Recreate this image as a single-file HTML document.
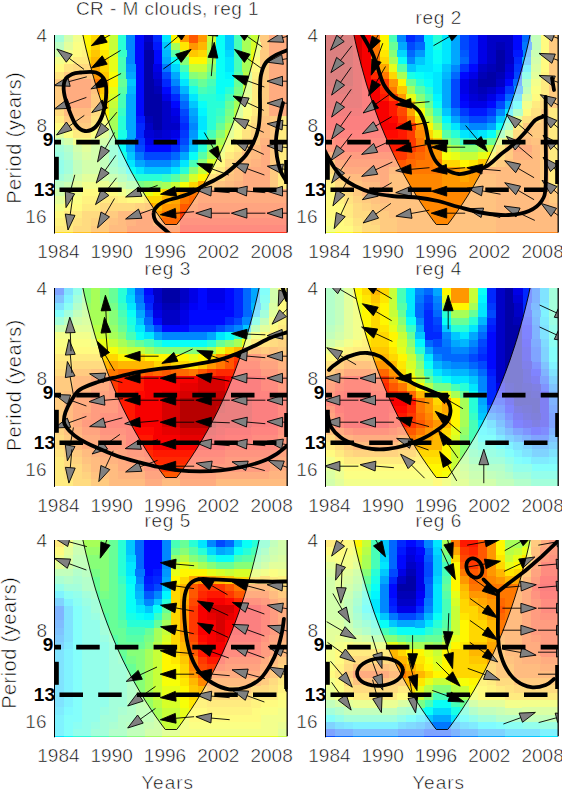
<!DOCTYPE html>
<html><head><meta charset="utf-8"><title>wavelet coherence</title>
<style>
html,body{margin:0;padding:0;background:#fff}
body{width:562px;height:792px;position:relative;overflow:hidden;font-family:"Liberation Sans",sans-serif}
svg text{font-family:"Liberation Sans",sans-serif;fill:#000;stroke:#fff;stroke-width:0.55px}
svg text[font-weight]{stroke:none}
</style></head><body>
<svg width="562" height="792" viewBox="0 0 562 792" style="position:absolute;left:0;top:0">
<defs>
<clipPath id="c1"><rect x="55" y="35" width="232" height="197.6"/></clipPath>
<clipPath id="c2"><rect x="326" y="35" width="232" height="197.6"/></clipPath>
<clipPath id="c3"><rect x="55" y="288" width="232" height="197.9"/></clipPath>
<clipPath id="c4"><rect x="326" y="288" width="232" height="197.9"/></clipPath>
<clipPath id="c5"><rect x="55" y="540" width="232" height="196.3"/></clipPath>
<clipPath id="c6"><rect x="326" y="540" width="232" height="196.3"/></clipPath>
</defs>
<g shape-rendering="crispEdges">
<path fill="#48ffb7" d="M55 35H64.2V42.6H55zM233.5 35H242.7V42.6H233.5zM233.5 42.3H242.7V49.9H233.5zM233.5 49.6H242.7V57.3H233.5zM117.5 57H126.7V64.6H117.5zM233.5 57H242.7V64.6H233.5zM117.5 64.3H126.7V71.9H117.5zM179.9 64.3H189.1V71.9H179.9zM233.5 64.3H242.7V71.9H233.5zM188.8 78.9H198.1V86.5H188.8zM206.7 78.9H215.9V86.5H206.7zM197.8 86.2H207V93.8H197.8zM117.5 93.5H126.7V101.2H117.5zM224.5 93.5H233.8V101.2H224.5zM117.5 100.9H126.7V108.5H117.5zM215.6 115.5H224.8V123.1H215.6zM206.7 130.1H215.9V137.8H206.7zM55 144.8H64.2V152.4H55zM108.5 144.8H117.8V152.4H108.5zM108.5 152.1H117.8V159.7H108.5zM63.9 159.4H73.1V167H63.9zM188.8 159.4H198.1V167H188.8zM63.9 166.7H73.1V174.4H63.9zM117.5 166.7H126.7V174.4H117.5zM55 174.1H64.2V181.7H55zM126.4 174.1H135.6V181.7H126.4z"/>
<path fill="#a7ff58" d="M63.9 35H73.1V42.6H63.9zM242.4 35H251.6V42.6H242.4zM171 42.3H180.2V49.9H171zM242.4 42.3H251.6V49.9H242.4zM55 49.6H64.2V57.3H55zM206.7 49.6H215.9V57.3H206.7zM242.4 49.6H251.6V57.3H242.4zM206.7 57H215.9V64.6H206.7zM242.4 57H251.6V64.6H242.4zM242.4 64.3H251.6V71.9H242.4zM233.5 100.9H242.7V108.5H233.5zM108.5 115.5H117.8V123.1H108.5zM108.5 122.8H117.8V130.4H108.5zM224.5 122.8H233.8V130.4H224.5zM63.9 137.5H73.1V145.1H63.9zM99.6 137.5H108.8V145.1H99.6zM215.6 137.5H224.8V145.1H215.6zM72.8 144.8H82.1V152.4H72.8zM90.7 144.8H99.9V152.4H90.7zM90.7 152.1H99.9V159.7H90.7zM206.7 152.1H215.9V159.7H206.7zM81.8 159.4H99.9V167H81.8zM81.8 166.7H99.9V174.4H81.8zM72.8 174.1H82.1V181.7H72.8zM99.6 174.1H108.8V181.7H99.6zM117.5 181.4H126.7V189H117.5zM162.1 181.4H171.3V189H162.1zM55 188.7H64.2V196.3H55z"/>
<path fill="#e7ff18" d="M72.8 35H82.1V42.6H72.8zM63.9 49.6H73.1V57.3H63.9zM251.3 49.6H260.5V57.3H251.3zM55 57H64.2V64.6H55zM108.5 57H117.8V64.6H108.5zM108.5 64.3H117.8V71.9H108.5zM108.5 86.2H117.8V93.8H108.5zM242.4 100.9H251.6V108.5H242.4zM99.6 122.8H108.8V130.4H99.6zM233.5 122.8H242.7V130.4H233.5zM72.8 137.5H82.1V145.1H72.8zM224.5 137.5H233.8V145.1H224.5zM215.6 152.1H224.8V159.7H215.6zM81.8 181.4H99.9V189H81.8zM72.8 188.7H82.1V196.3H72.8zM117.5 188.7H126.7V196.3H117.5zM144.2 188.7H153.5V196.3H144.2zM63.9 196H73.1V203.6H63.9zM55 203.3H64.2V210.9H55z"/>
<path fill="#fff700" d="M81.8 35H91V42.6H81.8zM99.6 35H108.8V42.6H99.6zM171 35H180.2V42.6H171zM81.8 42.3H91V49.9H81.8zM99.6 42.3H108.8V49.9H99.6zM72.8 49.6H82.1V57.3H72.8zM63.9 57H73.1V64.6H63.9zM188.8 57H207V64.6H188.8zM251.3 57H260.5V64.6H251.3zM55 64.3H64.2V71.9H55zM251.3 64.3H260.5V71.9H251.3zM108.5 78.9H117.8V86.5H108.5zM99.6 108.2H108.8V115.8H99.6zM242.4 115.5H251.6V123.1H242.4zM55 122.8H64.2V130.4H55zM233.5 137.5H242.7V145.1H233.5zM224.5 144.8H233.8V152.4H224.5zM215.6 159.4H224.8V167H215.6zM206.7 166.7H215.9V174.4H206.7zM197.8 174.1H207V181.7H197.8zM81.8 188.7H117.8V196.3H81.8zM153.2 188.7H162.4V196.3H153.2zM126.4 196H144.5V203.6H126.4zM63.9 203.3H82.1V210.9H63.9zM55 210.6H64.2V218.3H55z"/>
<path fill="#ffd700" d="M90.7 35H99.9V42.6H90.7zM90.7 42.3H99.9V49.9H90.7zM197.8 49.6H207V57.3H197.8zM72.8 57H91V64.6H72.8zM99.6 57H108.8V64.6H99.6zM99.6 64.3H108.8V71.9H99.6zM251.3 78.9H260.5V86.5H251.3zM251.3 86.2H260.5V93.8H251.3zM99.6 93.5H108.8V101.2H99.6zM251.3 93.5H260.5V101.2H251.3zM99.6 100.9H108.8V108.5H99.6zM251.3 100.9H260.5V108.5H251.3zM251.3 108.2H260.5V115.8H251.3zM55 115.5H64.2V123.1H55zM278.1 115.5H287.3V123.1H278.1zM90.7 122.8H99.9V130.4H90.7zM242.4 122.8H251.6V130.4H242.4zM278.1 122.8H287.3V130.4H278.1zM72.8 130.1H91V137.8H72.8zM278.1 130.1H287.3V137.8H278.1zM278.1 137.5H287.3V145.1H278.1zM233.5 144.8H242.7V152.4H233.5zM278.1 144.8H287.3V152.4H278.1zM224.5 152.1H233.8V159.7H224.5zM278.1 152.1H287.3V159.7H278.1zM278.1 159.4H287.3V167H278.1zM215.6 166.7H224.8V174.4H215.6zM278.1 166.7H287.3V174.4H278.1zM278.1 174.1H287.3V181.7H278.1zM188.8 181.4H198.1V189H188.8zM278.1 181.4H287.3V189H278.1zM162.1 188.7H171.3V196.3H162.1zM99.6 196H117.8V203.6H99.6zM144.2 196H162.4V203.6H144.2zM81.8 203.3H99.9V210.9H81.8zM63.9 210.6H82.1V218.3H63.9zM63.9 218H73.1V225.6H63.9zM55 225.3H73.1V232.9H55z"/>
<path fill="#c7ff38" d="M108.5 35H117.8V42.6H108.5zM206.7 35H215.9V42.6H206.7zM251.3 35H260.5V42.6H251.3zM63.9 42.3H73.1V49.9H63.9zM108.5 42.3H117.8V49.9H108.5zM179.9 49.6H189.1V57.3H179.9zM188.8 64.3H207V71.9H188.8zM242.4 78.9H251.6V86.5H242.4zM242.4 86.2H251.6V93.8H242.4zM108.5 100.9H117.8V108.5H108.5zM233.5 115.5H242.7V123.1H233.5zM55 130.1H64.2V137.8H55zM99.6 130.1H108.8V137.8H99.6zM224.5 130.1H233.8V137.8H224.5zM90.7 137.5H99.9V145.1H90.7zM81.8 144.8H91V152.4H81.8zM215.6 144.8H224.8V152.4H215.6zM197.8 166.7H207V174.4H197.8zM81.8 174.1H99.9V181.7H81.8zM72.8 181.4H82.1V189H72.8zM108.5 181.4H117.8V189H108.5zM171 181.4H180.2V189H171zM63.9 188.7H73.1V196.3H63.9zM126.4 188.7H144.5V196.3H126.4zM55 196H64.2V203.6H55z"/>
<path fill="#28ffd7" d="M117.5 35H126.7V42.6H117.5zM117.5 42.3H126.7V49.9H117.5zM224.5 86.2H233.8V93.8H224.5zM197.8 93.5H215.9V101.2H197.8zM206.7 100.9H224.8V108.5H206.7zM206.7 108.2H215.9V115.8H206.7zM117.5 115.5H126.7V123.1H117.5zM206.7 115.5H215.9V123.1H206.7zM117.5 122.8H126.7V130.4H117.5zM206.7 122.8H215.9V130.4H206.7zM197.8 144.8H207V152.4H197.8zM55 159.4H64.2V167H55zM117.5 159.4H126.7V167H117.5zM55 166.7H64.2V174.4H55zM179.9 166.7H189.1V174.4H179.9zM135.3 174.1H162.4V181.7H135.3z"/>
<path fill="#0087ff" d="M126.4 35H135.6V42.6H126.4zM126.4 42.3H135.6V49.9H126.4zM126.4 49.6H135.6V57.3H126.4zM126.4 57H135.6V64.6H126.4zM171 78.9H180.2V86.5H171zM179.9 93.5H189.1V101.2H179.9zM188.8 122.8H198.1V130.4H188.8zM144.2 159.4H171.3V167H144.2z"/>
<path fill="#0008ff" d="M135.3 35H144.5V42.6H135.3zM135.3 42.3H144.5V49.9H135.3zM135.3 49.6H144.5V57.3H135.3zM153.2 49.6H162.4V57.3H153.2zM135.3 57H144.5V64.6H135.3zM153.2 57H162.4V64.6H153.2zM135.3 64.3H144.5V71.9H135.3zM135.3 71.6H144.5V79.2H135.3zM135.3 78.9H144.5V86.5H135.3zM135.3 86.2H144.5V93.8H135.3zM162.1 86.2H171.3V93.8H162.1zM135.3 93.5H144.5V101.2H135.3zM135.3 100.9H144.5V108.5H135.3zM171 100.9H180.2V108.5H171zM135.3 108.2H144.5V115.8H135.3zM171 137.5H180.2V145.1H171zM144.2 144.8H171.3V152.4H144.2z"/>
<path fill="#0000c7" d="M144.2 35H153.5V42.6H144.2zM153.2 78.9H162.4V86.5H153.2zM162.1 100.9H171.3V108.5H162.1zM162.1 108.2H171.3V115.8H162.1zM162.1 115.5H171.3V123.1H162.1zM144.2 122.8H153.5V130.4H144.2zM162.1 122.8H180.2V130.4H162.1zM153.2 130.1H162.4V137.8H153.2z"/>
<path fill="#0028ff" d="M153.2 35H162.4V42.6H153.2zM162.1 78.9H171.3V86.5H162.1zM171 93.5H180.2V101.2H171zM135.3 122.8H144.5V130.4H135.3zM179.9 122.8H189.1V130.4H179.9zM135.3 130.1H144.5V137.8H135.3zM171 144.8H180.2V152.4H171z"/>
<path fill="#00e7ff" d="M162.1 35H171.3V42.6H162.1zM224.5 57H233.8V64.6H224.5zM224.5 64.3H233.8V71.9H224.5zM179.9 78.9H189.1V86.5H179.9zM188.8 93.5H198.1V101.2H188.8zM197.8 115.5H207V123.1H197.8zM197.8 122.8H207V130.4H197.8zM126.4 159.4H135.6V167H126.4zM179.9 159.4H189.1V167H179.9zM135.3 166.7H144.5V174.4H135.3zM171 166.7H180.2V174.4H171z"/>
<path fill="#ff9700" d="M179.9 35H189.1V42.6H179.9zM197.8 35H207V42.6H197.8zM260.2 35H269.5V42.6H260.2zM188.8 42.3H198.1V49.9H188.8zM260.2 42.3H269.5V49.9H260.2zM260.2 49.6H269.5V57.3H260.2zM260.2 57H269.5V64.6H260.2zM260.2 64.3H269.5V71.9H260.2zM63.9 71.6H73.1V79.2H63.9zM90.7 71.6H99.9V79.2H90.7zM260.2 71.6H269.5V79.2H260.2zM55 78.9H64.2V86.5H55zM260.2 78.9H269.5V86.5H260.2zM55 86.2H64.2V93.8H55zM260.2 86.2H269.5V93.8H260.2zM55 93.5H64.2V101.2H55zM90.7 93.5H99.9V101.2H90.7zM260.2 93.5H269.5V101.2H260.2zM55 100.9H64.2V108.5H55zM90.7 100.9H99.9V108.5H90.7zM260.2 100.9H269.5V108.5H260.2zM260.2 108.2H269.5V115.8H260.2zM63.9 115.5H73.1V123.1H63.9zM269.2 115.5H278.4V123.1H269.2zM72.8 122.8H91V130.4H72.8zM269.2 122.8H278.4V130.4H269.2zM269.2 130.1H278.4V137.8H269.2zM251.3 137.5H260.5V145.1H251.3zM269.2 137.5H278.4V145.1H269.2zM242.4 144.8H251.6V152.4H242.4zM269.2 144.8H278.4V152.4H269.2zM269.2 152.1H278.4V159.7H269.2zM233.5 159.4H242.7V167H233.5zM269.2 159.4H278.4V167H269.2zM224.5 166.7H233.8V174.4H224.5zM269.2 166.7H278.4V174.4H269.2zM269.2 174.1H278.4V181.7H269.2zM206.7 181.4H215.9V189H206.7zM269.2 181.4H278.4V189H269.2zM179.9 188.7H189.1V196.3H179.9zM144.2 203.3H153.5V210.9H144.2zM162.1 203.3H180.2V210.9H162.1zM99.6 210.6H117.8V218.3H99.6zM153.2 210.6H162.4V218.3H153.2zM99.6 218H108.8V225.6H99.6zM90.7 225.3H108.8V232.9H90.7z"/>
<path fill="#ff5800" d="M188.8 35H198.1V42.6H188.8zM269.2 35H287.3V42.6H269.2zM269.2 42.3H287.3V49.9H269.2zM269.2 49.6H287.3V57.3H269.2zM269.2 57H287.3V64.6H269.2zM269.2 64.3H287.3V71.9H269.2zM269.2 71.6H287.3V79.2H269.2zM63.9 78.9H91V86.5H63.9zM269.2 78.9H287.3V86.5H269.2zM63.9 86.2H91V93.8H63.9zM269.2 86.2H287.3V93.8H269.2zM63.9 93.5H91V101.2H63.9zM269.2 93.5H287.3V101.2H269.2zM63.9 100.9H91V108.5H63.9zM269.2 100.9H287.3V108.5H269.2zM269.2 108.2H287.3V115.8H269.2zM260.2 144.8H269.5V152.4H260.2zM260.2 152.1H269.5V159.7H260.2zM260.2 159.4H269.5V167H260.2zM242.4 166.7H269.5V174.4H242.4zM242.4 174.1H269.5V181.7H242.4zM242.4 181.4H269.5V189H242.4zM197.8 188.7H287.3V196.3H197.8zM197.8 196H287.3V203.6H197.8zM179.9 203.3H198.1V210.9H179.9zM135.3 210.6H153.5V218.3H135.3zM135.3 218H153.5V225.6H135.3zM126.4 225.3H180.2V232.9H126.4z"/>
<path fill="#08fff7" d="M215.6 35H224.8V42.6H215.6zM215.6 42.3H224.8V49.9H215.6zM215.6 49.6H224.8V57.3H215.6zM171 57H180.2V64.6H171zM215.6 57H224.8V64.6H215.6zM215.6 64.3H224.8V71.9H215.6zM215.6 71.6H224.8V79.2H215.6zM215.6 78.9H233.8V86.5H215.6zM215.6 86.2H224.8V93.8H215.6zM197.8 100.9H207V108.5H197.8zM117.5 137.5H126.7V145.1H117.5zM197.8 137.5H207V145.1H197.8zM117.5 144.8H126.7V152.4H117.5zM188.8 152.1H198.1V159.7H188.8zM126.4 166.7H135.6V174.4H126.4z"/>
<path fill="#00c7ff" d="M224.5 35H233.8V42.6H224.5zM162.1 42.3H171.3V49.9H162.1zM224.5 42.3H233.8V49.9H224.5zM126.4 78.9H135.6V86.5H126.4zM188.8 100.9H198.1V108.5H188.8zM188.8 144.8H198.1V152.4H188.8zM126.4 152.1H135.6V159.7H126.4zM144.2 166.7H171.3V174.4H144.2z"/>
<path fill="#78ff87" d="M55 42.3H64.2V49.9H55zM233.5 86.2H242.7V93.8H233.5zM224.5 108.2H233.8V115.8H224.5zM117.5 174.1H126.7V181.7H117.5zM55 181.4H64.2V189H55zM135.3 181.4H144.5V189H135.3z"/>
<path fill="#f7ff08" d="M72.8 42.3H82.1V49.9H72.8zM108.5 71.6H117.8V79.2H108.5zM242.4 108.2H251.6V115.8H242.4zM99.6 115.5H108.8V123.1H99.6zM63.9 130.1H73.1V137.8H63.9zM90.7 130.1H99.9V137.8H90.7zM233.5 130.1H242.7V137.8H233.5zM81.8 137.5H91V145.1H81.8zM179.9 181.4H189.1V189H179.9zM72.8 196H82.1V203.6H72.8z"/>
<path fill="#0000b7" d="M144.2 42.3H153.5V49.9H144.2zM153.2 86.2H162.4V93.8H153.2zM144.2 115.5H153.5V123.1H144.2z"/>
<path fill="#0018ff" d="M153.2 42.3H162.4V49.9H153.2zM135.3 115.5H144.5V123.1H135.3z"/>
<path fill="#ffe700" d="M179.9 42.3H189.1V49.9H179.9zM81.8 49.6H91V57.3H81.8zM99.6 49.6H108.8V57.3H99.6zM251.3 71.6H260.5V79.2H251.3zM81.8 196H99.9V203.6H81.8zM117.5 196H126.7V203.6H117.5zM55 218H64.2V225.6H55z"/>
<path fill="#ffb700" d="M197.8 42.3H207V49.9H197.8zM90.7 57H99.9V64.6H90.7zM72.8 64.3H91V71.9H72.8zM99.6 78.9H108.8V86.5H99.6zM55 108.2H64.2V115.8H55zM90.7 108.2H99.9V115.8H90.7zM63.9 122.8H73.1V130.4H63.9zM251.3 122.8H260.5V130.4H251.3zM242.4 137.5H251.6V145.1H242.4zM233.5 152.1H242.7V159.7H233.5zM224.5 159.4H233.8V167H224.5zM215.6 174.1H224.8V181.7H215.6zM171 188.7H180.2V196.3H171zM162.1 196H171.3V203.6H162.1zM99.6 203.3H135.6V210.9H99.6zM153.2 203.3H162.4V210.9H153.2zM81.8 210.6H99.9V218.3H81.8zM81.8 218H91V225.6H81.8zM72.8 225.3H91V232.9H72.8z"/>
<path fill="#b7ff48" d="M206.7 42.3H215.9V49.9H206.7zM242.4 71.6H251.6V79.2H242.4zM108.5 108.2H117.8V115.8H108.5zM233.5 108.2H242.7V115.8H233.5zM81.8 152.1H91V159.7H81.8z"/>
<path fill="#d7ff28" d="M251.3 42.3H260.5V49.9H251.3zM108.5 49.6H117.8V57.3H108.5zM108.5 93.5H117.8V101.2H108.5zM242.4 93.5H251.6V101.2H242.4zM206.7 159.4H215.9V167H206.7zM188.8 174.1H198.1V181.7H188.8zM99.6 181.4H108.8V189H99.6z"/>
<path fill="#ffc700" d="M90.7 49.6H99.9V57.3H90.7zM188.8 49.6H198.1V57.3H188.8zM63.9 64.3H73.1V71.9H63.9zM55 71.6H64.2V79.2H55zM99.6 71.6H108.8V79.2H99.6zM99.6 86.2H108.8V93.8H99.6zM90.7 115.5H99.9V123.1H90.7zM251.3 115.5H260.5V123.1H251.3zM242.4 130.1H251.6V137.8H242.4zM206.7 174.1H215.9V181.7H206.7zM72.8 218H82.1V225.6H72.8z"/>
<path fill="#38ffc7" d="M117.5 49.6H126.7V57.3H117.5zM206.7 86.2H215.9V93.8H206.7zM117.5 108.2H126.7V115.8H117.5zM215.6 108.2H224.8V115.8H215.6zM55 152.1H64.2V159.7H55zM162.1 174.1H171.3V181.7H162.1z"/>
<path fill="#0000a7" d="M144.2 49.6H153.5V57.3H144.2zM144.2 57H153.5V64.6H144.2zM144.2 64.3H153.5V71.9H144.2zM144.2 71.6H153.5V79.2H144.2zM144.2 78.9H153.5V86.5H144.2zM144.2 86.2H153.5V93.8H144.2zM144.2 93.5H162.4V101.2H144.2zM144.2 100.9H162.4V108.5H144.2zM144.2 108.2H162.4V115.8H144.2zM153.2 115.5H162.4V123.1H153.2zM153.2 122.8H162.4V130.4H153.2z"/>
<path fill="#00b7ff" d="M162.1 49.6H171.3V57.3H162.1zM126.4 86.2H135.6V93.8H126.4zM179.9 86.2H189.1V93.8H179.9z"/>
<path fill="#58ffa7" d="M171 49.6H180.2V57.3H171zM117.5 71.6H126.7V79.2H117.5zM233.5 71.6H242.7V79.2H233.5zM117.5 86.2H126.7V93.8H117.5zM63.9 152.1H73.1V159.7H63.9zM197.8 152.1H207V159.7H197.8zM108.5 159.4H117.8V167H108.5zM171 174.1H180.2V181.7H171z"/>
<path fill="#00d7ff" d="M224.5 49.6H233.8V57.3H224.5zM171 64.3H180.2V71.9H171z"/>
<path fill="#00a7ff" d="M162.1 57H171.3V64.6H162.1zM126.4 71.6H135.6V79.2H126.4zM171 71.6H180.2V79.2H171zM126.4 93.5H135.6V101.2H126.4zM126.4 100.9H135.6V108.5H126.4zM126.4 108.2H135.6V115.8H126.4zM188.8 108.2H198.1V115.8H188.8zM126.4 115.5H135.6V123.1H126.4zM126.4 122.8H135.6V130.4H126.4zM126.4 130.1H135.6V137.8H126.4zM126.4 137.5H135.6V145.1H126.4zM188.8 137.5H198.1V145.1H188.8zM126.4 144.8H135.6V152.4H126.4zM179.9 152.1H189.1V159.7H179.9zM135.3 159.4H144.5V167H135.3zM171 159.4H180.2V167H171z"/>
<path fill="#87ff78" d="M179.9 57H189.1V64.6H179.9zM206.7 64.3H215.9V71.9H206.7zM188.8 71.6H198.1V79.2H188.8zM233.5 93.5H242.7V101.2H233.5zM224.5 115.5H233.8V123.1H224.5zM108.5 130.1H117.8V137.8H108.5zM215.6 130.1H224.8V137.8H215.6zM55 137.5H64.2V145.1H55zM99.6 144.8H108.8V152.4H99.6zM206.7 144.8H215.9V152.4H206.7zM99.6 152.1H108.8V159.7H99.6zM72.8 159.4H82.1V167H72.8zM99.6 159.4H108.8V167H99.6zM197.8 159.4H207V167H197.8zM72.8 166.7H82.1V174.4H72.8zM99.6 166.7H108.8V174.4H99.6zM188.8 166.7H198.1V174.4H188.8zM179.9 174.1H189.1V181.7H179.9zM126.4 181.4H135.6V189H126.4zM144.2 181.4H153.5V189H144.2z"/>
<path fill="#ffa700" d="M90.7 64.3H99.9V71.9H90.7zM251.3 130.1H260.5V137.8H251.3zM197.8 181.4H207V189H197.8zM171 196H180.2V203.6H171zM135.3 203.3H144.5V210.9H135.3zM90.7 218H99.9V225.6H90.7z"/>
<path fill="#0097ff" d="M126.4 64.3H135.6V71.9H126.4zM188.8 115.5H198.1V123.1H188.8zM188.8 130.1H198.1V137.8H188.8z"/>
<path fill="#0000e7" d="M153.2 64.3H162.4V71.9H153.2zM162.1 93.5H171.3V101.2H162.1zM171 108.2H180.2V115.8H171zM171 130.1H180.2V137.8H171zM144.2 137.5H171.3V145.1H144.2z"/>
<path fill="#0078ff" d="M162.1 64.3H171.3V71.9H162.1zM135.3 152.1H144.5V159.7H135.3z"/>
<path fill="#ff8700" d="M72.8 71.6H91V79.2H72.8zM90.7 86.2H99.9V93.8H90.7zM72.8 115.5H91V123.1H72.8zM260.2 115.5H269.5V123.1H260.2zM242.4 152.1H251.6V159.7H242.4zM224.5 174.1H233.8V181.7H224.5zM215.6 181.4H224.8V189H215.6zM108.5 218H117.8V225.6H108.5z"/>
<path fill="#0000d7" d="M153.2 71.6H162.4V79.2H153.2zM171 115.5H180.2V123.1H171zM144.2 130.1H153.5V137.8H144.2zM162.1 130.1H171.3V137.8H162.1z"/>
<path fill="#0048ff" d="M162.1 71.6H171.3V79.2H162.1zM179.9 108.2H189.1V115.8H179.9zM179.9 137.5H189.1V145.1H179.9zM135.3 144.8H144.5V152.4H135.3zM144.2 152.1H171.3V159.7H144.2z"/>
<path fill="#18ffe7" d="M179.9 71.6H189.1V79.2H179.9zM188.8 86.2H198.1V93.8H188.8zM215.6 93.5H224.8V101.2H215.6zM117.5 130.1H126.7V137.8H117.5zM117.5 152.1H126.7V159.7H117.5z"/>
<path fill="#97ff68" d="M197.8 71.6H207V79.2H197.8zM72.8 152.1H82.1V159.7H72.8zM108.5 174.1H117.8V181.7H108.5zM63.9 181.4H73.1V189H63.9zM153.2 181.4H162.4V189H153.2z"/>
<path fill="#68ff97" d="M206.7 71.6H215.9V79.2H206.7zM117.5 78.9H126.7V86.5H117.5zM197.8 78.9H207V86.5H197.8zM233.5 78.9H242.7V86.5H233.5zM224.5 100.9H233.8V108.5H224.5zM215.6 122.8H224.8V130.4H215.6zM108.5 137.5H117.8V145.1H108.5zM206.7 137.5H215.9V145.1H206.7zM63.9 144.8H73.1V152.4H63.9zM108.5 166.7H117.8V174.4H108.5zM63.9 174.1H73.1V181.7H63.9z"/>
<path fill="#00f7ff" d="M224.5 71.6H233.8V79.2H224.5zM197.8 108.2H207V115.8H197.8zM197.8 130.1H207V137.8H197.8z"/>
<path fill="#ff7800" d="M90.7 78.9H99.9V86.5H90.7zM63.9 108.2H91V115.8H63.9zM260.2 122.8H269.5V130.4H260.2zM260.2 130.1H269.5V137.8H260.2zM251.3 144.8H260.5V152.4H251.3zM251.3 152.1H260.5V159.7H251.3zM242.4 159.4H251.6V167H242.4zM233.5 166.7H242.7V174.4H233.5zM233.5 174.1H242.7V181.7H233.5zM224.5 181.4H233.8V189H224.5zM188.8 188.7H198.1V196.3H188.8zM179.9 196H189.1V203.6H179.9zM117.5 210.6H135.6V218.3H117.5zM162.1 210.6H180.2V218.3H162.1zM117.5 218H126.7V225.6H117.5zM153.2 218H162.4V225.6H153.2zM108.5 225.3H126.7V232.9H108.5z"/>
<path fill="#0058ff" d="M171 86.2H180.2V93.8H171z"/>
<path fill="#0068ff" d="M179.9 100.9H189.1V108.5H179.9zM179.9 144.8H189.1V152.4H179.9zM171 152.1H180.2V159.7H171z"/>
<path fill="#0038ff" d="M179.9 115.5H189.1V123.1H179.9zM179.9 130.1H189.1V137.8H179.9zM135.3 137.5H144.5V145.1H135.3z"/>
<path fill="#ff6800" d="M260.2 137.5H269.5V145.1H260.2zM251.3 159.4H260.5V167H251.3zM233.5 181.4H242.7V189H233.5zM188.8 196H198.1V203.6H188.8zM126.4 218H135.6V225.6H126.4zM162.1 218H180.2V225.6H162.1z"/>
<path fill="#ff4800" d="M197.8 203.3H287.3V210.9H197.8z"/>
<path fill="#ff3800" d="M179.9 210.6H287.3V218.3H179.9z"/>
<path fill="#ff2800" d="M179.9 218H287.3V225.6H179.9z"/>
<path fill="#ff1800" d="M179.9 225.3H287.3V232.9H179.9z"/>
</g>
<g clip-path="url(#c1)">
<path d="M91.3 45.7L102.3 33.7L107.2 42.2z" fill="#000"/>
<path d="M190.2 26.3L181.5 40L175.2 32.5z" fill="#000"/>
<path d="M214.3 20.3L217.8 36.1L208 35.3z" fill="#000"/>
<path d="M234.5 27.4L250 32.3L244.4 40.4z" fill="#000"/>
<path d="M267.6 41.6L281.3 32.9L283.8 42.3z" fill="#000"/>
<path d="M56.8 49L72.2 54.4L66.3 62.2z" fill="#000"/>
<path d="M91.4 68L102.2 55.8L107.2 64.2z" fill="#000"/>
<path d="M191.1 49.4L181.2 62.4L175.6 54.3z" fill="#000"/>
<path d="M214.3 42.3L217.8 58.1L208 57.3z" fill="#000"/>
<path d="M234.5 49.4L250 54.3L244.4 62.4z" fill="#000"/>
<path d="M267.3 62.2L281.7 54.6L283.4 64.3z" fill="#000"/>
<path d="M54 85.6L67.7 76.9L70.2 86.3z" fill="#000"/>
<path d="M90.9 88.9L102.4 77.5L106.9 86.2z" fill="#000"/>
<path d="M232.4 75.4L248.7 76.1L245.3 85.3z" fill="#000"/>
<path d="M267 81.2L282.5 76.3L282.5 86.1z" fill="#000"/>
<path d="M54.4 109L67.3 99.1L70.7 108.3z" fill="#000"/>
<path d="M91.7 112.5L102.1 99.9L107.4 108.1z" fill="#000"/>
<path d="M233 96L249.1 98.1L245 107z" fill="#000"/>
<path d="M267 103.2L282.5 98.3L282.5 108.1z" fill="#000"/>
<path d="M56.5 135L66.4 122L72 130.1z" fill="#000"/>
<path d="M95.1 138.2L101.3 123.2L108.8 129.5z" fill="#000"/>
<path d="M233 118L249.1 120.1L245 129z" fill="#000"/>
<path d="M267.1 123.7L282.9 120.2L282.1 130z" fill="#000"/>
<path d="M97.5 161.9L101 146L109.5 150.9z" fill="#000"/>
<path d="M221.3 161.9L209.3 150.9L217.8 146z" fill="#000"/>
<path d="M233 140L249.1 142.1L245 151z" fill="#000"/>
<path d="M267.1 145.7L282.9 142.2L282.1 152z" fill="#000"/>
<path d="M96.2 183.1L101.1 167.6L109.2 173.2z" fill="#000"/>
<path d="M196.8 163.4L213.1 164.1L209.7 173.3z" fill="#000"/>
<path d="M232.4 163.4L248.7 164.1L245.3 173.3z" fill="#000"/>
<path d="M267.3 166.2L283.4 164.1L281.7 173.8z" fill="#000"/>
<path d="M66 207.6L65.3 191.4L74.7 193.9z" fill="#000"/>
<path d="M95.5 204.6L101.2 189.4L108.9 195.4z" fill="#000"/>
<path d="M125.6 197L138.5 187.1L141.9 196.3z" fill="#000"/>
<path d="M160.5 194.2L174.9 186.6L176.6 196.3z" fill="#000"/>
<path d="M195.9 189.7L211.7 186.2L210.9 196z" fill="#000"/>
<path d="M231.5 189.7L247.3 186.2L246.5 196z" fill="#000"/>
<path d="M267 191.2L282.5 186.3L282.5 196.1z" fill="#000"/>
<path d="M68 230L65.3 214L75 215.4z" fill="#000"/>
<path d="M97.5 227.9L101 212L109.5 216.9z" fill="#000"/>
<path d="M125.6 219L138.5 209.1L141.9 218.3z" fill="#000"/>
<path d="M160.3 214.7L175.3 208.4L176.1 218.2z" fill="#000"/>
<path d="M195.8 213.2L211.3 208.3L211.3 218.1z" fill="#000"/>
<path d="M231.4 213.2L246.9 208.3L246.9 218.1z" fill="#000"/>
<path d="M267 213.2L282.5 208.3L282.5 218.1z" fill="#000"/>
<path d="M55 35L82.9 35L83.6 38L84.2 41L84.9 44L85.6 47L86.3 50L87.1 53L87.8 56L88.6 59L89.4 62L90.1 65L91 68L91.8 71L92.6 74L93.5 77L94.3 80L95.2 83L96.1 86L97.1 89L98 92L99 95L100 98L101 101L102 104L103 107L104.1 110L105.2 113L106.3 116L107.4 119L108.6 122L109.7 125L110.9 128L112.2 131L113.4 134L114.7 137L116 140L117.3 143L118.6 146L120 149L121.4 152L122.8 155L124.3 158L125.8 161L127.3 164L128.9 167L130.4 170L132 173L133.7 176L135.4 179L137.1 182L138.8 185L140.6 188L142.4 191L144.3 194L146.1 197L148.1 200L150 203L152 206L154.1 209L156.1 212L158.3 215L160.4 218L162.6 221L164.9 224L165.3 224.5L176.7 224.5L177.1 224L179.4 221L181.6 218L183.7 215L185.9 212L187.9 209L190 206L192 203L193.9 200L195.9 197L197.7 194L199.6 191L201.4 188L203.2 185L204.9 182L206.6 179L208.3 176L210 173L211.6 170L213.1 167L214.7 164L216.2 161L217.7 158L219.2 155L220.6 152L222 149L223.4 146L224.7 143L226 140L227.3 137L228.6 134L229.8 131L231.1 128L232.3 125L233.4 122L234.6 119L235.7 116L236.8 113L237.9 110L239 107L240 104L241 101L242 98L243 95L244 92L244.9 89L245.9 86L246.8 83L247.7 80L248.5 77L249.4 74L250.2 71L251 68L251.9 65L252.6 62L253.4 59L254.2 56L254.9 53L255.7 50L256.4 47L257.1 44L257.8 41L258.4 38L259.1 35L287 35L287 232.6L55 232.6z" fill="#fff" fill-opacity="0.5"/>
<path d="M82.9 35L83.6 38L84.2 41L84.9 44L85.6 47L86.3 50L87.1 53L87.8 56L88.6 59L89.4 62L90.1 65L91 68L91.8 71L92.6 74L93.5 77L94.3 80L95.2 83L96.1 86L97.1 89L98 92L99 95L100 98L101 101L102 104L103 107L104.1 110L105.2 113L106.3 116L107.4 119L108.6 122L109.7 125L110.9 128L112.2 131L113.4 134L114.7 137L116 140L117.3 143L118.6 146L120 149L121.4 152L122.8 155L124.3 158L125.8 161L127.3 164L128.9 167L130.4 170L132 173L133.7 176L135.4 179L137.1 182L138.8 185L140.6 188L142.4 191L144.3 194L146.1 197L148.1 200L150 203L152 206L154.1 209L156.1 212L158.3 215L160.4 218L162.6 221L164.9 224L165.3 224.5L176.7 224.5L177.1 224L179.4 221L181.6 218L183.7 215L185.9 212L187.9 209L190 206L192 203L193.9 200L195.9 197L197.7 194L199.6 191L201.4 188L203.2 185L204.9 182L206.6 179L208.3 176L210 173L211.6 170L213.1 167L214.7 164L216.2 161L217.7 158L219.2 155L220.6 152L222 149L223.4 146L224.7 143L226 140L227.3 137L228.6 134L229.8 131L231.1 128L232.3 125L233.4 122L234.6 119L235.7 116L236.8 113L237.9 110L239 107L240 104L241 101L242 98L243 95L244 92L244.9 89L245.9 86L246.8 83L247.7 80L248.5 77L249.4 74L250.2 71L251 68L251.9 65L252.6 62L253.4 59L254.2 56L254.9 53L255.7 50L256.4 47L257.1 44L257.8 41L258.4 38L259.1 35" stroke="#000" stroke-width="0.9" fill="none"/>
<path d="M120.7 28.7L104.7 38M91.3 45.7L102.3 33.7L107.2 42.2z" stroke="#000" stroke-width="0.9" fill="none" stroke-linejoin="round"/>
<path d="M164.2 48.1L178.3 36.2M190.2 26.3L181.5 40L175.2 32.5z" stroke="#000" stroke-width="0.9" fill="none" stroke-linejoin="round"/>
<path d="M211.3 54.1L212.9 35.7M214.3 20.3L217.8 36.1L208 35.3z" stroke="#000" stroke-width="0.9" fill="none" stroke-linejoin="round"/>
<path d="M262.3 47L247.2 36.3M234.5 27.4L250 32.3L244.4 40.4z" stroke="#000" stroke-width="0.9" fill="none" stroke-linejoin="round"/>
<path d="M300.4 32.8L282.6 37.6M267.6 41.6L281.3 32.9L283.8 42.3z" stroke="#000" stroke-width="0.9" fill="none" stroke-linejoin="round"/>
<path d="M84 69.4L69.2 58.3M56.8 49L72.2 54.4L66.3 62.2z" stroke="#000" stroke-width="0.9" fill="none" stroke-linejoin="round"/>
<path d="M120.6 50.4L104.7 60M91.4 68L102.2 55.8L107.2 64.2z" stroke="#000" stroke-width="0.9" fill="none" stroke-linejoin="round"/>
<path d="M163.3 69L178.4 58.3M191.1 49.4L181.2 62.4L175.6 54.3z" stroke="#000" stroke-width="0.9" fill="none" stroke-linejoin="round"/>
<path d="M211.3 76.1L212.9 57.7M214.3 42.3L217.8 58.1L208 57.3z" stroke="#000" stroke-width="0.9" fill="none" stroke-linejoin="round"/>
<path d="M262.3 69L247.2 58.3M234.5 49.4L250 54.3L244.4 62.4z" stroke="#000" stroke-width="0.9" fill="none" stroke-linejoin="round"/>
<path d="M300.7 56.2L282.5 59.5M267.3 62.2L281.7 54.6L283.4 64.3z" stroke="#000" stroke-width="0.9" fill="none" stroke-linejoin="round"/>
<path d="M86.8 76.8L69 81.6M54 85.6L67.7 76.9L70.2 86.3z" stroke="#000" stroke-width="0.9" fill="none" stroke-linejoin="round"/>
<path d="M121.1 73.5L104.7 81.9M90.9 88.9L102.4 77.5L106.9 86.2z" stroke="#000" stroke-width="0.9" fill="none" stroke-linejoin="round"/>
<path d="M264.4 87L247 80.7M232.4 75.4L248.7 76.1L245.3 85.3z" stroke="#000" stroke-width="0.9" fill="none" stroke-linejoin="round"/>
<path d="M301 81.2L282.5 81.2M267 81.2L282.5 76.3L282.5 86.1z" stroke="#000" stroke-width="0.9" fill="none" stroke-linejoin="round"/>
<path d="M86.4 97.4L69 103.7M54.4 109L67.3 99.1L70.7 108.3z" stroke="#000" stroke-width="0.9" fill="none" stroke-linejoin="round"/>
<path d="M120.3 93.9L104.7 104M91.7 112.5L102.1 99.9L107.4 108.1z" stroke="#000" stroke-width="0.9" fill="none" stroke-linejoin="round"/>
<path d="M263.8 110.4L247 102.6M233 96L249.1 98.1L245 107z" stroke="#000" stroke-width="0.9" fill="none" stroke-linejoin="round"/>
<path d="M301 103.2L282.5 103.2M267 103.2L282.5 98.3L282.5 108.1z" stroke="#000" stroke-width="0.9" fill="none" stroke-linejoin="round"/>
<path d="M84.3 115.4L69.2 126.1M56.5 135L66.4 122L72 130.1z" stroke="#000" stroke-width="0.9" fill="none" stroke-linejoin="round"/>
<path d="M116.9 112.2L105 126.3M95.1 138.2L101.3 123.2L108.8 129.5z" stroke="#000" stroke-width="0.9" fill="none" stroke-linejoin="round"/>
<path d="M263.8 132.4L247 124.6M233 118L249.1 120.1L245 129z" stroke="#000" stroke-width="0.9" fill="none" stroke-linejoin="round"/>
<path d="M300.9 126.7L282.5 125.1M267.1 123.7L282.9 120.2L282.1 130z" stroke="#000" stroke-width="0.9" fill="none" stroke-linejoin="round"/>
<path d="M114.5 132.5L105.2 148.5M97.5 161.9L101 146L109.5 150.9z" stroke="#000" stroke-width="0.9" fill="none" stroke-linejoin="round"/>
<path d="M204.3 132.5L213.6 148.5M221.3 161.9L209.3 150.9L217.8 146z" stroke="#000" stroke-width="0.9" fill="none" stroke-linejoin="round"/>
<path d="M263.8 154.4L247 146.6M233 140L249.1 142.1L245 151z" stroke="#000" stroke-width="0.9" fill="none" stroke-linejoin="round"/>
<path d="M300.9 148.7L282.5 147.1M267.1 145.7L282.9 142.2L282.1 152z" stroke="#000" stroke-width="0.9" fill="none" stroke-linejoin="round"/>
<path d="M115.8 155.3L105.1 170.4M96.2 183.1L101.1 167.6L109.2 173.2z" stroke="#000" stroke-width="0.9" fill="none" stroke-linejoin="round"/>
<path d="M228.8 175L211.4 168.7M196.8 163.4L213.1 164.1L209.7 173.3z" stroke="#000" stroke-width="0.9" fill="none" stroke-linejoin="round"/>
<path d="M264.4 175L247 168.7M232.4 163.4L248.7 164.1L245.3 173.3z" stroke="#000" stroke-width="0.9" fill="none" stroke-linejoin="round"/>
<path d="M300.7 172.2L282.5 168.9M267.3 166.2L283.4 164.1L281.7 173.8z" stroke="#000" stroke-width="0.9" fill="none" stroke-linejoin="round"/>
<path d="M74.8 174.8L70 192.6M66 207.6L65.3 191.4L74.7 193.9z" stroke="#000" stroke-width="0.9" fill="none" stroke-linejoin="round"/>
<path d="M116.5 177.8L105.1 192.4M95.5 204.6L101.2 189.4L108.9 195.4z" stroke="#000" stroke-width="0.9" fill="none" stroke-linejoin="round"/>
<path d="M157.6 185.4L140.2 191.7M125.6 197L138.5 187.1L141.9 196.3z" stroke="#000" stroke-width="0.9" fill="none" stroke-linejoin="round"/>
<path d="M193.9 188.2L175.7 191.5M160.5 194.2L174.9 186.6L176.6 196.3z" stroke="#000" stroke-width="0.9" fill="none" stroke-linejoin="round"/>
<path d="M229.7 192.7L211.3 191.1M195.9 189.7L211.7 186.2L210.9 196z" stroke="#000" stroke-width="0.9" fill="none" stroke-linejoin="round"/>
<path d="M265.3 192.7L246.9 191.1M231.5 189.7L247.3 186.2L246.5 196z" stroke="#000" stroke-width="0.9" fill="none" stroke-linejoin="round"/>
<path d="M301 191.2L282.5 191.2M267 191.2L282.5 186.3L282.5 196.1z" stroke="#000" stroke-width="0.9" fill="none" stroke-linejoin="round"/>
<path d="M72.8 196.4L70.2 214.7M68 230L65.3 214L75 215.4z" stroke="#000" stroke-width="0.9" fill="none" stroke-linejoin="round"/>
<path d="M114.5 198.5L105.2 214.5M97.5 227.9L101 212L109.5 216.9z" stroke="#000" stroke-width="0.9" fill="none" stroke-linejoin="round"/>
<path d="M157.6 207.4L140.2 213.7M125.6 219L138.5 209.1L141.9 218.3z" stroke="#000" stroke-width="0.9" fill="none" stroke-linejoin="round"/>
<path d="M194.1 211.7L175.7 213.3M160.3 214.7L175.3 208.4L176.1 218.2z" stroke="#000" stroke-width="0.9" fill="none" stroke-linejoin="round"/>
<path d="M229.8 213.2L211.3 213.2M195.8 213.2L211.3 208.3L211.3 218.1z" stroke="#000" stroke-width="0.9" fill="none" stroke-linejoin="round"/>
<path d="M265.4 213.2L246.9 213.2M231.4 213.2L246.9 208.3L246.9 218.1z" stroke="#000" stroke-width="0.9" fill="none" stroke-linejoin="round"/>
<path d="M301 213.2L282.5 213.2M267 213.2L282.5 208.3L282.5 218.1z" stroke="#000" stroke-width="0.9" fill="none" stroke-linejoin="round"/>
<path transform="translate(55 35)" d="M25.0 37.5C28.9 37.2 36.8 36.1 41.0 37.5C45.2 38.9 48.3 41.8 50.0 46.0C51.7 50.2 51.4 56.8 51.0 62.5C50.6 68.2 49.3 75.0 47.5 80.0C45.7 85.0 42.9 89.8 40.0 92.5C37.1 95.2 33.2 96.4 30.0 96.0C26.8 95.6 23.7 93.5 21.0 90.0C18.3 86.5 16.0 80.4 14.0 75.0C12.0 69.6 9.7 62.5 9.0 57.5C8.3 52.5 8.6 48.1 10.0 45.0C11.4 41.9 15.0 40.2 17.5 39.0C20.0 37.8 21.1 37.8 25.0 37.5z" stroke="#000" stroke-width="3.8" fill="none" stroke-linejoin="round" stroke-linecap="round"/>
<path transform="translate(55 35)" d="M115.0 199.0C113.8 198.0 110.4 195.2 108.0 193.0C105.6 190.8 102.1 188.6 100.6 186.0C99.1 183.4 98.3 179.9 98.8 177.3C99.2 174.7 101.2 172.1 103.3 170.2C105.4 168.3 107.9 167.0 111.3 165.7C114.7 164.4 119.6 163.5 123.7 162.2C127.8 160.9 132.0 159.6 136.2 157.7C140.3 155.8 144.8 152.7 148.6 150.6C152.4 148.5 155.7 147.1 159.3 145.2C162.9 143.3 166.4 141.5 170.0 139.0C173.6 136.5 177.5 133.2 181.0 130.0C184.5 126.8 188.1 123.8 191.0 120.0C193.9 116.2 196.4 112.1 198.5 107.5C200.6 102.9 202.4 97.9 203.5 92.5C204.6 87.1 204.8 81.2 205.0 75.0C205.2 68.8 204.8 60.8 205.0 55.0C205.2 49.2 205.0 44.6 206.0 40.0C207.0 35.4 208.5 30.8 211.0 27.5C213.5 24.2 217.3 22.1 221.0 20.0C224.7 17.9 231.0 15.8 233.0 15.0" stroke="#000" stroke-width="3.8" fill="none" stroke-linejoin="round" stroke-linecap="round"/>
<path transform="translate(55 35)" d="M228.0 68.0C227.3 70.8 225.2 78.8 224.0 85.0C222.8 91.2 221.3 98.8 221.0 105.0C220.7 111.2 221.2 116.7 222.0 122.0C222.8 127.3 224.3 132.8 226.0 137.0C227.7 141.2 231.0 145.3 232.0 147.0" stroke="#000" stroke-width="3.8" fill="none" stroke-linejoin="round" stroke-linecap="round"/>
<path d="M55 142.1H291" stroke="#000" stroke-width="4.6" stroke-dasharray="23.5 15.2" stroke-dashoffset="17.5"/>
<path d="M55 189.8H291" stroke="#000" stroke-width="4.6" stroke-dasharray="23.5 15.2" stroke-dashoffset="34.2"/>
</g>
<rect x="54.5" y="156.8" width="4.3" height="23" fill="#000"/>
<path d="M287.2 35V232.6" stroke="#000" stroke-width="1.3"/>
<rect x="284.2" y="160" width="3.6" height="24" fill="#000"/>
<path d="M54.5 35V233.6" stroke="#000" stroke-width="1"/>
<text x="47" y="41.9" text-anchor="end" font-size="19">4</text>
<text x="47" y="131.7" text-anchor="end" font-size="19">8</text>
<text x="53.3" y="146.1" text-anchor="end" font-size="19" font-weight="bold">9</text>
<text x="55" y="195.7" text-anchor="end" font-size="19" font-weight="bold">13</text>
<text x="46.5" y="223.3" text-anchor="end" font-size="19">16</text>
<text x="58.4" y="258.4" text-anchor="middle" font-size="19">1984</text>
<text x="111.7" y="258.4" text-anchor="middle" font-size="19">1990</text>
<text x="165" y="258.4" text-anchor="middle" font-size="19">1996</text>
<text x="218.3" y="258.4" text-anchor="middle" font-size="19">2002</text>
<text x="271.6" y="258.4" text-anchor="middle" font-size="19">2008</text>
<text x="167.3" y="15.1" text-anchor="middle" font-size="19" textLength="182.8">CR - M clouds, reg 1</text>
<g shape-rendering="crispEdges">
<path fill="#b70000" d="M326 35H353.1V42.6H326zM326 42.3H353.1V49.9H326zM326 49.6H353.1V57.3H326zM326 57H353.1V64.6H326zM326 64.3H353.1V71.9H326zM326 71.6H353.1V79.2H326zM326 78.9H353.1V86.5H326z"/>
<path fill="#d70000" d="M352.8 35H362V42.6H352.8zM352.8 42.3H362V49.9H352.8zM352.8 49.6H362V57.3H352.8zM352.8 57H362V64.6H352.8zM352.8 64.3H362V71.9H352.8zM352.8 71.6H362V79.2H352.8zM352.8 78.9H362V86.5H352.8zM352.8 86.2H362V93.8H352.8zM326 93.5H362V101.2H326zM326 100.9H362V108.5H326z"/>
<path fill="#f70000" d="M361.7 35H370.9V42.6H361.7zM361.7 42.3H370.9V49.9H361.7zM361.7 49.6H370.9V57.3H361.7zM361.7 57H370.9V64.6H361.7zM361.7 64.3H370.9V71.9H361.7zM361.7 71.6H370.9V79.2H361.7zM361.7 78.9H379.8V86.5H361.7zM361.7 86.2H379.8V93.8H361.7zM361.7 93.5H379.8V101.2H361.7zM361.7 100.9H388.8V108.5H361.7zM361.7 108.2H388.8V115.8H361.7zM326 115.5H388.8V123.1H326zM326 122.8H397.7V130.4H326z"/>
<path fill="#ff7800" d="M370.6 35H379.8V42.6H370.6zM370.6 42.3H379.8V49.9H370.6zM370.6 49.6H379.8V57.3H370.6zM370.6 57H379.8V64.6H370.6zM379.5 71.6H388.8V79.2H379.5zM388.5 86.2H397.7V93.8H388.5zM406.3 115.5H415.5V123.1H406.3zM415.2 137.5H424.5V145.1H415.2zM522.3 137.5H531.5V145.1H522.3zM424.2 144.8H433.4V152.4H424.2zM531.2 144.8H540.5V152.4H531.2zM424.2 152.1H433.4V159.7H424.2zM531.2 152.1H540.5V159.7H531.2zM415.2 159.4H433.4V167H415.2zM513.4 159.4H540.5V167H513.4zM334.9 166.7H344.1V174.4H334.9zM388.5 166.7H442.3V174.4H388.5zM477.7 166.7H540.5V174.4H477.7zM343.8 174.1H362V181.7H343.8zM495.5 174.1H540.5V181.7H495.5zM361.7 181.4H379.8V189H361.7zM495.5 181.4H540.5V189H495.5zM361.7 188.7H379.8V196.3H361.7zM495.5 188.7H549.4V196.3H495.5zM379.5 196H388.8V203.6H379.5zM495.5 196H549.4V203.6H495.5zM495.5 203.3H549.4V210.9H495.5zM495.5 210.6H558.3V218.3H495.5zM495.5 218H558.3V225.6H495.5zM495.5 225.3H558.3V232.9H495.5z"/>
<path fill="#fff700" d="M379.5 35H388.8V42.6H379.5zM540.2 35H549.4V42.6H540.2zM379.5 42.3H388.8V49.9H379.5zM540.2 42.3H549.4V49.9H540.2zM540.2 49.6H549.4V57.3H540.2zM540.2 57H549.4V64.6H540.2zM540.2 64.3H549.4V71.9H540.2zM397.4 78.9H406.6V86.5H397.4zM531.2 93.5H540.5V101.2H531.2zM522.3 108.2H531.5V115.8H522.3zM424.2 122.8H433.4V130.4H424.2zM504.5 137.5H513.7V145.1H504.5zM486.6 152.1H495.8V159.7H486.6zM459.8 159.4H469.1V167H459.8zM326 188.7H335.2V196.3H326zM326 196H335.2V203.6H326zM326 203.3H344.1V210.9H326zM326 210.6H344.1V218.3H326zM334.9 218H344.1V225.6H334.9zM334.9 225.3H353.1V232.9H334.9z"/>
<path fill="#48ffb7" d="M388.5 35H397.7V42.6H388.5zM424.2 93.5H433.4V101.2H424.2zM477.7 137.5H486.9V145.1H477.7z"/>
<path fill="#0087ff" d="M397.4 35H406.6V42.6H397.4zM522.3 49.6H531.5V57.3H522.3zM406.3 57H415.5V64.6H406.3zM450.9 64.3H460.1V71.9H450.9zM495.5 108.2H504.8V115.8H495.5zM468.8 122.8H486.9V130.4H468.8z"/>
<path fill="#0028ff" d="M406.3 35H415.5V42.6H406.3zM468.8 35H478V42.6H468.8zM468.8 42.3H478V49.9H468.8zM468.8 49.6H478V57.3H468.8zM468.8 57H478V64.6H468.8zM513.4 57H522.6V64.6H513.4z"/>
<path fill="#0048ff" d="M415.2 35H424.5V42.6H415.2zM459.8 35H469.1V42.6H459.8zM406.3 42.3H415.5V49.9H406.3zM459.8 42.3H469.1V49.9H459.8zM513.4 71.6H522.6V79.2H513.4zM450.9 78.9H460.1V86.5H450.9zM450.9 86.2H460.1V93.8H450.9zM450.9 93.5H460.1V101.2H450.9zM450.9 100.9H460.1V108.5H450.9zM495.5 100.9H504.8V108.5H495.5zM468.8 115.5H486.9V123.1H468.8z"/>
<path fill="#00e7ff" d="M424.2 35H433.4V42.6H424.2zM442 35H451.2V42.6H442zM424.2 42.3H433.4V49.9H424.2zM442 42.3H451.2V49.9H442zM424.2 49.6H433.4V57.3H424.2zM442 49.6H451.2V57.3H442zM424.2 57H433.4V64.6H424.2zM442 57H451.2V64.6H442zM415.2 64.3H433.4V71.9H415.2zM522.3 64.3H531.5V71.9H522.3zM433.1 71.6H442.3V79.2H433.1zM433.1 78.9H442.3V86.5H433.1zM433.1 86.2H442.3V93.8H433.1zM504.5 108.2H513.7V115.8H504.5zM450.9 122.8H460.1V130.4H450.9zM459.8 130.1H469.1V137.8H459.8zM477.7 130.1H486.9V137.8H477.7z"/>
<path fill="#28ffd7" d="M433.1 35H442.3V42.6H433.1zM522.3 71.6H531.5V79.2H522.3zM415.2 78.9H424.5V86.5H415.2zM424.2 86.2H433.4V93.8H424.2zM504.5 115.5H513.7V123.1H504.5zM442 122.8H451.2V130.4H442zM450.9 130.1H460.1V137.8H450.9zM468.8 137.5H478V145.1H468.8z"/>
<path fill="#00a7ff" d="M450.9 35H460.1V42.6H450.9zM397.4 42.3H406.6V49.9H397.4zM450.9 42.3H460.1V49.9H450.9zM450.9 49.6H460.1V57.3H450.9zM450.9 57H460.1V64.6H450.9zM522.3 57H531.5V64.6H522.3zM442 78.9H451.2V86.5H442zM442 86.2H451.2V93.8H442zM442 93.5H451.2V101.2H442zM442 100.9H451.2V108.5H442zM504.5 100.9H513.7V108.5H504.5zM450.9 115.5H460.1V123.1H450.9zM459.8 122.8H469.1V130.4H459.8zM486.6 122.8H495.8V130.4H486.6z"/>
<path fill="#0000e7" d="M477.7 35H486.9V42.6H477.7zM477.7 42.3H486.9V49.9H477.7zM477.7 49.6H486.9V57.3H477.7zM477.7 57H486.9V64.6H477.7zM468.8 71.6H478V79.2H468.8zM504.5 71.6H513.7V79.2H504.5zM459.8 78.9H469.1V86.5H459.8zM459.8 86.2H469.1V93.8H459.8zM495.5 86.2H504.8V93.8H495.5zM486.6 93.5H495.8V101.2H486.6zM468.8 100.9H486.9V108.5H468.8z"/>
<path fill="#0000c7" d="M486.6 35H513.7V42.6H486.6zM486.6 42.3H495.8V49.9H486.6zM504.5 42.3H513.7V49.9H504.5zM486.6 49.6H495.8V57.3H486.6zM504.5 49.6H513.7V57.3H504.5zM486.6 57H495.8V64.6H486.6zM504.5 57H513.7V64.6H504.5zM477.7 64.3H486.9V71.9H477.7zM468.8 78.9H478V86.5H468.8zM495.5 78.9H504.8V86.5H495.5zM468.8 86.2H478V93.8H468.8zM486.6 86.2H495.8V93.8H486.6zM477.7 93.5H486.9V101.2H477.7z"/>
<path fill="#0008ff" d="M513.4 35H522.6V42.6H513.4zM513.4 42.3H522.6V49.9H513.4zM468.8 64.3H478V71.9H468.8zM459.8 71.6H469.1V79.2H459.8zM504.5 78.9H513.7V86.5H504.5zM459.8 100.9H469.1V108.5H459.8zM486.6 100.9H495.8V108.5H486.6z"/>
<path fill="#0068ff" d="M522.3 35H531.5V42.6H522.3zM415.2 42.3H424.5V49.9H415.2zM406.3 49.6H415.5V57.3H406.3zM459.8 57H469.1V64.6H459.8zM450.9 71.6H460.1V79.2H450.9zM513.4 78.9H522.6V86.5H513.4zM504.5 93.5H513.7V101.2H504.5zM459.8 115.5H469.1V123.1H459.8zM486.6 115.5H495.8V123.1H486.6z"/>
<path fill="#87ff78" d="M531.2 35H540.5V42.6H531.2zM531.2 42.3H540.5V49.9H531.2zM388.5 49.6H397.7V57.3H388.5zM522.3 86.2H531.5V93.8H522.3zM415.2 93.5H424.5V101.2H415.2zM442 137.5H451.2V145.1H442zM459.8 144.8H478V152.4H459.8z"/>
<path fill="#ff9700" d="M549.1 35H558.3V42.6H549.1zM549.1 42.3H558.3V49.9H549.1zM549.1 49.6H558.3V57.3H549.1zM549.1 57H558.3V64.6H549.1zM549.1 64.3H558.3V71.9H549.1zM549.1 71.6H558.3V79.2H549.1zM388.5 78.9H397.7V86.5H388.5zM549.1 78.9H558.3V86.5H549.1zM549.1 86.2H558.3V93.8H549.1zM397.4 93.5H406.6V101.2H397.4zM549.1 93.5H558.3V101.2H549.1zM549.1 100.9H558.3V108.5H549.1zM540.2 108.2H549.4V115.8H540.2zM540.2 115.5H549.4V123.1H540.2zM415.2 122.8H424.5V130.4H415.2zM522.3 122.8H549.4V130.4H522.3zM531.2 130.1H549.4V137.8H531.2zM540.2 137.5H549.4V145.1H540.2zM433.1 144.8H442.3V152.4H433.1zM504.5 144.8H513.7V152.4H504.5zM540.2 144.8H549.4V152.4H540.2zM433.1 152.1H442.3V159.7H433.1zM504.5 152.1H513.7V159.7H504.5zM540.2 152.1H549.4V159.7H540.2zM326 159.4H335.2V167H326zM495.5 159.4H504.8V167H495.5zM540.2 159.4H549.4V167H540.2zM442 166.7H460.1V174.4H442zM468.8 166.7H478V174.4H468.8zM540.2 166.7H549.4V174.4H540.2zM334.9 174.1H344.1V181.7H334.9zM442 174.1H460.1V181.7H442zM468.8 174.1H478V181.7H468.8zM540.2 174.1H549.4V181.7H540.2zM343.8 181.4H353.1V189H343.8zM442 181.4H478V189H442zM540.2 181.4H549.4V189H540.2zM352.8 188.7H362V196.3H352.8zM549.1 188.7H558.3V196.3H549.1zM361.7 196H370.9V203.6H361.7zM549.1 196H558.3V203.6H549.1zM370.6 203.3H379.8V210.9H370.6zM370.6 210.6H388.8V218.3H370.6zM379.5 218H397.7V225.6H379.5zM379.5 225.3H397.7V232.9H379.5z"/>
<path fill="#68ff97" d="M388.5 42.3H397.7V49.9H388.5zM406.3 78.9H415.5V86.5H406.3zM522.3 78.9H531.5V86.5H522.3zM424.2 100.9H433.4V108.5H424.2zM513.4 108.2H522.6V115.8H513.4zM433.1 115.5H442.3V123.1H433.1zM504.5 122.8H513.7V130.4H504.5zM495.5 130.1H504.8V137.8H495.5zM450.9 137.5H460.1V145.1H450.9zM486.6 137.5H495.8V145.1H486.6z"/>
<path fill="#18ffe7" d="M433.1 42.3H442.3V49.9H433.1zM406.3 71.6H415.5V79.2H406.3z"/>
<path fill="#0000b7" d="M495.5 42.3H504.8V49.9H495.5zM486.6 64.3H495.8V71.9H486.6zM477.7 71.6H486.9V79.2H477.7zM495.5 71.6H504.8V79.2H495.5zM477.7 86.2H486.9V93.8H477.7z"/>
<path fill="#0078ff" d="M522.3 42.3H531.5V49.9H522.3zM450.9 108.2H460.1V115.8H450.9z"/>
<path fill="#ffe700" d="M379.5 49.6H388.8V57.3H379.5zM540.2 71.6H549.4V79.2H540.2zM468.8 159.4H478V167H468.8zM326 181.4H335.2V189H326zM334.9 196H344.1V203.6H334.9zM343.8 218H353.1V225.6H343.8z"/>
<path fill="#00d7ff" d="M397.4 49.6H406.6V57.3H397.4zM468.8 130.1H478V137.8H468.8z"/>
<path fill="#0097ff" d="M415.2 49.6H424.5V57.3H415.2zM513.4 86.2H522.6V93.8H513.4z"/>
<path fill="#08fff7" d="M433.1 49.6H442.3V57.3H433.1zM397.4 57H406.6V64.6H397.4zM433.1 57H442.3V64.6H433.1zM415.2 71.6H424.5V79.2H415.2zM424.2 78.9H433.4V86.5H424.2zM433.1 100.9H442.3V108.5H433.1zM513.4 100.9H522.6V108.5H513.4zM495.5 122.8H504.8V130.4H495.5zM486.6 130.1H495.8V137.8H486.6z"/>
<path fill="#0058ff" d="M459.8 49.6H469.1V57.3H459.8z"/>
<path fill="#0000a7" d="M495.5 49.6H504.8V57.3H495.5zM495.5 57H504.8V64.6H495.5zM495.5 64.3H504.8V71.9H495.5zM486.6 71.6H495.8V79.2H486.6zM477.7 78.9H495.8V86.5H477.7z"/>
<path fill="#0018ff" d="M513.4 49.6H522.6V57.3H513.4zM495.5 93.5H504.8V101.2H495.5zM468.8 108.2H486.9V115.8H468.8z"/>
<path fill="#97ff68" d="M531.2 49.6H540.5V57.3H531.2zM424.2 108.2H433.4V115.8H424.2z"/>
<path fill="#ffd700" d="M379.5 57H388.8V64.6H379.5zM388.5 71.6H397.7V79.2H388.5zM540.2 78.9H549.4V86.5H540.2zM540.2 86.2H549.4V93.8H540.2zM406.3 100.9H415.5V108.5H406.3zM531.2 100.9H540.5V108.5H531.2zM549.1 108.2H558.3V115.8H549.1zM415.2 115.5H424.5V123.1H415.2zM549.1 115.5H558.3V123.1H549.1zM513.4 122.8H522.6V130.4H513.4zM549.1 122.8H558.3V130.4H549.1zM424.2 130.1H433.4V137.8H424.2zM549.1 130.1H558.3V137.8H549.1zM433.1 137.5H442.3V145.1H433.1zM549.1 137.5H558.3V145.1H549.1zM495.5 144.8H504.8V152.4H495.5zM549.1 144.8H558.3V152.4H549.1zM549.1 152.1H558.3V159.7H549.1zM442 159.4H460.1V167H442zM549.1 159.4H558.3V167H549.1zM549.1 166.7H558.3V174.4H549.1zM326 174.1H335.2V181.7H326zM549.1 174.1H558.3V181.7H549.1zM549.1 181.4H558.3V189H549.1zM334.9 188.7H344.1V196.3H334.9zM343.8 203.3H353.1V210.9H343.8zM343.8 210.6H353.1V218.3H343.8zM352.8 225.3H362V232.9H352.8z"/>
<path fill="#a7ff58" d="M388.5 57H397.7V64.6H388.5zM531.2 57H540.5V64.6H531.2zM397.4 71.6H406.6V79.2H397.4zM406.3 86.2H415.5V93.8H406.3zM433.1 122.8H442.3V130.4H433.1zM450.9 144.8H460.1V152.4H450.9zM477.7 144.8H486.9V152.4H477.7z"/>
<path fill="#00c7ff" d="M415.2 57H424.5V64.6H415.2zM406.3 64.3H415.5V71.9H406.3zM442 64.3H451.2V71.9H442zM513.4 93.5H522.6V101.2H513.4zM442 108.2H451.2V115.8H442zM495.5 115.5H504.8V123.1H495.5z"/>
<path fill="#ff5800" d="M370.6 64.3H379.8V71.9H370.6zM397.4 100.9H406.6V108.5H397.4zM415.2 144.8H424.5V152.4H415.2zM513.4 144.8H531.5V152.4H513.4zM406.3 152.1H415.5V159.7H406.3zM334.9 159.4H344.1V167H334.9zM388.5 159.4H406.6V167H388.5zM343.8 166.7H388.8V174.4H343.8zM379.5 174.1H388.8V181.7H379.5zM379.5 181.4H388.8V189H379.5zM379.5 188.7H388.8V196.3H379.5z"/>
<path fill="#ffa700" d="M379.5 64.3H388.8V71.9H379.5zM406.3 108.2H415.5V115.8H406.3zM424.2 137.5H433.4V145.1H424.2zM459.8 174.1H469.1V181.7H459.8zM352.8 196H362V203.6H352.8zM361.7 203.3H370.9V210.9H361.7zM370.6 218H379.8V225.6H370.6z"/>
<path fill="#e7ff18" d="M388.5 64.3H397.7V71.9H388.5zM531.2 78.9H540.5V86.5H531.2zM406.3 93.5H415.5V101.2H406.3zM522.3 100.9H531.5V108.5H522.3zM433.1 130.1H442.3V137.8H433.1zM450.9 152.1H460.1V159.7H450.9zM477.7 152.1H486.9V159.7H477.7zM326 225.3H335.2V232.9H326z"/>
<path fill="#58ffa7" d="M397.4 64.3H406.6V71.9H397.4zM415.2 86.2H424.5V93.8H415.2zM442 130.1H451.2V137.8H442z"/>
<path fill="#00f7ff" d="M433.1 64.3H442.3V71.9H433.1zM424.2 71.6H433.4V79.2H424.2zM433.1 93.5H442.3V101.2H433.1zM442 115.5H451.2V123.1H442z"/>
<path fill="#0038ff" d="M459.8 64.3H469.1V71.9H459.8zM513.4 64.3H522.6V71.9H513.4zM504.5 86.2H513.7V93.8H504.5zM459.8 108.2H469.1V115.8H459.8zM486.6 108.2H495.8V115.8H486.6z"/>
<path fill="#0000d7" d="M504.5 64.3H513.7V71.9H504.5zM468.8 93.5H478V101.2H468.8z"/>
<path fill="#b7ff48" d="M531.2 64.3H540.5V71.9H531.2zM522.3 93.5H531.5V101.2H522.3zM504.5 130.1H513.7V137.8H504.5z"/>
<path fill="#ff2800" d="M370.6 71.6H379.8V79.2H370.6zM379.5 86.2H388.8V93.8H379.5zM326 137.5H335.2V145.1H326z"/>
<path fill="#00b7ff" d="M442 71.6H451.2V79.2H442z"/>
<path fill="#c7ff38" d="M531.2 71.6H540.5V79.2H531.2zM415.2 100.9H424.5V108.5H415.2zM424.2 115.5H433.4V123.1H424.2zM513.4 115.5H522.6V123.1H513.4zM495.5 137.5H504.8V145.1H495.5zM442 144.8H451.2V152.4H442zM486.6 144.8H495.8V152.4H486.6zM459.8 152.1H478V159.7H459.8z"/>
<path fill="#ff3800" d="M379.5 78.9H388.8V86.5H379.5zM397.4 115.5H406.6V123.1H397.4zM406.3 122.8H415.5V130.4H406.3zM406.3 130.1H415.5V137.8H406.3zM406.3 137.5H415.5V145.1H406.3zM326 144.8H335.2V152.4H326zM406.3 144.8H415.5V152.4H406.3zM334.9 152.1H406.6V159.7H334.9z"/>
<path fill="#c70000" d="M326 86.2H353.1V93.8H326z"/>
<path fill="#ffc700" d="M397.4 86.2H406.6V93.8H397.4zM540.2 93.5H549.4V101.2H540.2zM531.2 108.2H540.5V115.8H531.2zM522.3 115.5H531.5V123.1H522.3zM477.7 159.4H486.9V167H477.7zM343.8 196H353.1V203.6H343.8zM352.8 218H362V225.6H352.8z"/>
<path fill="#f7ff08" d="M531.2 86.2H540.5V93.8H531.2zM415.2 108.2H424.5V115.8H415.2zM442 152.1H451.2V159.7H442zM326 218H335.2V225.6H326z"/>
<path fill="#ff1800" d="M379.5 93.5H388.8V101.2H379.5zM388.5 100.9H397.7V108.5H388.5zM388.5 108.2H397.7V115.8H388.5zM397.4 122.8H406.6V130.4H397.4zM326 130.1H335.2V137.8H326zM397.4 130.1H406.6V137.8H397.4zM334.9 137.5H406.6V145.1H334.9zM334.9 144.8H406.6V152.4H334.9z"/>
<path fill="#ff4800" d="M388.5 93.5H397.7V101.2H388.5zM397.4 108.2H406.6V115.8H397.4zM343.8 159.4H388.8V167H343.8z"/>
<path fill="#0000f7" d="M459.8 93.5H469.1V101.2H459.8z"/>
<path fill="#ffb700" d="M540.2 100.9H549.4V108.5H540.2zM531.2 115.5H540.5V123.1H531.2zM513.4 130.1H522.6V137.8H513.4zM495.5 152.1H504.8V159.7H495.5zM486.6 159.4H495.8V167H486.6zM326 166.7H335.2V174.4H326zM459.8 166.7H469.1V174.4H459.8zM334.9 181.4H344.1V189H334.9zM343.8 188.7H353.1V196.3H343.8zM352.8 203.3H362V210.9H352.8zM352.8 210.6H370.9V218.3H352.8zM361.7 218H370.9V225.6H361.7zM361.7 225.3H379.8V232.9H361.7z"/>
<path fill="#e70000" d="M326 108.2H362V115.8H326z"/>
<path fill="#38ffc7" d="M433.1 108.2H442.3V115.8H433.1zM459.8 137.5H469.1V145.1H459.8z"/>
<path fill="#ff0800" d="M388.5 115.5H397.7V123.1H388.5zM334.9 130.1H397.7V137.8H334.9z"/>
<path fill="#ff8700" d="M415.2 130.1H424.5V137.8H415.2zM522.3 130.1H531.5V137.8H522.3zM513.4 137.5H522.6V145.1H513.4zM531.2 137.5H540.5V145.1H531.2zM433.1 159.4H442.3V167H433.1zM504.5 159.4H513.7V167H504.5zM388.5 174.1H442.3V181.7H388.5zM477.7 174.1H495.8V181.7H477.7zM352.8 181.4H362V189H352.8zM388.5 181.4H442.3V189H388.5zM477.7 181.4H495.8V189H477.7zM388.5 188.7H495.8V196.3H388.5zM370.6 196H379.8V203.6H370.6zM388.5 196H495.8V203.6H388.5zM379.5 203.3H495.8V210.9H379.5zM549.1 203.3H558.3V210.9H549.1zM388.5 210.6H495.8V218.3H388.5zM397.4 218H495.8V225.6H397.4zM397.4 225.3H495.8V232.9H397.4z"/>
<path fill="#ff6800" d="M326 152.1H335.2V159.7H326zM415.2 152.1H424.5V159.7H415.2zM513.4 152.1H531.5V159.7H513.4zM406.3 159.4H415.5V167H406.3zM361.7 174.1H379.8V181.7H361.7z"/>
</g>
<g clip-path="url(#c2)">
<path d="M330.5 50.2L336.7 35.2L344.2 41.5z" fill="#000"/>
<path d="M368.5 51.9L372 36L380.5 40.9z" fill="#000"/>
<path d="M462.9 28.7L451.9 40.7L447 32.2z" fill="#000"/>
<path d="M539 31.4L555.3 32.1L551.9 41.3z" fill="#000"/>
<path d="M330.9 72.6L336.6 57.4L344.3 63.4z" fill="#000"/>
<path d="M371.2 75.2L371.9 58.9L381.1 62.3z" fill="#000"/>
<path d="M539 53.4L555.3 54.1L551.9 63.3z" fill="#000"/>
<path d="M331.6 95.1L336.5 79.6L344.6 85.2z" fill="#000"/>
<path d="M368.5 95.9L372 80L380.5 84.9z" fill="#000"/>
<path d="M539 75.4L555.3 76.1L551.9 85.3z" fill="#000"/>
<path d="M331.6 117.1L336.5 101.6L344.6 107.2z" fill="#000"/>
<path d="M363.1 113L373 100L378.6 108.1z" fill="#000"/>
<path d="M395.7 104.7L410.7 98.4L411.5 108.2z" fill="#000"/>
<path d="M540.3 94.7L556.2 98.2L551.3 106.7z" fill="#000"/>
<path d="M331.6 139.1L336.5 123.6L344.6 129.2z" fill="#000"/>
<path d="M362.3 133.7L373.3 121.7L378.2 130.2z" fill="#000"/>
<path d="M395.9 128.2L410.3 120.6L412 130.3z" fill="#000"/>
<path d="M506.4 114.3L521.4 120.5L515.1 128z" fill="#000"/>
<path d="M542 114.3L557 120.5L550.7 128z" fill="#000"/>
<path d="M330.9 160.6L336.6 145.4L344.3 151.4z" fill="#000"/>
<path d="M361.6 154.4L373.6 143.4L377.7 152.3z" fill="#000"/>
<path d="M395.9 150.2L410.3 142.6L412 152.3z" fill="#000"/>
<path d="M431.2 147.2L446.7 142.3L446.7 152.1z" fill="#000"/>
<path d="M506.4 136.3L521.4 142.5L515.1 150z" fill="#000"/>
<path d="M543 135.2L557.4 142.7L550.5 149.6z" fill="#000"/>
<path d="M331.6 183.1L336.5 167.6L344.6 173.2z" fill="#000"/>
<path d="M361.6 176.4L373.6 165.4L377.7 174.3z" fill="#000"/>
<path d="M395.7 170.7L410.7 164.4L411.5 174.2z" fill="#000"/>
<path d="M431.3 170.7L446.3 164.4L447.1 174.2z" fill="#000"/>
<path d="M466.9 167.7L482.7 164.2L481.9 174z" fill="#000"/>
<path d="M504.7 160.7L520.6 164.2L515.7 172.7z" fill="#000"/>
<path d="M543 157.2L557.4 164.7L550.5 171.6z" fill="#000"/>
<path d="M332.9 205.9L336.4 190L344.9 194.9z" fill="#000"/>
<path d="M362.3 199.7L373.3 187.7L378.2 196.2z" fill="#000"/>
<path d="M395.7 192.7L410.7 186.4L411.5 196.2z" fill="#000"/>
<path d="M431.2 191.2L446.7 186.3L446.7 196.1z" fill="#000"/>
<path d="M467.1 188.2L483.2 186.1L481.5 195.8z" fill="#000"/>
<path d="M504.7 182.7L520.6 186.2L515.7 194.7z" fill="#000"/>
<path d="M542 180.3L557 186.5L550.7 194z" fill="#000"/>
<path d="M334.2 228.6L336.3 212.5L345.2 216.6z" fill="#000"/>
<path d="M363.1 223L373 210L378.6 218.1z" fill="#000"/>
<path d="M395.9 216.2L410.3 208.6L412 218.3z" fill="#000"/>
<path d="M431.2 213.2L446.7 208.3L446.7 218.1z" fill="#000"/>
<path d="M467.4 208.8L483.6 208.1L481.1 217.5z" fill="#000"/>
<path d="M504 206L520.1 208.1L516 217z" fill="#000"/>
<path d="M541.1 203.4L556.6 208.3L551 216.4z" fill="#000"/>
<path d="M487.4 151.5L473.7 142.8L481.2 136.5z" fill="#000"/>
<path d="M326 35L353.9 35L354.6 38L355.2 41L355.9 44L356.6 47L357.3 50L358.1 53L358.8 56L359.6 59L360.4 62L361.1 65L362 68L362.8 71L363.6 74L364.5 77L365.3 80L366.2 83L367.1 86L368.1 89L369 92L370 95L371 98L372 101L373 104L374 107L375.1 110L376.2 113L377.3 116L378.4 119L379.6 122L380.7 125L381.9 128L383.2 131L384.4 134L385.7 137L387 140L388.3 143L389.6 146L391 149L392.4 152L393.8 155L395.3 158L396.8 161L398.3 164L399.9 167L401.4 170L403 173L404.7 176L406.4 179L408.1 182L409.8 185L411.6 188L413.4 191L415.3 194L417.1 197L419.1 200L421 203L423 206L425.1 209L427.1 212L429.3 215L431.4 218L433.6 221L435.9 224L436.3 224.5L447.7 224.5L448.1 224L450.4 221L452.6 218L454.7 215L456.9 212L458.9 209L461 206L463 203L464.9 200L466.9 197L468.7 194L470.6 191L472.4 188L474.2 185L475.9 182L477.6 179L479.3 176L481 173L482.6 170L484.1 167L485.7 164L487.2 161L488.7 158L490.2 155L491.6 152L493 149L494.4 146L495.7 143L497 140L498.3 137L499.6 134L500.8 131L502.1 128L503.3 125L504.4 122L505.6 119L506.7 116L507.8 113L508.9 110L510 107L511 104L512 101L513 98L514 95L515 92L515.9 89L516.9 86L517.8 83L518.7 80L519.5 77L520.4 74L521.2 71L522 68L522.9 65L523.6 62L524.4 59L525.2 56L525.9 53L526.7 50L527.4 47L528.1 44L528.8 41L529.4 38L530.1 35L558 35L558 232.6L326 232.6z" fill="#fff" fill-opacity="0.5"/>
<path d="M353.9 35L354.6 38L355.2 41L355.9 44L356.6 47L357.3 50L358.1 53L358.8 56L359.6 59L360.4 62L361.1 65L362 68L362.8 71L363.6 74L364.5 77L365.3 80L366.2 83L367.1 86L368.1 89L369 92L370 95L371 98L372 101L373 104L374 107L375.1 110L376.2 113L377.3 116L378.4 119L379.6 122L380.7 125L381.9 128L383.2 131L384.4 134L385.7 137L387 140L388.3 143L389.6 146L391 149L392.4 152L393.8 155L395.3 158L396.8 161L398.3 164L399.9 167L401.4 170L403 173L404.7 176L406.4 179L408.1 182L409.8 185L411.6 188L413.4 191L415.3 194L417.1 197L419.1 200L421 203L423 206L425.1 209L427.1 212L429.3 215L431.4 218L433.6 221L435.9 224L436.3 224.5L447.7 224.5L448.1 224L450.4 221L452.6 218L454.7 215L456.9 212L458.9 209L461 206L463 203L464.9 200L466.9 197L468.7 194L470.6 191L472.4 188L474.2 185L475.9 182L477.6 179L479.3 176L481 173L482.6 170L484.1 167L485.7 164L487.2 161L488.7 158L490.2 155L491.6 152L493 149L494.4 146L495.7 143L497 140L498.3 137L499.6 134L500.8 131L502.1 128L503.3 125L504.4 122L505.6 119L506.7 116L507.8 113L508.9 110L510 107L511 104L512 101L513 98L514 95L515 92L515.9 89L516.9 86L517.8 83L518.7 80L519.5 77L520.4 74L521.2 71L522 68L522.9 65L523.6 62L524.4 59L525.2 56L525.9 53L526.7 50L527.4 47L528.1 44L528.8 41L529.4 38L530.1 35" stroke="#000" stroke-width="0.9" fill="none"/>
<path d="M352.3 24.2L340.4 38.3M330.5 50.2L336.7 35.2L344.2 41.5z" stroke="#000" stroke-width="0.9" fill="none" stroke-linejoin="round"/>
<path d="M385.5 22.5L376.2 38.5M368.5 51.9L372 36L380.5 40.9z" stroke="#000" stroke-width="0.9" fill="none" stroke-linejoin="round"/>
<path d="M433.5 45.7L449.5 36.5M462.9 28.7L451.9 40.7L447 32.2z" stroke="#000" stroke-width="0.9" fill="none" stroke-linejoin="round"/>
<path d="M571 43L553.6 36.7M539 31.4L555.3 32.1L551.9 41.3z" stroke="#000" stroke-width="0.9" fill="none" stroke-linejoin="round"/>
<path d="M351.9 45.8L340.5 60.4M330.9 72.6L336.6 57.4L344.3 63.4z" stroke="#000" stroke-width="0.9" fill="none" stroke-linejoin="round"/>
<path d="M382.8 43.2L376.5 60.6M371.2 75.2L371.9 58.9L381.1 62.3z" stroke="#000" stroke-width="0.9" fill="none" stroke-linejoin="round"/>
<path d="M571 65L553.6 58.7M539 53.4L555.3 54.1L551.9 63.3z" stroke="#000" stroke-width="0.9" fill="none" stroke-linejoin="round"/>
<path d="M351.2 67.3L340.5 82.4M331.6 95.1L336.5 79.6L344.6 85.2z" stroke="#000" stroke-width="0.9" fill="none" stroke-linejoin="round"/>
<path d="M385.5 66.5L376.2 82.5M368.5 95.9L372 80L380.5 84.9z" stroke="#000" stroke-width="0.9" fill="none" stroke-linejoin="round"/>
<path d="M571 87L553.6 80.7M539 75.4L555.3 76.1L551.9 85.3z" stroke="#000" stroke-width="0.9" fill="none" stroke-linejoin="round"/>
<path d="M351.2 89.3L340.5 104.4M331.6 117.1L336.5 101.6L344.6 107.2z" stroke="#000" stroke-width="0.9" fill="none" stroke-linejoin="round"/>
<path d="M390.9 93.4L375.8 104.1M363.1 113L373 100L378.6 108.1z" stroke="#000" stroke-width="0.9" fill="none" stroke-linejoin="round"/>
<path d="M429.5 101.7L411.1 103.3M395.7 104.7L410.7 98.4L411.5 108.2z" stroke="#000" stroke-width="0.9" fill="none" stroke-linejoin="round"/>
<path d="M569.7 111.7L553.7 102.5M540.3 94.7L556.2 98.2L551.3 106.7z" stroke="#000" stroke-width="0.9" fill="none" stroke-linejoin="round"/>
<path d="M351.2 111.3L340.5 126.4M331.6 139.1L336.5 123.6L344.6 129.2z" stroke="#000" stroke-width="0.9" fill="none" stroke-linejoin="round"/>
<path d="M391.7 116.7L375.7 126M362.3 133.7L373.3 121.7L378.2 130.2z" stroke="#000" stroke-width="0.9" fill="none" stroke-linejoin="round"/>
<path d="M429.3 122.2L411.1 125.5M395.9 128.2L410.3 120.6L412 130.3z" stroke="#000" stroke-width="0.9" fill="none" stroke-linejoin="round"/>
<path d="M532.4 136.1L518.3 124.2M506.4 114.3L521.4 120.5L515.1 128z" stroke="#000" stroke-width="0.9" fill="none" stroke-linejoin="round"/>
<path d="M568 136.1L553.9 124.2M542 114.3L557 120.5L550.7 128z" stroke="#000" stroke-width="0.9" fill="none" stroke-linejoin="round"/>
<path d="M351.9 133.8L340.5 148.4M330.9 160.6L336.6 145.4L344.3 151.4z" stroke="#000" stroke-width="0.9" fill="none" stroke-linejoin="round"/>
<path d="M392.4 140L375.6 147.8M361.6 154.4L373.6 143.4L377.7 152.3z" stroke="#000" stroke-width="0.9" fill="none" stroke-linejoin="round"/>
<path d="M429.3 144.2L411.1 147.5M395.9 150.2L410.3 142.6L412 152.3z" stroke="#000" stroke-width="0.9" fill="none" stroke-linejoin="round"/>
<path d="M465.2 147.2L446.7 147.2M431.2 147.2L446.7 142.3L446.7 152.1z" stroke="#000" stroke-width="0.9" fill="none" stroke-linejoin="round"/>
<path d="M532.4 158.1L518.3 146.2M506.4 136.3L521.4 142.5L515.1 150z" stroke="#000" stroke-width="0.9" fill="none" stroke-linejoin="round"/>
<path d="M567 159.2L553.9 146.1M543 135.2L557.4 142.7L550.5 149.6z" stroke="#000" stroke-width="0.9" fill="none" stroke-linejoin="round"/>
<path d="M351.2 155.3L340.5 170.4M331.6 183.1L336.5 167.6L344.6 173.2z" stroke="#000" stroke-width="0.9" fill="none" stroke-linejoin="round"/>
<path d="M392.4 162L375.6 169.8M361.6 176.4L373.6 165.4L377.7 174.3z" stroke="#000" stroke-width="0.9" fill="none" stroke-linejoin="round"/>
<path d="M429.5 167.7L411.1 169.3M395.7 170.7L410.7 164.4L411.5 174.2z" stroke="#000" stroke-width="0.9" fill="none" stroke-linejoin="round"/>
<path d="M465.1 167.7L446.7 169.3M431.3 170.7L446.3 164.4L447.1 174.2z" stroke="#000" stroke-width="0.9" fill="none" stroke-linejoin="round"/>
<path d="M500.7 170.7L482.3 169.1M466.9 167.7L482.7 164.2L481.9 174z" stroke="#000" stroke-width="0.9" fill="none" stroke-linejoin="round"/>
<path d="M534.1 177.7L518.1 168.4M504.7 160.7L520.6 164.2L515.7 172.7z" stroke="#000" stroke-width="0.9" fill="none" stroke-linejoin="round"/>
<path d="M567 181.2L553.9 168.1M543 157.2L557.4 164.7L550.5 171.6z" stroke="#000" stroke-width="0.9" fill="none" stroke-linejoin="round"/>
<path d="M349.9 176.5L340.6 192.5M332.9 205.9L336.4 190L344.9 194.9z" stroke="#000" stroke-width="0.9" fill="none" stroke-linejoin="round"/>
<path d="M391.7 182.7L375.7 191.9M362.3 199.7L373.3 187.7L378.2 196.2z" stroke="#000" stroke-width="0.9" fill="none" stroke-linejoin="round"/>
<path d="M429.5 189.7L411.1 191.3M395.7 192.7L410.7 186.4L411.5 196.2z" stroke="#000" stroke-width="0.9" fill="none" stroke-linejoin="round"/>
<path d="M465.2 191.2L446.7 191.2M431.2 191.2L446.7 186.3L446.7 196.1z" stroke="#000" stroke-width="0.9" fill="none" stroke-linejoin="round"/>
<path d="M500.5 194.2L482.3 190.9M467.1 188.2L483.2 186.1L481.5 195.8z" stroke="#000" stroke-width="0.9" fill="none" stroke-linejoin="round"/>
<path d="M534.1 199.7L518.1 190.4M504.7 182.7L520.6 186.2L515.7 194.7z" stroke="#000" stroke-width="0.9" fill="none" stroke-linejoin="round"/>
<path d="M568 202.1L553.9 190.2M542 180.3L557 186.5L550.7 194z" stroke="#000" stroke-width="0.9" fill="none" stroke-linejoin="round"/>
<path d="M348.6 197.8L340.8 214.6M334.2 228.6L336.3 212.5L345.2 216.6z" stroke="#000" stroke-width="0.9" fill="none" stroke-linejoin="round"/>
<path d="M390.9 203.4L375.8 214.1M363.1 223L373 210L378.6 218.1z" stroke="#000" stroke-width="0.9" fill="none" stroke-linejoin="round"/>
<path d="M429.3 210.2L411.1 213.5M395.9 216.2L410.3 208.6L412 218.3z" stroke="#000" stroke-width="0.9" fill="none" stroke-linejoin="round"/>
<path d="M465.2 213.2L446.7 213.2M431.2 213.2L446.7 208.3L446.7 218.1z" stroke="#000" stroke-width="0.9" fill="none" stroke-linejoin="round"/>
<path d="M500.2 217.6L482.4 212.8M467.4 208.8L483.6 208.1L481.1 217.5z" stroke="#000" stroke-width="0.9" fill="none" stroke-linejoin="round"/>
<path d="M534.8 220.4L518 212.6M504 206L520.1 208.1L516 217z" stroke="#000" stroke-width="0.9" fill="none" stroke-linejoin="round"/>
<path d="M568.9 223L553.8 212.3M541.1 203.4L556.6 208.3L551 216.4z" stroke="#000" stroke-width="0.9" fill="none" stroke-linejoin="round"/>
<path d="M465.6 125.5L477.5 139.6M487.4 151.5L473.7 142.8L481.2 136.5z" stroke="#000" stroke-width="0.9" fill="none" stroke-linejoin="round"/>
<path transform="translate(326 35)" d="M35.0 -2.0C36.8 1.1 42.8 10.8 45.6 16.6C48.4 22.4 49.7 27.4 51.8 33.0C53.9 38.6 55.2 45.2 58.0 50.0C60.8 54.8 64.2 58.9 68.4 62.0C72.6 65.1 78.8 66.0 83.0 68.4C87.2 70.9 90.5 72.9 93.3 76.7C96.0 80.5 97.8 85.1 99.5 91.0C101.2 96.9 101.8 106.1 103.6 112.0C105.3 117.9 107.3 122.7 110.0 126.5C112.7 130.3 116.2 132.6 120.0 134.7C123.8 136.8 128.5 138.7 132.7 139.0C136.9 139.3 140.2 138.2 145.0 136.8C149.8 135.4 156.9 133.4 161.7 130.6C166.5 127.8 169.8 123.4 174.0 120.0C178.2 116.6 182.4 113.8 186.6 110.0C190.8 106.2 195.2 101.6 199.0 97.4C202.8 93.2 206.1 87.7 209.4 85.0C212.7 82.3 217.4 81.7 219.0 81.0" stroke="#000" stroke-width="3.8" fill="none" stroke-linejoin="round" stroke-linecap="round"/>
<path transform="translate(326 35)" d="M219.7 62.0C219.7 68.3 219.7 85.3 219.7 100.0C219.7 114.7 220.4 139.0 219.7 150.0C219.0 161.0 218.4 161.7 215.6 166.0C212.8 170.3 208.5 173.7 203.0 176.0C197.5 178.3 190.0 179.7 182.4 180.0C174.8 180.3 165.8 179.3 157.5 178.0C149.2 176.7 140.3 174.0 132.7 172.0C125.1 170.0 119.0 167.6 112.0 166.0C105.0 164.4 98.7 163.3 91.0 162.5C83.3 161.7 73.6 161.8 66.0 161.0C58.4 160.2 51.8 159.2 45.6 157.5C39.4 155.8 33.8 153.4 29.0 151.0C24.2 148.6 20.1 146.1 16.6 143.0C13.2 139.9 10.7 136.2 8.3 132.7C5.9 129.2 3.5 124.8 2.0 122.0C0.4 119.2 -0.5 117.0 -1.0 116.0" stroke="#000" stroke-width="3.8" fill="none" stroke-linejoin="round" stroke-linecap="round"/>
<path transform="translate(326 35)" d="M226.0 43.0C226.3 45.0 227.7 53.0 228.0 55.0" stroke="#000" stroke-width="3.8" fill="none" stroke-linejoin="round" stroke-linecap="round"/>
<path d="M326 142.1H562" stroke="#000" stroke-width="4.6" stroke-dasharray="23.5 15.2" stroke-dashoffset="17.5"/>
<path d="M326 189.8H562" stroke="#000" stroke-width="4.6" stroke-dasharray="23.5 15.2" stroke-dashoffset="34.2"/>
</g>
<rect x="325.5" y="156.8" width="4.3" height="23" fill="#000"/>
<path d="M558.2 35V232.6" stroke="#000" stroke-width="1.3"/>
<rect x="555.2" y="160" width="3.6" height="24" fill="#000"/>
<path d="M325.5 35V233.6" stroke="#000" stroke-width="1"/>
<text x="318" y="41.9" text-anchor="end" font-size="19">4</text>
<text x="318" y="131.7" text-anchor="end" font-size="19">8</text>
<text x="324.3" y="146.1" text-anchor="end" font-size="19" font-weight="bold">9</text>
<text x="326" y="195.7" text-anchor="end" font-size="19" font-weight="bold">13</text>
<text x="317.5" y="223.3" text-anchor="end" font-size="19">16</text>
<text x="329.4" y="258.4" text-anchor="middle" font-size="19">1984</text>
<text x="382.7" y="258.4" text-anchor="middle" font-size="19">1990</text>
<text x="436" y="258.4" text-anchor="middle" font-size="19">1996</text>
<text x="489.3" y="258.4" text-anchor="middle" font-size="19">2002</text>
<text x="542.6" y="258.4" text-anchor="middle" font-size="19">2008</text>
<text x="438.5" y="23.5" text-anchor="middle" font-size="19" textLength="45.9">reg 2</text>
<g shape-rendering="crispEdges">
<path fill="#0048ff" d="M55 288H64.2V295.6H55zM144.2 310H153.5V317.6H144.2zM233.5 317.3H242.7V324.9H233.5zM153.2 324.6H162.4V332.3H153.2zM215.6 324.6H224.8V332.3H215.6z"/>
<path fill="#00c7ff" d="M63.9 288H73.1V295.6H63.9zM126.4 288H135.6V295.6H126.4zM55 302.7H64.2V310.3H55zM251.3 310H260.5V317.6H251.3zM135.3 317.3H144.5V324.9H135.3zM242.4 324.6H251.6V332.3H242.4z"/>
<path fill="#28ffd7" d="M72.8 288H82.1V295.6H72.8zM117.5 288H126.7V295.6H117.5zM117.5 295.3H126.7V303H117.5zM260.2 302.7H269.5V310.3H260.2zM251.3 317.3H260.5V324.9H251.3zM126.4 324.6H135.6V332.3H126.4zM233.5 332H242.7V339.6H233.5zM153.2 339.3H162.4V346.9H153.2zM206.7 339.3H215.9V346.9H206.7z"/>
<path fill="#87ff78" d="M81.8 288H91V295.6H81.8zM99.6 288H108.8V295.6H99.6zM81.8 295.3H91V303H81.8zM99.6 295.3H108.8V303H99.6zM72.8 310H82.1V317.6H72.8zM108.5 310H117.8V317.6H108.5zM108.5 317.3H117.8V324.9H108.5zM260.2 317.3H269.5V324.9H260.2zM251.3 324.6H260.5V332.3H251.3zM117.5 332H126.7V339.6H117.5zM242.4 332H251.6V339.6H242.4zM126.4 339.3H135.6V346.9H126.4zM224.5 339.3H233.8V346.9H224.5zM153.2 346.6H207V354.3H153.2z"/>
<path fill="#a7ff58" d="M90.7 288H99.9V295.6H90.7zM269.2 288H278.4V295.6H269.2zM90.7 295.3H99.9V303H90.7zM269.2 295.3H278.4V303H269.2zM90.7 302.7H99.9V310.3H90.7zM81.8 310H108.8V317.6H81.8zM72.8 317.3H82.1V324.9H72.8zM90.7 317.3H108.8V324.9H90.7zM63.9 324.6H73.1V332.3H63.9zM108.5 332H117.8V339.6H108.5zM117.5 339.3H126.7V346.9H117.5zM233.5 339.3H242.7V346.9H233.5zM144.2 346.6H153.5V354.3H144.2zM206.7 346.6H215.9V354.3H206.7z"/>
<path fill="#68ff97" d="M108.5 288H117.8V295.6H108.5zM108.5 295.3H117.8V303H108.5zM72.8 302.7H82.1V310.3H72.8zM117.5 324.6H126.7V332.3H117.5zM135.3 339.3H144.5V346.9H135.3zM215.6 339.3H224.8V346.9H215.6z"/>
<path fill="#0068ff" d="M135.3 288H144.5V295.6H135.3zM242.4 288H251.6V295.6H242.4zM242.4 295.3H251.6V303H242.4zM242.4 302.7H251.6V310.3H242.4zM242.4 310H251.6V317.6H242.4zM144.2 317.3H153.5V324.9H144.2zM224.5 324.6H233.8V332.3H224.5z"/>
<path fill="#0008ff" d="M144.2 288H153.5V295.6H144.2zM197.8 288H207V295.6H197.8zM224.5 288H233.8V295.6H224.5zM197.8 295.3H207V303H197.8zM224.5 295.3H233.8V303H224.5zM197.8 302.7H207V310.3H197.8zM224.5 302.7H233.8V310.3H224.5zM188.8 310H233.8V317.6H188.8zM153.2 317.3H162.4V324.9H153.2zM188.8 317.3H224.8V324.9H188.8zM162.1 324.6H189.1V332.3H162.1z"/>
<path fill="#0000c7" d="M153.2 288H162.4V295.6H153.2zM179.9 288H189.1V295.6H179.9zM153.2 295.3H162.4V303H153.2zM179.9 295.3H189.1V303H179.9zM162.1 310H180.2V317.6H162.1zM162.1 317.3H180.2V324.9H162.1z"/>
<path fill="#0000a7" d="M162.1 288H180.2V295.6H162.1zM162.1 295.3H180.2V303H162.1z"/>
<path fill="#0000e7" d="M188.8 288H198.1V295.6H188.8zM206.7 288H224.8V295.6H206.7zM188.8 295.3H198.1V303H188.8zM206.7 295.3H224.8V303H206.7zM153.2 310H162.4V317.6H153.2zM179.9 310H189.1V317.6H179.9zM179.9 317.3H189.1V324.9H179.9z"/>
<path fill="#0028ff" d="M233.5 288H242.7V295.6H233.5zM233.5 295.3H242.7V303H233.5zM144.2 302.7H153.5V310.3H144.2zM233.5 302.7H242.7V310.3H233.5zM233.5 310H242.7V317.6H233.5zM224.5 317.3H233.8V324.9H224.5zM188.8 324.6H215.9V332.3H188.8z"/>
<path fill="#00a7ff" d="M251.3 288H260.5V295.6H251.3zM251.3 295.3H260.5V303H251.3zM135.3 310H144.5V317.6H135.3zM153.2 332H162.4V339.6H153.2zM206.7 332H215.9V339.6H206.7z"/>
<path fill="#08fff7" d="M260.2 288H269.5V295.6H260.2zM55 310H64.2V317.6H55zM126.4 310H135.6V317.6H126.4zM135.3 332H144.5V339.6H135.3zM224.5 332H233.8V339.6H224.5zM162.1 339.3H207V346.9H162.1z"/>
<path fill="#fff700" d="M278.1 288H287.3V295.6H278.1zM278.1 295.3H287.3V303H278.1zM278.1 302.7H287.3V310.3H278.1zM278.1 310H287.3V317.6H278.1zM269.2 324.6H278.4V332.3H269.2zM260.2 332H269.5V339.6H260.2zM55 346.6H108.8V354.3H55zM117.5 354H135.6V361.6H117.5zM144.2 354H189.1V361.6H144.2zM197.8 354H207V361.6H197.8z"/>
<path fill="#0087ff" d="M55 295.3H64.2V303H55zM135.3 302.7H144.5V310.3H135.3zM242.4 317.3H251.6V324.9H242.4zM144.2 324.6H153.5V332.3H144.2zM233.5 324.6H242.7V332.3H233.5zM162.1 332H207V339.6H162.1z"/>
<path fill="#00e7ff" d="M63.9 295.3H73.1V303H63.9zM126.4 302.7H135.6V310.3H126.4zM135.3 324.6H144.5V332.3H135.3zM144.2 332H153.5V339.6H144.2zM215.6 332H224.8V339.6H215.6z"/>
<path fill="#48ffb7" d="M72.8 295.3H82.1V303H72.8zM63.9 310H73.1V317.6H63.9zM117.5 310H126.7V317.6H117.5zM260.2 310H269.5V317.6H260.2zM55 317.3H64.2V324.9H55zM126.4 332H135.6V339.6H126.4zM144.2 339.3H153.5V346.9H144.2z"/>
<path fill="#00d7ff" d="M126.4 295.3H135.6V303H126.4z"/>
<path fill="#0078ff" d="M135.3 295.3H144.5V303H135.3z"/>
<path fill="#0018ff" d="M144.2 295.3H153.5V303H144.2z"/>
<path fill="#18ffe7" d="M260.2 295.3H269.5V303H260.2zM63.9 302.7H73.1V310.3H63.9zM126.4 317.3H135.6V324.9H126.4z"/>
<path fill="#97ff68" d="M81.8 302.7H91V310.3H81.8zM99.6 302.7H108.8V310.3H99.6zM55 324.6H64.2V332.3H55zM108.5 324.6H117.8V332.3H108.5z"/>
<path fill="#78ff87" d="M108.5 302.7H117.8V310.3H108.5zM63.9 317.3H73.1V324.9H63.9z"/>
<path fill="#38ffc7" d="M117.5 302.7H126.7V310.3H117.5z"/>
<path fill="#0000d7" d="M153.2 302.7H162.4V310.3H153.2zM179.9 302.7H189.1V310.3H179.9z"/>
<path fill="#0000b7" d="M162.1 302.7H180.2V310.3H162.1z"/>
<path fill="#0000f7" d="M188.8 302.7H198.1V310.3H188.8zM206.7 302.7H224.8V310.3H206.7z"/>
<path fill="#00b7ff" d="M251.3 302.7H260.5V310.3H251.3z"/>
<path fill="#b7ff48" d="M269.2 302.7H278.4V310.3H269.2zM81.8 317.3H91V324.9H81.8zM90.7 324.6H108.8V332.3H90.7z"/>
<path fill="#c7ff38" d="M269.2 310H278.4V317.6H269.2zM72.8 324.6H91V332.3H72.8zM260.2 324.6H269.5V332.3H260.2zM90.7 332H108.8V339.6H90.7zM108.5 339.3H117.8V346.9H108.5zM126.4 346.6H144.5V354.3H126.4z"/>
<path fill="#58ffa7" d="M117.5 317.3H126.7V324.9H117.5z"/>
<path fill="#e7ff18" d="M269.2 317.3H278.4V324.9H269.2zM55 332H91V339.6H55zM251.3 332H260.5V339.6H251.3zM90.7 339.3H108.8V346.9H90.7zM242.4 339.3H251.6V346.9H242.4zM215.6 346.6H224.8V354.3H215.6zM188.8 354H198.1V361.6H188.8z"/>
<path fill="#ffe700" d="M278.1 317.3H287.3V324.9H278.1zM188.8 361.3H198.1V368.9H188.8z"/>
<path fill="#ffd700" d="M278.1 324.6H287.3V332.3H278.1zM269.2 332H278.4V339.6H269.2zM251.3 339.3H260.5V346.9H251.3zM224.5 346.6H233.8V354.3H224.5zM55 354H117.8V361.6H55zM135.3 354H144.5V361.6H135.3zM206.7 354H215.9V361.6H206.7zM153.2 361.3H162.4V368.9H153.2zM171 361.3H189.1V368.9H171zM55 456.6H64.2V464.2H55zM55 463.9H64.2V471.5H55zM55 471.2H64.2V478.9H55zM55 478.6H73.1V486.2H55z"/>
<path fill="#ffb700" d="M278.1 332H287.3V339.6H278.1zM269.2 339.3H278.4V346.9H269.2zM233.5 346.6H242.7V354.3H233.5zM72.8 361.3H108.8V368.9H72.8zM117.5 361.3H153.5V368.9H117.5zM162.1 361.3H171.3V368.9H162.1zM55 368.6H73.1V376.3H55zM55 434.6H64.2V442.2H55zM55 441.9H64.2V449.6H55zM63.9 456.6H73.1V464.2H63.9zM63.9 463.9H82.1V471.5H63.9zM72.8 471.2H82.1V478.9H72.8zM72.8 478.6H91V486.2H72.8z"/>
<path fill="#f7ff08" d="M55 339.3H91V346.9H55zM108.5 346.6H117.8V354.3H108.5z"/>
<path fill="#ffc700" d="M260.2 339.3H269.5V346.9H260.2zM55 361.3H73.1V368.9H55zM197.8 361.3H207V368.9H197.8zM55 449.3H64.2V456.9H55zM63.9 471.2H73.1V478.9H63.9z"/>
<path fill="#ffa700" d="M278.1 339.3H287.3V346.9H278.1zM108.5 361.3H117.8V368.9H108.5zM55 427.3H64.2V434.9H55zM63.9 449.3H73.1V456.9H63.9zM72.8 456.6H82.1V464.2H72.8zM81.8 471.2H91V478.9H81.8z"/>
<path fill="#d7ff28" d="M117.5 346.6H126.7V354.3H117.5z"/>
<path fill="#ff9700" d="M242.4 346.6H251.6V354.3H242.4zM260.2 346.6H269.5V354.3H260.2zM278.1 346.6H287.3V354.3H278.1zM215.6 354H224.8V361.6H215.6zM206.7 361.3H215.9V368.9H206.7zM72.8 368.6H91V376.3H72.8zM55 376H73.1V383.6H55zM55 383.3H73.1V390.9H55zM55 390.6H64.2V398.2H55zM55 397.9H64.2V405.6H55zM55 405.3H64.2V412.9H55zM55 412.6H64.2V420.2H55zM55 419.9H64.2V427.6H55zM63.9 434.6H73.1V442.2H63.9zM63.9 441.9H73.1V449.6H63.9zM72.8 449.3H82.1V456.9H72.8zM81.8 463.9H91V471.5H81.8zM90.7 478.6H108.8V486.2H90.7z"/>
<path fill="#ff8700" d="M251.3 346.6H260.5V354.3H251.3zM269.2 346.6H278.4V354.3H269.2zM90.7 368.6H108.8V376.3H90.7zM63.9 390.6H73.1V398.2H63.9zM63.9 427.3H73.1V434.9H63.9zM81.8 456.6H91V464.2H81.8zM90.7 471.2H108.8V478.9H90.7z"/>
<path fill="#ff5800" d="M224.5 354H233.8V361.6H224.5zM260.2 354H278.4V361.6H260.2zM224.5 361.3H233.8V368.9H224.5zM144.2 368.6H153.5V376.3H144.2zM162.1 368.6H171.3V376.3H162.1zM197.8 368.6H207V376.3H197.8zM278.1 368.6H287.3V376.3H278.1zM90.7 376H108.8V383.6H90.7zM90.7 383.3H108.8V390.9H90.7zM72.8 397.9H91V405.6H72.8zM72.8 405.3H91V412.9H72.8zM72.8 412.6H82.1V420.2H72.8zM72.8 419.9H82.1V427.6H72.8zM81.8 434.6H99.9V442.2H81.8zM81.8 441.9H99.9V449.6H81.8zM99.6 449.3H117.8V456.9H99.6zM117.5 456.6H126.7V464.2H117.5zM278.1 456.6H287.3V464.2H278.1zM117.5 463.9H144.5V471.5H117.5zM269.2 463.9H287.3V471.5H269.2zM162.1 471.2H180.2V478.9H162.1zM215.6 471.2H269.5V478.9H215.6zM144.2 478.6H162.4V486.2H144.2zM179.9 478.6H215.9V486.2H179.9z"/>
<path fill="#ff3800" d="M233.5 354H260.5V361.6H233.5zM206.7 368.6H215.9V376.3H206.7zM260.2 368.6H278.4V376.3H260.2zM108.5 376H117.8V383.6H108.5zM278.1 376H287.3V383.6H278.1zM108.5 383.3H117.8V390.9H108.5zM278.1 383.3H287.3V390.9H278.1zM108.5 390.6H117.8V398.2H108.5zM90.7 397.9H117.8V405.6H90.7zM90.7 405.3H117.8V412.9H90.7zM90.7 412.6H99.9V420.2H90.7zM81.8 419.9H99.9V427.6H81.8zM99.6 434.6H126.7V442.2H99.6zM278.1 434.6H287.3V442.2H278.1zM99.6 441.9H126.7V449.6H99.6zM278.1 441.9H287.3V449.6H278.1zM126.4 449.3H144.5V456.9H126.4zM269.2 449.3H278.4V456.9H269.2zM144.2 456.6H153.5V464.2H144.2zM224.5 456.6H269.5V464.2H224.5zM144.2 463.9H269.5V471.5H144.2z"/>
<path fill="#ff7800" d="M278.1 354H287.3V361.6H278.1zM215.6 361.3H224.8V368.9H215.6zM108.5 368.6H117.8V376.3H108.5zM188.8 368.6H198.1V376.3H188.8zM72.8 376H91V383.6H72.8zM72.8 383.3H91V390.9H72.8zM63.9 397.9H73.1V405.6H63.9zM63.9 405.3H73.1V412.9H63.9zM63.9 412.6H73.1V420.2H63.9zM63.9 419.9H73.1V427.6H63.9zM72.8 434.6H82.1V442.2H72.8zM72.8 441.9H82.1V449.6H72.8zM81.8 449.3H91V456.9H81.8zM90.7 456.6H99.9V464.2H90.7zM90.7 463.9H117.8V471.5H90.7zM108.5 471.2H117.8V478.9H108.5zM108.5 478.6H144.5V486.2H108.5zM162.1 478.6H180.2V486.2H162.1zM215.6 478.6H287.3V486.2H215.6z"/>
<path fill="#ff2800" d="M233.5 361.3H260.5V368.9H233.5zM215.6 368.6H233.8V376.3H215.6zM278.1 390.6H287.3V398.2H278.1zM99.6 412.6H117.8V420.2H99.6zM99.6 427.3H126.7V434.9H99.6zM278.1 427.3H287.3V434.9H278.1zM144.2 449.3H153.5V456.9H144.2zM224.5 449.3H269.5V456.9H224.5zM153.2 456.6H224.8V464.2H153.2z"/>
<path fill="#ff4800" d="M260.2 361.3H278.4V368.9H260.2zM90.7 390.6H108.8V398.2H90.7zM81.8 412.6H91V420.2H81.8zM81.8 427.3H99.9V434.9H81.8zM117.5 449.3H126.7V456.9H117.5zM278.1 449.3H287.3V456.9H278.1zM126.4 456.6H144.5V464.2H126.4zM269.2 456.6H278.4V464.2H269.2zM144.2 471.2H162.4V478.9H144.2zM179.9 471.2H215.9V478.9H179.9z"/>
<path fill="#ff6800" d="M278.1 361.3H287.3V368.9H278.1zM117.5 368.6H144.5V376.3H117.5zM153.2 368.6H162.4V376.3H153.2zM171 368.6H189.1V376.3H171zM72.8 390.6H91V398.2H72.8zM72.8 427.3H82.1V434.9H72.8zM90.7 449.3H99.9V456.9H90.7zM99.6 456.6H117.8V464.2H99.6zM117.5 471.2H144.5V478.9H117.5zM269.2 471.2H287.3V478.9H269.2z"/>
<path fill="#ff1800" d="M233.5 368.6H260.5V376.3H233.5zM117.5 376H144.5V383.6H117.5zM260.2 376H278.4V383.6H260.2zM117.5 383.3H144.5V390.9H117.5zM260.2 383.3H278.4V390.9H260.2zM117.5 390.6H135.6V398.2H117.5zM117.5 397.9H135.6V405.6H117.5zM278.1 397.9H287.3V405.6H278.1zM117.5 405.3H135.6V412.9H117.5zM278.1 405.3H287.3V412.9H278.1zM117.5 412.6H135.6V420.2H117.5zM278.1 412.6H287.3V420.2H278.1zM99.6 419.9H135.6V427.6H99.6zM278.1 419.9H287.3V427.6H278.1zM126.4 427.3H135.6V434.9H126.4zM126.4 434.6H153.5V442.2H126.4zM251.3 434.6H278.4V442.2H251.3zM126.4 441.9H153.5V449.6H126.4zM224.5 441.9H278.4V449.6H224.5zM153.2 449.3H224.8V456.9H153.2z"/>
<path fill="#f70000" d="M144.2 376H198.1V383.6H144.2zM224.5 376H260.5V383.6H224.5zM144.2 383.3H180.2V390.9H144.2zM224.5 383.3H260.5V390.9H224.5zM144.2 390.6H162.4V398.2H144.2zM251.3 390.6H260.5V398.2H251.3zM135.3 397.9H162.4V405.6H135.3zM251.3 397.9H278.4V405.6H251.3zM135.3 405.3H162.4V412.9H135.3zM251.3 405.3H278.4V412.9H251.3zM135.3 412.6H162.4V420.2H135.3zM251.3 412.6H278.4V420.2H251.3zM135.3 419.9H162.4V427.6H135.3zM251.3 419.9H278.4V427.6H251.3zM153.2 427.3H162.4V434.9H153.2zM224.5 427.3H251.6V434.9H224.5zM153.2 434.6H180.2V442.2H153.2zM215.6 434.6H224.8V442.2H215.6zM153.2 441.9H224.8V449.6H153.2z"/>
<path fill="#d70000" d="M197.8 376H224.8V383.6H197.8zM197.8 383.3H224.8V390.9H197.8zM179.9 390.6H198.1V398.2H179.9zM162.1 397.9H180.2V405.6H162.1zM224.5 397.9H251.6V405.6H224.5zM162.1 405.3H180.2V412.9H162.1zM224.5 405.3H251.6V412.9H224.5zM162.1 412.6H180.2V420.2H162.1zM215.6 412.6H251.6V420.2H215.6zM162.1 419.9H180.2V427.6H162.1zM215.6 419.9H251.6V427.6H215.6zM179.9 427.3H215.9V434.9H179.9z"/>
<path fill="#e70000" d="M179.9 383.3H198.1V390.9H179.9zM162.1 390.6H180.2V398.2H162.1zM224.5 390.6H251.6V398.2H224.5zM162.1 427.3H180.2V434.9H162.1zM215.6 427.3H224.8V434.9H215.6zM179.9 434.6H215.9V442.2H179.9z"/>
<path fill="#ff0800" d="M135.3 390.6H144.5V398.2H135.3zM260.2 390.6H278.4V398.2H260.2zM135.3 427.3H153.5V434.9H135.3zM251.3 427.3H278.4V434.9H251.3zM224.5 434.6H251.6V442.2H224.5z"/>
<path fill="#c70000" d="M197.8 390.6H224.8V398.2H197.8zM215.6 405.3H224.8V412.9H215.6z"/>
<path fill="#b70000" d="M179.9 397.9H224.8V405.6H179.9zM179.9 405.3H215.9V412.9H179.9zM179.9 412.6H215.9V420.2H179.9zM179.9 419.9H215.9V427.6H179.9z"/>
</g>
<g clip-path="url(#c3)">
<path d="M278.2 306.2L278.9 289.9L288.1 293.3z" fill="#000"/>
<path d="M105.4 295.2L110.8 310.5L101.1 310.9z" fill="#000"/>
<path d="M272 324.2L279.5 309.8L286.4 316.7z" fill="#000"/>
<path d="M69.8 317.2L75.2 332.5L65.5 332.9z" fill="#000"/>
<path d="M104.5 317.3L110.8 332.3L101 333.1z" fill="#000"/>
<path d="M231.4 333.6L247.1 329.3L246.7 339z" fill="#000"/>
<path d="M267.1 335.7L282.1 329.4L282.9 339.2z" fill="#000"/>
<path d="M68.9 339.3L75.2 354.3L65.4 355.1z" fill="#000"/>
<path d="M97.5 341.5L109.5 352.5L101 357.4z" fill="#000"/>
<path d="M124.6 356.2L140.1 351.3L140.1 361.1z" fill="#000"/>
<path d="M161.8 363.4L173.8 352.4L177.9 361.3z" fill="#000"/>
<path d="M196.8 350.4L213.1 351.1L209.7 360.3z" fill="#000"/>
<path d="M231.5 354.7L247.3 351.2L246.5 361z" fill="#000"/>
<path d="M267 356.2L282.5 351.3L282.5 361.1z" fill="#000"/>
<path d="M67.4 361.5L75 375.9L65.3 377.6z" fill="#000"/>
<path d="M89.6 373.8L105.8 373.1L103.3 382.5z" fill="#000"/>
<path d="M124.6 378.2L140.1 373.3L140.1 383.1z" fill="#000"/>
<path d="M160.2 378.2L175.7 373.3L175.7 383.1z" fill="#000"/>
<path d="M196.1 375.2L212.2 373.1L210.5 382.8z" fill="#000"/>
<path d="M231.4 377.6L247.1 373.3L246.7 383z" fill="#000"/>
<path d="M267 378.2L282.5 373.3L282.5 383.1z" fill="#000"/>
<path d="M54.4 394.4L70.7 395.1L67.3 404.3z" fill="#000"/>
<path d="M89.1 401.7L104.1 395.4L104.9 405.2z" fill="#000"/>
<path d="M124.6 400.2L140.1 395.3L140.1 405.1z" fill="#000"/>
<path d="M160.2 400.2L175.7 395.3L175.7 405.1z" fill="#000"/>
<path d="M195.8 400.2L211.3 395.3L211.3 405.1z" fill="#000"/>
<path d="M231.4 400.2L246.9 395.3L246.9 405.1z" fill="#000"/>
<path d="M267 400.2L282.5 395.3L282.5 405.1z" fill="#000"/>
<path d="M54.4 428L67.3 418.1L70.7 427.3z" fill="#000"/>
<path d="M89.6 426.6L103.3 417.9L105.8 427.3z" fill="#000"/>
<path d="M124.7 423.7L139.7 417.4L140.5 427.2z" fill="#000"/>
<path d="M160.2 422.2L175.7 417.3L175.7 427.1z" fill="#000"/>
<path d="M195.8 421.6L211.5 417.3L211.1 427z" fill="#000"/>
<path d="M231.5 420.7L247.3 417.2L246.5 427z" fill="#000"/>
<path d="M267 421.6L282.7 417.3L282.3 427z" fill="#000"/>
<path d="M67.4 460.9L65.3 444.8L75 446.5z" fill="#000"/>
<path d="M92.1 454L102 441L107.6 449.1z" fill="#000"/>
<path d="M125.2 448.6L138.9 439.9L141.4 449.3z" fill="#000"/>
<path d="M160.2 444.2L175.7 439.3L175.7 449.1z" fill="#000"/>
<path d="M195.9 442.7L211.7 439.2L210.9 449z" fill="#000"/>
<path d="M231.5 442.7L247.3 439.2L246.5 449z" fill="#000"/>
<path d="M267.3 441.2L283.4 439.1L281.7 448.8z" fill="#000"/>
<path d="M68.9 483.1L65.4 467.3L75.2 468.1z" fill="#000"/>
<path d="M98.8 481.6L100.9 465.5L109.8 469.6z" fill="#000"/>
<path d="M125.6 472L138.5 462.1L141.9 471.3z" fill="#000"/>
<path d="M160.2 466.2L175.7 461.3L175.7 471.1z" fill="#000"/>
<path d="M196.1 463.2L212.2 461.1L210.5 470.8z" fill="#000"/>
<path d="M232 461.8L248.2 461.1L245.7 470.5z" fill="#000"/>
<path d="M268 460.4L284.3 461.1L280.9 470.3z" fill="#000"/>
<path d="M55 288L82.9 288L83.6 291L84.2 294L84.9 297L85.6 300L86.3 303L87.1 306L87.8 309L88.6 312L89.4 315L90.1 318L91 321L91.8 324L92.6 327L93.5 330L94.3 333L95.2 336L96.1 339L97.1 342L98 345L99 348L100 351L101 354L102 357L103 360L104.1 363L105.2 366L106.3 369L107.4 372L108.6 375L109.7 378L110.9 381L112.2 384L113.4 387L114.7 390L116 393L117.3 396L118.6 399L120 402L121.4 405L122.8 408L124.3 411L125.8 414L127.3 417L128.9 420L130.4 423L132 426L133.7 429L135.4 432L137.1 435L138.8 438L140.6 441L142.4 444L144.3 447L146.1 450L148.1 453L150 456L152 459L154.1 462L156.1 465L158.3 468L160.4 471L162.6 474L164.9 477L165.3 477.5L176.7 477.5L177.1 477L179.4 474L181.6 471L183.7 468L185.9 465L187.9 462L190 459L192 456L193.9 453L195.9 450L197.7 447L199.6 444L201.4 441L203.2 438L204.9 435L206.6 432L208.3 429L210 426L211.6 423L213.1 420L214.7 417L216.2 414L217.7 411L219.2 408L220.6 405L222 402L223.4 399L224.7 396L226 393L227.3 390L228.6 387L229.8 384L231.1 381L232.3 378L233.4 375L234.6 372L235.7 369L236.8 366L237.9 363L239 360L240 357L241 354L242 351L243 348L244 345L244.9 342L245.9 339L246.8 336L247.7 333L248.5 330L249.4 327L250.2 324L251 321L251.9 318L252.6 315L253.4 312L254.2 309L254.9 306L255.7 303L256.4 300L257.1 297L257.8 294L258.4 291L259.1 288L287 288L287 485.9L55 485.9z" fill="#fff" fill-opacity="0.5"/>
<path d="M82.9 288L83.6 291L84.2 294L84.9 297L85.6 300L86.3 303L87.1 306L87.8 309L88.6 312L89.4 315L90.1 318L91 321L91.8 324L92.6 327L93.5 330L94.3 333L95.2 336L96.1 339L97.1 342L98 345L99 348L100 351L101 354L102 357L103 360L104.1 363L105.2 366L106.3 369L107.4 372L108.6 375L109.7 378L110.9 381L112.2 384L113.4 387L114.7 390L116 393L117.3 396L118.6 399L120 402L121.4 405L122.8 408L124.3 411L125.8 414L127.3 417L128.9 420L130.4 423L132 426L133.7 429L135.4 432L137.1 435L138.8 438L140.6 441L142.4 444L144.3 447L146.1 450L148.1 453L150 456L152 459L154.1 462L156.1 465L158.3 468L160.4 471L162.6 474L164.9 477L165.3 477.5L176.7 477.5L177.1 477L179.4 474L181.6 471L183.7 468L185.9 465L187.9 462L190 459L192 456L193.9 453L195.9 450L197.7 447L199.6 444L201.4 441L203.2 438L204.9 435L206.6 432L208.3 429L210 426L211.6 423L213.1 420L214.7 417L216.2 414L217.7 411L219.2 408L220.6 405L222 402L223.4 399L224.7 396L226 393L227.3 390L228.6 387L229.8 384L231.1 381L232.3 378L233.4 375L234.6 372L235.7 369L236.8 366L237.9 363L239 360L240 357L241 354L242 351L243 348L244 345L244.9 342L245.9 339L246.8 336L247.7 333L248.5 330L249.4 327L250.2 324L251 321L251.9 318L252.6 315L253.4 312L254.2 309L254.9 306L255.7 303L256.4 300L257.1 297L257.8 294L258.4 291L259.1 288" stroke="#000" stroke-width="0.9" fill="none"/>
<path d="M289.8 274.2L283.5 291.6M278.2 306.2L278.9 289.9L288.1 293.3z" stroke="#000" stroke-width="0.9" fill="none" stroke-linejoin="round"/>
<path d="M106.6 329.2L105.9 310.7M105.4 295.2L110.8 310.5L101.1 310.9z" stroke="#000" stroke-width="0.9" fill="none" stroke-linejoin="round"/>
<path d="M296 300.2L282.9 313.3M272 324.2L279.5 309.8L286.4 316.7z" stroke="#000" stroke-width="0.9" fill="none" stroke-linejoin="round"/>
<path d="M71 351.2L70.3 332.7M69.8 317.2L75.2 332.5L65.5 332.9z" stroke="#000" stroke-width="0.9" fill="none" stroke-linejoin="round"/>
<path d="M107.5 351.1L105.9 332.7M104.5 317.3L110.8 332.3L101 333.1z" stroke="#000" stroke-width="0.9" fill="none" stroke-linejoin="round"/>
<path d="M265.4 334.8L246.9 334.1M231.4 333.6L247.1 329.3L246.7 339z" stroke="#000" stroke-width="0.9" fill="none" stroke-linejoin="round"/>
<path d="M300.9 332.7L282.5 334.3M267.1 335.7L282.1 329.4L282.9 339.2z" stroke="#000" stroke-width="0.9" fill="none" stroke-linejoin="round"/>
<path d="M71.9 373.1L70.3 354.7M68.9 339.3L75.2 354.3L65.4 355.1z" stroke="#000" stroke-width="0.9" fill="none" stroke-linejoin="round"/>
<path d="M114.5 370.9L105.2 354.9M97.5 341.5L109.5 352.5L101 357.4z" stroke="#000" stroke-width="0.9" fill="none" stroke-linejoin="round"/>
<path d="M158.6 356.2L140.1 356.2M124.6 356.2L140.1 351.3L140.1 361.1z" stroke="#000" stroke-width="0.9" fill="none" stroke-linejoin="round"/>
<path d="M192.6 349L175.8 356.8M161.8 363.4L173.8 352.4L177.9 361.3z" stroke="#000" stroke-width="0.9" fill="none" stroke-linejoin="round"/>
<path d="M228.8 362L211.4 355.7M196.8 350.4L213.1 351.1L209.7 360.3z" stroke="#000" stroke-width="0.9" fill="none" stroke-linejoin="round"/>
<path d="M265.3 357.7L246.9 356.1M231.5 354.7L247.3 351.2L246.5 361z" stroke="#000" stroke-width="0.9" fill="none" stroke-linejoin="round"/>
<path d="M301 356.2L282.5 356.2M267 356.2L282.5 351.3L282.5 361.1z" stroke="#000" stroke-width="0.9" fill="none" stroke-linejoin="round"/>
<path d="M73.4 394.9L70.1 376.7M67.4 361.5L75 375.9L65.3 377.6z" stroke="#000" stroke-width="0.9" fill="none" stroke-linejoin="round"/>
<path d="M122.4 382.6L104.6 377.8M89.6 373.8L105.8 373.1L103.3 382.5z" stroke="#000" stroke-width="0.9" fill="none" stroke-linejoin="round"/>
<path d="M158.6 378.2L140.1 378.2M124.6 378.2L140.1 373.3L140.1 383.1z" stroke="#000" stroke-width="0.9" fill="none" stroke-linejoin="round"/>
<path d="M194.2 378.2L175.7 378.2M160.2 378.2L175.7 373.3L175.7 383.1z" stroke="#000" stroke-width="0.9" fill="none" stroke-linejoin="round"/>
<path d="M229.5 381.2L211.3 377.9M196.1 375.2L212.2 373.1L210.5 382.8z" stroke="#000" stroke-width="0.9" fill="none" stroke-linejoin="round"/>
<path d="M265.4 378.8L246.9 378.1M231.4 377.6L247.1 373.3L246.7 383z" stroke="#000" stroke-width="0.9" fill="none" stroke-linejoin="round"/>
<path d="M301 378.2L282.5 378.2M267 378.2L282.5 373.3L282.5 383.1z" stroke="#000" stroke-width="0.9" fill="none" stroke-linejoin="round"/>
<path d="M86.4 406L69 399.7M54.4 394.4L70.7 395.1L67.3 404.3z" stroke="#000" stroke-width="0.9" fill="none" stroke-linejoin="round"/>
<path d="M122.9 398.7L104.5 400.3M89.1 401.7L104.1 395.4L104.9 405.2z" stroke="#000" stroke-width="0.9" fill="none" stroke-linejoin="round"/>
<path d="M158.6 400.2L140.1 400.2M124.6 400.2L140.1 395.3L140.1 405.1z" stroke="#000" stroke-width="0.9" fill="none" stroke-linejoin="round"/>
<path d="M194.2 400.2L175.7 400.2M160.2 400.2L175.7 395.3L175.7 405.1z" stroke="#000" stroke-width="0.9" fill="none" stroke-linejoin="round"/>
<path d="M229.8 400.2L211.3 400.2M195.8 400.2L211.3 395.3L211.3 405.1z" stroke="#000" stroke-width="0.9" fill="none" stroke-linejoin="round"/>
<path d="M265.4 400.2L246.9 400.2M231.4 400.2L246.9 395.3L246.9 405.1z" stroke="#000" stroke-width="0.9" fill="none" stroke-linejoin="round"/>
<path d="M301 400.2L282.5 400.2M267 400.2L282.5 395.3L282.5 405.1z" stroke="#000" stroke-width="0.9" fill="none" stroke-linejoin="round"/>
<path d="M86.4 416.4L69 422.7M54.4 428L67.3 418.1L70.7 427.3z" stroke="#000" stroke-width="0.9" fill="none" stroke-linejoin="round"/>
<path d="M122.4 417.8L104.6 422.6M89.6 426.6L103.3 417.9L105.8 427.3z" stroke="#000" stroke-width="0.9" fill="none" stroke-linejoin="round"/>
<path d="M158.5 420.7L140.1 422.3M124.7 423.7L139.7 417.4L140.5 427.2z" stroke="#000" stroke-width="0.9" fill="none" stroke-linejoin="round"/>
<path d="M194.2 422.2L175.7 422.2M160.2 422.2L175.7 417.3L175.7 427.1z" stroke="#000" stroke-width="0.9" fill="none" stroke-linejoin="round"/>
<path d="M229.8 422.8L211.3 422.1M195.8 421.6L211.5 417.3L211.1 427z" stroke="#000" stroke-width="0.9" fill="none" stroke-linejoin="round"/>
<path d="M265.3 423.7L246.9 422.1M231.5 420.7L247.3 417.2L246.5 427z" stroke="#000" stroke-width="0.9" fill="none" stroke-linejoin="round"/>
<path d="M301 422.8L282.5 422.1M267 421.6L282.7 417.3L282.3 427z" stroke="#000" stroke-width="0.9" fill="none" stroke-linejoin="round"/>
<path d="M73.4 427.5L70.1 445.7M67.4 460.9L65.3 444.8L75 446.5z" stroke="#000" stroke-width="0.9" fill="none" stroke-linejoin="round"/>
<path d="M119.9 434.4L104.8 445.1M92.1 454L102 441L107.6 449.1z" stroke="#000" stroke-width="0.9" fill="none" stroke-linejoin="round"/>
<path d="M158 439.8L140.2 444.6M125.2 448.6L138.9 439.9L141.4 449.3z" stroke="#000" stroke-width="0.9" fill="none" stroke-linejoin="round"/>
<path d="M194.2 444.2L175.7 444.2M160.2 444.2L175.7 439.3L175.7 449.1z" stroke="#000" stroke-width="0.9" fill="none" stroke-linejoin="round"/>
<path d="M229.7 445.7L211.3 444.1M195.9 442.7L211.7 439.2L210.9 449z" stroke="#000" stroke-width="0.9" fill="none" stroke-linejoin="round"/>
<path d="M265.3 445.7L246.9 444.1M231.5 442.7L247.3 439.2L246.5 449z" stroke="#000" stroke-width="0.9" fill="none" stroke-linejoin="round"/>
<path d="M300.7 447.2L282.5 443.9M267.3 441.2L283.4 439.1L281.7 448.8z" stroke="#000" stroke-width="0.9" fill="none" stroke-linejoin="round"/>
<path d="M71.9 449.3L70.3 467.7M68.9 483.1L65.4 467.3L75.2 468.1z" stroke="#000" stroke-width="0.9" fill="none" stroke-linejoin="round"/>
<path d="M113.2 450.8L105.4 467.6M98.8 481.6L100.9 465.5L109.8 469.6z" stroke="#000" stroke-width="0.9" fill="none" stroke-linejoin="round"/>
<path d="M157.6 460.4L140.2 466.7M125.6 472L138.5 462.1L141.9 471.3z" stroke="#000" stroke-width="0.9" fill="none" stroke-linejoin="round"/>
<path d="M194.2 466.2L175.7 466.2M160.2 466.2L175.7 461.3L175.7 471.1z" stroke="#000" stroke-width="0.9" fill="none" stroke-linejoin="round"/>
<path d="M229.5 469.2L211.3 465.9M196.1 463.2L212.2 461.1L210.5 470.8z" stroke="#000" stroke-width="0.9" fill="none" stroke-linejoin="round"/>
<path d="M264.8 470.6L247 465.8M232 461.8L248.2 461.1L245.7 470.5z" stroke="#000" stroke-width="0.9" fill="none" stroke-linejoin="round"/>
<path d="M300 472L282.6 465.7M268 460.4L284.3 461.1L280.9 470.3z" stroke="#000" stroke-width="0.9" fill="none" stroke-linejoin="round"/>
<path transform="translate(55 288)" d="M233.0 44.0C230.1 45.0 221.3 47.5 215.6 49.8C209.9 52.1 204.5 55.4 199.0 58.0C193.5 60.6 187.9 63.3 182.4 65.5C176.9 67.7 172.0 69.6 165.8 71.3C159.6 73.0 151.9 74.2 145.0 75.5C138.1 76.8 131.3 77.9 124.4 78.8C117.5 79.7 110.5 79.9 103.6 80.8C96.7 81.7 89.9 82.8 83.0 84.2C76.1 85.6 69.1 87.3 62.2 89.0C55.3 90.7 47.7 92.4 41.5 94.5C35.3 96.6 29.0 98.7 24.9 101.6C20.8 104.5 19.0 108.2 16.6 112.0C14.2 115.8 11.7 120.6 10.4 124.4C9.2 128.2 8.4 131.6 9.1 134.7C9.8 137.8 11.9 140.2 14.5 143.0C17.1 145.8 20.4 148.5 24.9 151.3C29.4 154.1 35.3 156.8 41.5 159.6C47.7 162.4 55.3 165.6 62.2 168.0C69.1 170.4 76.1 172.2 83.0 174.0C89.9 175.8 96.7 177.6 103.6 179.0C110.5 180.4 117.5 181.7 124.4 182.4C131.3 183.1 138.1 183.3 145.0 183.3C151.9 183.3 158.9 183.1 165.8 182.4C172.7 181.7 179.7 180.5 186.6 179.0C193.5 177.5 201.4 175.5 207.3 173.3C213.2 171.1 217.5 168.5 221.8 165.8C226.1 163.1 231.1 158.5 233.0 157.0" stroke="#000" stroke-width="3.8" fill="none" stroke-linejoin="round" stroke-linecap="round"/>
<path transform="translate(55 288)" d="M227.0 -2.0C227.8 0.3 231.2 9.7 232.0 12.0" stroke="#000" stroke-width="3.8" fill="none" stroke-linejoin="round" stroke-linecap="round"/>
<path d="M55 395.1H291" stroke="#000" stroke-width="4.6" stroke-dasharray="23.5 15.2" stroke-dashoffset="17.5"/>
<path d="M55 442.8H291" stroke="#000" stroke-width="4.6" stroke-dasharray="23.5 15.2" stroke-dashoffset="34.2"/>
</g>
<rect x="54.5" y="409.8" width="4.3" height="23" fill="#000"/>
<path d="M287.2 288V485.9" stroke="#000" stroke-width="1.3"/>
<rect x="284.2" y="413" width="3.6" height="24" fill="#000"/>
<path d="M54.5 288V486.9" stroke="#000" stroke-width="1"/>
<text x="47" y="294.9" text-anchor="end" font-size="19">4</text>
<text x="47" y="384.7" text-anchor="end" font-size="19">8</text>
<text x="53.3" y="399.1" text-anchor="end" font-size="19" font-weight="bold">9</text>
<text x="55" y="448.7" text-anchor="end" font-size="19" font-weight="bold">13</text>
<text x="46.5" y="476.3" text-anchor="end" font-size="19">16</text>
<text x="58.4" y="511.7" text-anchor="middle" font-size="19">1984</text>
<text x="111.7" y="511.7" text-anchor="middle" font-size="19">1990</text>
<text x="165" y="511.7" text-anchor="middle" font-size="19">1996</text>
<text x="218.3" y="511.7" text-anchor="middle" font-size="19">2002</text>
<text x="271.6" y="511.7" text-anchor="middle" font-size="19">2008</text>
<text x="167.5" y="275.2" text-anchor="middle" font-size="19" textLength="45.9">reg 3</text>
<g shape-rendering="crispEdges">
<path fill="#68ff97" d="M326 288H335.2V295.6H326zM326 295.3H335.2V303H326zM326 302.7H335.2V310.3H326zM326 310H335.2V317.6H326zM397.4 310H406.6V317.6H397.4zM468.8 310H478V317.6H468.8zM326 317.3H335.2V324.9H326zM450.9 317.3H469.1V324.9H450.9zM406.3 332H415.5V339.6H406.3zM415.2 354H424.5V361.6H415.2zM424.2 376H433.4V383.6H424.2zM459.8 390.6H469.1V398.2H459.8zM468.8 456.6H486.9V464.2H468.8zM486.6 463.9H504.8V471.5H486.6zM504.5 471.2H513.7V478.9H504.5zM513.4 478.6H531.5V486.2H513.4z"/>
<path fill="#87ff78" d="M334.9 288H344.1V295.6H334.9zM334.9 295.3H344.1V303H334.9zM334.9 302.7H344.1V310.3H334.9zM334.9 310H344.1V317.6H334.9zM334.9 317.3H344.1V324.9H334.9zM397.4 317.3H406.6V324.9H397.4zM326 332H335.2V339.6H326zM406.3 339.3H415.5V346.9H406.3zM415.2 361.3H424.5V368.9H415.2zM459.8 434.6H469.1V442.2H459.8zM459.8 441.9H469.1V449.6H459.8zM459.8 449.3H469.1V456.9H459.8zM468.8 463.9H486.9V471.5H468.8zM486.6 471.2H495.8V478.9H486.6zM495.5 478.6H513.7V486.2H495.5z"/>
<path fill="#c7ff38" d="M343.8 288H353.1V295.6H343.8zM388.5 288H397.7V295.6H388.5zM468.8 288H478V295.6H468.8zM343.8 295.3H353.1V303H343.8zM388.5 295.3H397.7V303H388.5zM468.8 295.3H478V303H468.8zM343.8 302.7H353.1V310.3H343.8zM388.5 302.7H397.7V310.3H388.5zM343.8 310H353.1V317.6H343.8zM388.5 310H397.7V317.6H388.5zM343.8 317.3H353.1V324.9H343.8zM343.8 324.6H353.1V332.3H343.8zM343.8 332H353.1V339.6H343.8zM397.4 332H406.6V339.6H397.4zM334.9 339.3H344.1V346.9H334.9zM406.3 354H415.5V361.6H406.3zM415.2 376H424.5V383.6H415.2zM433.1 390.6H442.3V398.2H433.1zM450.9 441.9H460.1V449.6H450.9zM450.9 449.3H460.1V456.9H450.9zM450.9 456.6H460.1V464.2H450.9zM326 463.9H335.2V471.5H326zM450.9 463.9H460.1V471.5H450.9zM450.9 471.2H460.1V478.9H450.9zM334.9 478.6H344.1V486.2H334.9zM450.9 478.6H469.1V486.2H450.9z"/>
<path fill="#fff700" d="M352.8 288H362V295.6H352.8zM442 288H451.2V295.6H442zM361.7 302.7H370.9V310.3H361.7zM379.5 302.7H388.8V310.3H379.5zM450.9 302.7H469.1V310.3H450.9zM361.7 310H370.9V317.6H361.7zM379.5 310H388.8V317.6H379.5zM361.7 317.3H370.9V324.9H361.7zM379.5 317.3H388.8V324.9H379.5zM361.7 324.6H370.9V332.3H361.7zM361.7 332H370.9V339.6H361.7zM388.5 332H397.7V339.6H388.5zM352.8 339.3H362V346.9H352.8zM388.5 339.3H397.7V346.9H388.5zM326 354H335.2V361.6H326zM397.4 354H406.6V361.6H397.4zM406.3 376H415.5V383.6H406.3zM415.2 383.3H424.5V390.9H415.2zM424.2 390.6H433.4V398.2H424.2zM450.9 397.9H460.1V405.6H450.9zM450.9 405.3H460.1V412.9H450.9zM450.9 412.6H460.1V420.2H450.9zM450.9 419.9H460.1V427.6H450.9zM442 441.9H451.2V449.6H442zM326 449.3H335.2V456.9H326zM442 449.3H451.2V456.9H442zM334.9 456.6H344.1V464.2H334.9zM442 456.6H451.2V464.2H442zM343.8 463.9H451.2V471.5H343.8zM433.1 471.2H442.3V478.9H433.1zM433.1 478.6H442.3V486.2H433.1z"/>
<path fill="#ffd700" d="M361.7 288H370.9V295.6H361.7zM379.5 288H388.8V295.6H379.5zM370.6 302.7H379.8V310.3H370.6zM370.6 310H379.8V317.6H370.6zM370.6 317.3H379.8V324.9H370.6zM370.6 324.6H379.8V332.3H370.6zM370.6 332H388.8V339.6H370.6zM370.6 339.3H388.8V346.9H370.6zM352.8 346.6H370.9V354.3H352.8zM334.9 354H344.1V361.6H334.9zM388.5 354H397.7V361.6H388.5zM397.4 368.6H406.6V376.3H397.4zM433.1 397.9H442.3V405.6H433.1zM442 427.3H451.2V434.9H442zM326 441.9H335.2V449.6H326zM334.9 449.3H344.1V456.9H334.9zM415.2 449.3H442.3V456.9H415.2zM343.8 456.6H415.5V464.2H343.8z"/>
<path fill="#ffb700" d="M370.6 288H379.8V295.6H370.6zM343.8 354H388.8V361.6H343.8zM388.5 361.3H397.7V368.9H388.5zM397.4 376H406.6V383.6H397.4zM406.3 383.3H415.5V390.9H406.3zM415.2 390.6H424.5V398.2H415.2zM433.1 412.6H451.2V420.2H433.1zM442 419.9H451.2V427.6H442zM326 434.6H335.2V442.2H326zM433.1 434.6H442.3V442.2H433.1zM334.9 441.9H344.1V449.6H334.9zM415.2 441.9H442.3V449.6H415.2zM343.8 449.3H353.1V456.9H343.8zM397.4 449.3H415.5V456.9H397.4z"/>
<path fill="#48ffb7" d="M397.4 288H406.6V295.6H397.4zM549.1 288H558.3V295.6H549.1zM397.4 295.3H406.6V303H397.4zM549.1 295.3H558.3V303H549.1zM549.1 302.7H558.3V310.3H549.1zM549.1 310H558.3V317.6H549.1zM450.9 383.3H460.1V390.9H450.9zM468.8 419.9H478V427.6H468.8zM468.8 427.3H478V434.9H468.8zM468.8 434.6H478V442.2H468.8zM468.8 441.9H478V449.6H468.8zM477.7 449.3H486.9V456.9H477.7zM486.6 456.6H504.8V464.2H486.6zM504.5 463.9H513.7V471.5H504.5zM513.4 471.2H531.5V478.9H513.4zM531.2 478.6H558.3V486.2H531.2z"/>
<path fill="#00e7ff" d="M406.3 288H415.5V295.6H406.3zM406.3 295.3H415.5V303H406.3zM406.3 302.7H415.5V310.3H406.3zM477.7 302.7H486.9V310.3H477.7zM406.3 310H415.5V317.6H406.3zM477.7 310H486.9V317.6H477.7zM540.2 310H549.4V317.6H540.2zM468.8 324.6H478V332.3H468.8zM459.8 332H469.1V339.6H459.8zM424.2 354H433.4V361.6H424.2zM549.1 361.3H558.3V368.9H549.1zM433.1 368.6H442.3V376.3H433.1zM450.9 376H469.1V383.6H450.9zM468.8 383.3H478V390.9H468.8zM477.7 419.9H486.9V427.6H477.7zM486.6 427.3H495.8V434.9H486.6zM504.5 441.9H513.7V449.6H504.5zM513.4 449.3H522.6V456.9H513.4zM549.1 456.6H558.3V464.2H549.1z"/>
<path fill="#0087ff" d="M415.2 288H424.5V295.6H415.2zM433.1 295.3H442.3V303H433.1zM531.2 310H540.5V317.6H531.2zM415.2 317.3H424.5V324.9H415.2zM477.7 324.6H486.9V332.3H477.7zM442 332H451.2V339.6H442zM468.8 339.3H478V346.9H468.8zM450.9 346.6H469.1V354.3H450.9zM433.1 354H442.3V361.6H433.1zM450.9 361.3H469.1V368.9H450.9zM540.2 361.3H549.4V368.9H540.2zM477.7 376H486.9V383.6H477.7zM477.7 383.3H486.9V390.9H477.7zM549.1 383.3H558.3V390.9H549.1zM486.6 412.6H495.8V420.2H486.6zM495.5 419.9H504.8V427.6H495.5zM513.4 434.6H522.6V442.2H513.4zM549.1 434.6H558.3V442.2H549.1zM531.2 441.9H549.4V449.6H531.2z"/>
<path fill="#0068ff" d="M424.2 288H433.4V295.6H424.2zM531.2 288H540.5V295.6H531.2zM531.2 295.3H540.5V303H531.2zM415.2 302.7H424.5V310.3H415.2zM415.2 310H424.5V317.6H415.2zM433.1 310H442.3V317.6H433.1zM531.2 324.6H540.5V332.3H531.2zM477.7 332H486.9V339.6H477.7zM531.2 332H540.5V339.6H531.2zM424.2 339.3H433.4V346.9H424.2zM433.1 346.6H451.2V354.3H433.1zM468.8 346.6H478V354.3H468.8zM442 354H469.1V361.6H442zM468.8 361.3H478V368.9H468.8zM477.7 368.6H486.9V376.3H477.7zM540.2 368.6H549.4V376.3H540.2zM549.1 397.9H558.3V405.6H549.1zM495.5 412.6H504.8V420.2H495.5zM549.1 427.3H558.3V434.9H549.1zM522.3 434.6H531.5V442.2H522.3z"/>
<path fill="#00a7ff" d="M433.1 288H442.3V295.6H433.1zM415.2 324.6H424.5V332.3H415.2zM468.8 332H478V339.6H468.8zM450.9 339.3H460.1V346.9H450.9zM424.2 346.6H433.4V354.3H424.2zM540.2 346.6H549.4V354.3H540.2zM540.2 354H549.4V361.6H540.2zM549.1 376H558.3V383.6H549.1zM477.7 397.9H486.9V405.6H477.7zM495.5 427.3H504.8V434.9H495.5zM504.5 434.6H513.7V442.2H504.5zM522.3 441.9H531.5V449.6H522.3zM549.1 441.9H558.3V449.6H549.1zM531.2 449.3H549.4V456.9H531.2z"/>
<path fill="#ff9700" d="M450.9 288H469.1V295.6H450.9zM450.9 295.3H469.1V303H450.9zM370.6 361.3H388.8V368.9H370.6zM326 368.6H335.2V376.3H326zM388.5 368.6H397.7V376.3H388.5zM424.2 397.9H433.4V405.6H424.2zM442 397.9H451.2V405.6H442zM424.2 405.3H433.4V412.9H424.2zM433.1 419.9H442.3V427.6H433.1zM424.2 427.3H433.4V434.9H424.2zM415.2 434.6H424.5V442.2H415.2zM343.8 441.9H353.1V449.6H343.8zM397.4 441.9H415.5V449.6H397.4z"/>
<path fill="#08fff7" d="M477.7 288H486.9V295.6H477.7zM406.3 317.3H415.5V324.9H406.3zM442 317.3H451.2V324.9H442zM549.1 346.6H558.3V354.3H549.1zM549.1 354H558.3V361.6H549.1zM424.2 361.3H433.4V368.9H424.2zM442 376H451.2V383.6H442zM468.8 390.6H478V398.2H468.8zM477.7 434.6H495.8V442.2H477.7zM495.5 441.9H504.8V449.6H495.5zM504.5 449.3H513.7V456.9H504.5zM513.4 456.6H522.6V464.2H513.4zM531.2 463.9H558.3V471.5H531.2z"/>
<path fill="#0028ff" d="M486.6 288H495.8V295.6H486.6zM522.3 288H531.5V295.6H522.3zM486.6 295.3H495.8V303H486.6zM522.3 295.3H531.5V303H522.3zM522.3 302.7H531.5V310.3H522.3zM424.2 310H433.4V317.6H424.2zM522.3 310H531.5V317.6H522.3zM424.2 317.3H433.4V324.9H424.2zM486.6 317.3H495.8V324.9H486.6zM424.2 324.6H433.4V332.3H424.2zM424.2 332H442.3V339.6H424.2zM477.7 354H486.9V361.6H477.7zM531.2 361.3H540.5V368.9H531.2zM486.6 376H495.8V383.6H486.6zM486.6 383.3H495.8V390.9H486.6zM540.2 383.3H549.4V390.9H540.2zM486.6 390.6H495.8V398.2H486.6zM486.6 397.9H504.8V405.6H486.6zM504.5 412.6H513.7V420.2H504.5zM522.3 427.3H531.5V434.9H522.3z"/>
<path fill="#0000c7" d="M495.5 288H504.8V295.6H495.5zM495.5 295.3H504.8V303H495.5zM495.5 302.7H504.8V310.3H495.5zM513.4 302.7H522.6V310.3H513.4zM495.5 310H504.8V317.6H495.5zM513.4 310H522.6V317.6H513.4zM495.5 317.3H504.8V324.9H495.5zM495.5 324.6H504.8V332.3H495.5zM495.5 332H504.8V339.6H495.5zM495.5 339.3H504.8V346.9H495.5zM495.5 346.6H504.8V354.3H495.5zM495.5 354H504.8V361.6H495.5zM495.5 361.3H504.8V368.9H495.5zM495.5 368.6H504.8V376.3H495.5zM522.3 368.6H531.5V376.3H522.3zM495.5 376H504.8V383.6H495.5zM522.3 376H531.5V383.6H522.3zM531.2 383.3H540.5V390.9H531.2zM504.5 390.6H513.7V398.2H504.5zM513.4 405.3H522.6V412.9H513.4zM522.3 412.6H531.5V420.2H522.3zM531.2 419.9H540.5V427.6H531.2z"/>
<path fill="#0000a7" d="M504.5 288H513.7V295.6H504.5zM504.5 295.3H513.7V303H504.5zM504.5 302.7H513.7V310.3H504.5zM504.5 310H513.7V317.6H504.5zM504.5 317.3H513.7V324.9H504.5zM504.5 324.6H522.6V332.3H504.5zM504.5 332H522.6V339.6H504.5zM504.5 339.3H522.6V346.9H504.5zM504.5 346.6H522.6V354.3H504.5zM504.5 354H522.6V361.6H504.5zM504.5 361.3H522.6V368.9H504.5zM504.5 368.6H522.6V376.3H504.5zM504.5 376H522.6V383.6H504.5zM513.4 383.3H522.6V390.9H513.4zM513.4 390.6H531.5V398.2H513.4zM513.4 397.9H540.5V405.6H513.4zM531.2 405.3H540.5V412.9H531.2z"/>
<path fill="#0000e7" d="M513.4 288H522.6V295.6H513.4zM522.3 346.6H531.5V354.3H522.3zM522.3 354H531.5V361.6H522.3zM531.2 376H540.5V383.6H531.2zM495.5 383.3H504.8V390.9H495.5zM504.5 397.9H513.7V405.6H504.5zM540.2 397.9H549.4V405.6H540.2zM540.2 405.3H549.4V412.9H540.2zM513.4 412.6H522.6V420.2H513.4zM540.2 412.6H549.4V420.2H540.2zM522.3 419.9H531.5V427.6H522.3zM540.2 419.9H549.4V427.6H540.2z"/>
<path fill="#00c7ff" d="M540.2 288H549.4V295.6H540.2zM540.2 295.3H549.4V303H540.2zM442 324.6H451.2V332.3H442zM540.2 324.6H549.4V332.3H540.2zM415.2 332H424.5V339.6H415.2zM450.9 332H460.1V339.6H450.9zM540.2 332H549.4V339.6H540.2zM442 368.6H451.2V376.3H442zM549.1 368.6H558.3V376.3H549.1zM468.8 376H478V383.6H468.8zM477.7 412.6H486.9V420.2H477.7zM486.6 419.9H495.8V427.6H486.6zM513.4 441.9H522.6V449.6H513.4zM522.3 449.3H531.5V456.9H522.3zM549.1 449.3H558.3V456.9H549.1z"/>
<path fill="#f7ff08" d="M352.8 295.3H362V303H352.8zM334.9 346.6H344.1V354.3H334.9zM343.8 471.2H433.4V478.9H343.8zM442 471.2H451.2V478.9H442z"/>
<path fill="#ffe700" d="M361.7 295.3H370.9V303H361.7zM379.5 295.3H388.8V303H379.5zM379.5 324.6H388.8V332.3H379.5zM361.7 339.3H370.9V346.9H361.7zM343.8 346.6H353.1V354.3H343.8zM388.5 346.6H397.7V354.3H388.5zM397.4 361.3H406.6V368.9H397.4zM442 434.6H451.2V442.2H442zM415.2 456.6H442.3V464.2H415.2z"/>
<path fill="#ffc700" d="M370.6 295.3H379.8V303H370.6zM370.6 346.6H388.8V354.3H370.6zM326 361.3H335.2V368.9H326zM433.1 405.3H442.3V412.9H433.1z"/>
<path fill="#0078ff" d="M415.2 295.3H424.5V303H415.2zM433.1 302.7H442.3V310.3H433.1zM531.2 302.7H540.5V310.3H531.2zM531.2 317.3H540.5V324.9H531.2zM442 339.3H451.2V346.9H442zM549.1 390.6H558.3V398.2H549.1zM504.5 427.3H513.7V434.9H504.5z"/>
<path fill="#0048ff" d="M424.2 295.3H433.4V303H424.2zM486.6 310H495.8V317.6H486.6zM433.1 317.3H442.3V324.9H433.1zM433.1 339.3H442.3V346.9H433.1zM477.7 339.3H486.9V346.9H477.7zM531.2 346.6H540.5V354.3H531.2zM468.8 354H478V361.6H468.8zM531.2 354H540.5V361.6H531.2zM477.7 361.3H486.9V368.9H477.7zM540.2 376H549.4V383.6H540.2zM495.5 405.3H504.8V412.9H495.5zM549.1 412.6H558.3V420.2H549.1zM504.5 419.9H513.7V427.6H504.5zM549.1 419.9H558.3V427.6H549.1zM513.4 427.3H522.6V434.9H513.4zM531.2 434.6H549.4V442.2H531.2z"/>
<path fill="#e7ff18" d="M442 295.3H451.2V303H442zM352.8 302.7H362V310.3H352.8zM352.8 310H362V317.6H352.8zM352.8 317.3H362V324.9H352.8zM352.8 324.6H362V332.3H352.8zM388.5 324.6H397.7V332.3H388.5zM352.8 332H362V339.6H352.8zM343.8 339.3H353.1V346.9H343.8zM397.4 346.6H406.6V354.3H397.4zM406.3 368.6H415.5V376.3H406.3zM442 390.6H451.2V398.2H442zM450.9 427.3H460.1V434.9H450.9zM326 456.6H335.2V464.2H326zM334.9 463.9H344.1V471.5H334.9zM343.8 478.6H433.4V486.2H343.8zM442 478.6H451.2V486.2H442z"/>
<path fill="#00f7ff" d="M477.7 295.3H486.9V303H477.7zM415.2 339.3H424.5V346.9H415.2zM477.7 427.3H486.9V434.9H477.7zM522.3 456.6H531.5V464.2H522.3z"/>
<path fill="#0000d7" d="M513.4 295.3H522.6V303H513.4zM522.3 361.3H531.5V368.9H522.3z"/>
<path fill="#58ffa7" d="M397.4 302.7H406.6V310.3H397.4zM468.8 449.3H478V456.9H468.8z"/>
<path fill="#0038ff" d="M424.2 302.7H433.4V310.3H424.2zM486.6 302.7H495.8V310.3H486.6zM433.1 324.6H442.3V332.3H433.1zM477.7 346.6H486.9V354.3H477.7z"/>
<path fill="#a7ff58" d="M442 302.7H451.2V310.3H442zM468.8 302.7H478V310.3H468.8zM450.9 310H469.1V317.6H450.9zM397.4 324.6H406.6V332.3H397.4zM334.9 332H344.1V339.6H334.9zM326 339.3H335.2V346.9H326zM406.3 346.6H415.5V354.3H406.3zM415.2 368.6H424.5V376.3H415.2zM450.9 390.6H460.1V398.2H450.9zM459.8 397.9H469.1V405.6H459.8zM459.8 405.3H469.1V412.9H459.8zM459.8 412.6H469.1V420.2H459.8zM459.8 419.9H469.1V427.6H459.8zM459.8 463.9H469.1V471.5H459.8zM326 478.6H335.2V486.2H326zM468.8 478.6H495.8V486.2H468.8z"/>
<path fill="#00d7ff" d="M540.2 302.7H549.4V310.3H540.2zM540.2 317.3H549.4V324.9H540.2zM495.5 434.6H504.8V442.2H495.5zM531.2 456.6H549.4V464.2H531.2z"/>
<path fill="#28ffd7" d="M442 310H451.2V317.6H442zM468.8 317.3H478V324.9H468.8zM450.9 324.6H469.1V332.3H450.9zM549.1 324.6H558.3V332.3H549.1zM549.1 332H558.3V339.6H549.1zM415.2 346.6H424.5V354.3H415.2zM433.1 376H442.3V383.6H433.1zM459.8 383.3H469.1V390.9H459.8zM468.8 397.9H478V405.6H468.8zM468.8 405.3H478V412.9H468.8zM477.7 441.9H495.8V449.6H477.7zM495.5 449.3H504.8V456.9H495.5zM504.5 456.6H513.7V464.2H504.5zM513.4 463.9H531.5V471.5H513.4zM531.2 471.2H558.3V478.9H531.2z"/>
<path fill="#d7ff28" d="M388.5 317.3H397.7V324.9H388.5zM397.4 339.3H406.6V346.9H397.4zM326 346.6H335.2V354.3H326zM406.3 361.3H415.5V368.9H406.3zM450.9 434.6H460.1V442.2H450.9zM334.9 471.2H344.1V478.9H334.9z"/>
<path fill="#00b7ff" d="M477.7 317.3H486.9V324.9H477.7zM459.8 339.3H469.1V346.9H459.8zM540.2 339.3H549.4V346.9H540.2zM433.1 361.3H442.3V368.9H433.1zM450.9 368.6H469.1V376.3H450.9zM477.7 405.3H486.9V412.9H477.7z"/>
<path fill="#0000b7" d="M513.4 317.3H522.6V324.9H513.4zM504.5 383.3H513.7V390.9H504.5zM522.3 383.3H531.5V390.9H522.3zM531.2 390.6H540.5V398.2H531.2zM522.3 405.3H531.5V412.9H522.3zM531.2 412.6H540.5V420.2H531.2z"/>
<path fill="#0018ff" d="M522.3 317.3H531.5V324.9H522.3zM486.6 324.6H495.8V332.3H486.6zM486.6 368.6H495.8V376.3H486.6zM540.2 427.3H549.4V434.9H540.2z"/>
<path fill="#38ffc7" d="M549.1 317.3H558.3V324.9H549.1zM406.3 324.6H415.5V332.3H406.3zM424.2 368.6H433.4V376.3H424.2zM468.8 412.6H478V420.2H468.8zM486.6 449.3H495.8V456.9H486.6z"/>
<path fill="#78ff87" d="M326 324.6H335.2V332.3H326zM433.1 383.3H451.2V390.9H433.1zM495.5 471.2H504.8V478.9H495.5z"/>
<path fill="#97ff68" d="M334.9 324.6H344.1V332.3H334.9zM459.8 427.3H469.1V434.9H459.8zM459.8 456.6H469.1V464.2H459.8zM468.8 471.2H486.9V478.9H468.8z"/>
<path fill="#0008ff" d="M522.3 324.6H531.5V332.3H522.3zM486.6 332H495.8V339.6H486.6zM522.3 332H531.5V339.6H522.3zM486.6 339.3H495.8V346.9H486.6zM486.6 346.6H495.8V354.3H486.6zM486.6 354H495.8V361.6H486.6zM486.6 361.3H495.8V368.9H486.6zM531.2 368.6H540.5V376.3H531.2zM495.5 390.6H504.8V398.2H495.5zM540.2 390.6H549.4V398.2H540.2zM504.5 405.3H513.7V412.9H504.5zM513.4 419.9H522.6V427.6H513.4zM531.2 427.3H540.5V434.9H531.2z"/>
<path fill="#0000f7" d="M522.3 339.3H531.5V346.9H522.3z"/>
<path fill="#0058ff" d="M531.2 339.3H540.5V346.9H531.2zM486.6 405.3H495.8V412.9H486.6zM549.1 405.3H558.3V412.9H549.1z"/>
<path fill="#18ffe7" d="M549.1 339.3H558.3V346.9H549.1z"/>
<path fill="#ffa700" d="M334.9 361.3H344.1V368.9H334.9zM442 405.3H451.2V412.9H442zM433.1 427.3H442.3V434.9H433.1zM424.2 434.6H433.4V442.2H424.2zM352.8 449.3H397.7V456.9H352.8z"/>
<path fill="#ff8700" d="M343.8 361.3H370.9V368.9H343.8zM424.2 412.6H433.4V420.2H424.2zM326 427.3H335.2V434.9H326zM334.9 434.6H344.1V442.2H334.9z"/>
<path fill="#0097ff" d="M442 361.3H451.2V368.9H442zM468.8 368.6H478V376.3H468.8zM477.7 390.6H486.9V398.2H477.7z"/>
<path fill="#ff7800" d="M334.9 368.6H344.1V376.3H334.9zM388.5 376H397.7V383.6H388.5zM397.4 383.3H406.6V390.9H397.4zM415.2 397.9H424.5V405.6H415.2zM415.2 405.3H424.5V412.9H415.2zM424.2 419.9H433.4V427.6H424.2zM415.2 427.3H424.5V434.9H415.2zM397.4 434.6H415.5V442.2H397.4zM352.8 441.9H397.7V449.6H352.8z"/>
<path fill="#ff5800" d="M343.8 368.6H370.9V376.3H343.8zM326 376H335.2V383.6H326zM388.5 383.3H397.7V390.9H388.5zM326 419.9H335.2V427.6H326zM415.2 419.9H424.5V427.6H415.2zM334.9 427.3H344.1V434.9H334.9zM406.3 427.3H415.5V434.9H406.3zM352.8 434.6H397.7V442.2H352.8z"/>
<path fill="#ff6800" d="M370.6 368.6H388.8V376.3H370.6zM406.3 390.6H415.5V398.2H406.3zM415.2 412.6H424.5V420.2H415.2zM343.8 434.6H353.1V442.2H343.8z"/>
<path fill="#ff3800" d="M334.9 376H344.1V383.6H334.9zM370.6 376H388.8V383.6H370.6zM326 390.6H335.2V398.2H326zM397.4 390.6H406.6V398.2H397.4zM326 405.3H335.2V412.9H326zM406.3 412.6H415.5V420.2H406.3zM406.3 419.9H415.5V427.6H406.3zM343.8 427.3H353.1V434.9H343.8zM388.5 427.3H397.7V434.9H388.5z"/>
<path fill="#ff1800" d="M343.8 376H370.9V383.6H343.8zM343.8 383.3H370.9V390.9H343.8zM334.9 390.6H344.1V398.2H334.9zM370.6 390.6H388.8V398.2H370.6zM326 397.9H335.2V405.6H326zM406.3 397.9H415.5V405.6H406.3zM334.9 412.6H344.1V420.2H334.9zM388.5 412.6H406.6V420.2H388.5zM334.9 419.9H344.1V427.6H334.9zM388.5 419.9H406.6V427.6H388.5z"/>
<path fill="#ff4800" d="M326 383.3H335.2V390.9H326zM326 412.6H335.2V420.2H326zM397.4 427.3H406.6V434.9H397.4z"/>
<path fill="#ff2800" d="M334.9 383.3H344.1V390.9H334.9zM370.6 383.3H388.8V390.9H370.6zM388.5 390.6H397.7V398.2H388.5zM406.3 405.3H415.5V412.9H406.3zM352.8 427.3H388.8V434.9H352.8z"/>
<path fill="#b7ff48" d="M424.2 383.3H433.4V390.9H424.2zM326 471.2H335.2V478.9H326zM459.8 471.2H469.1V478.9H459.8z"/>
<path fill="#ff0800" d="M343.8 390.6H370.9V398.2H343.8zM334.9 405.3H344.1V412.9H334.9zM388.5 405.3H406.6V412.9H388.5z"/>
<path fill="#f70000" d="M334.9 397.9H406.6V405.6H334.9zM343.8 405.3H388.8V412.9H343.8zM343.8 412.6H388.8V420.2H343.8zM343.8 419.9H388.8V427.6H343.8z"/>
</g>
<g clip-path="url(#c4)">
<path d="M326.7 281.7L342.6 285.2L337.7 293.7z" fill="#000"/>
<path d="M362.3 281.7L378.2 285.2L373.3 293.7z" fill="#000"/>
<path d="M362.3 303.7L378.2 307.2L373.3 315.7z" fill="#000"/>
<path d="M448.2 295.2L453.1 310.7L443.3 310.7z" fill="#000"/>
<path d="M570.4 319.4L554.3 317.3L558.4 308.4z" fill="#000"/>
<path d="M361.6 327L377.7 329.1L373.6 338z" fill="#000"/>
<path d="M570.4 341.4L554.3 339.3L558.4 330.4z" fill="#000"/>
<path d="M326.7 347.7L342.6 351.2L337.7 359.7z" fill="#000"/>
<path d="M324.4 377.6L340.1 373.3L339.7 383z" fill="#000"/>
<path d="M360 378.2L375.5 373.3L375.5 383.1z" fill="#000"/>
<path d="M395.6 378.2L411.1 373.3L411.1 383.1z" fill="#000"/>
<path d="M324.4 400.2L339.9 395.3L339.9 405.1z" fill="#000"/>
<path d="M360 400.2L375.5 395.3L375.5 405.1z" fill="#000"/>
<path d="M395.9 397.2L412 395.1L410.3 404.8z" fill="#000"/>
<path d="M433.5 391.7L449.4 395.2L444.5 403.7z" fill="#000"/>
<path d="M324.4 422.2L339.9 417.3L339.9 427.1z" fill="#000"/>
<path d="M360 422.2L375.5 417.3L375.5 427.1z" fill="#000"/>
<path d="M396.2 417.8L412.4 417.1L409.9 426.5z" fill="#000"/>
<path d="M435.2 411.3L450.2 417.5L443.9 425z" fill="#000"/>
<path d="M396.6 438.4L412.9 439.1L409.5 448.3z" fill="#000"/>
<path d="M438.4 430.3L451.4 440.2L443.3 445.8z" fill="#000"/>
<path d="M324.4 466.2L339.9 461.3L339.9 471.1z" fill="#000"/>
<path d="M360.1 464.7L375.9 461.2L375.1 471z" fill="#000"/>
<path d="M400.6 454.2L415 461.7L408.1 468.6z" fill="#000"/>
<path d="M439.7 451.5L451.7 462.5L443.2 467.4z" fill="#000"/>
<path d="M483.8 449.2L488.7 464.7L478.9 464.7z" fill="#000"/>
<path d="M326 288L353.9 288L354.6 291L355.2 294L355.9 297L356.6 300L357.3 303L358.1 306L358.8 309L359.6 312L360.4 315L361.1 318L362 321L362.8 324L363.6 327L364.5 330L365.3 333L366.2 336L367.1 339L368.1 342L369 345L370 348L371 351L372 354L373 357L374 360L375.1 363L376.2 366L377.3 369L378.4 372L379.6 375L380.7 378L381.9 381L383.2 384L384.4 387L385.7 390L387 393L388.3 396L389.6 399L391 402L392.4 405L393.8 408L395.3 411L396.8 414L398.3 417L399.9 420L401.4 423L403 426L404.7 429L406.4 432L408.1 435L409.8 438L411.6 441L413.4 444L415.3 447L417.1 450L419.1 453L421 456L423 459L425.1 462L427.1 465L429.3 468L431.4 471L433.6 474L435.9 477L436.3 477.5L447.7 477.5L448.1 477L450.4 474L452.6 471L454.7 468L456.9 465L458.9 462L461 459L463 456L464.9 453L466.9 450L468.7 447L470.6 444L472.4 441L474.2 438L475.9 435L477.6 432L479.3 429L481 426L482.6 423L484.1 420L485.7 417L487.2 414L488.7 411L490.2 408L491.6 405L493 402L494.4 399L495.7 396L497 393L498.3 390L499.6 387L500.8 384L502.1 381L503.3 378L504.4 375L505.6 372L506.7 369L507.8 366L508.9 363L510 360L511 357L512 354L513 351L514 348L515 345L515.9 342L516.9 339L517.8 336L518.7 333L519.5 330L520.4 327L521.2 324L522 321L522.9 318L523.6 315L524.4 312L525.2 309L525.9 306L526.7 303L527.4 300L528.1 297L528.8 294L529.4 291L530.1 288L558 288L558 485.9L326 485.9z" fill="#fff" fill-opacity="0.5"/>
<path d="M353.9 288L354.6 291L355.2 294L355.9 297L356.6 300L357.3 303L358.1 306L358.8 309L359.6 312L360.4 315L361.1 318L362 321L362.8 324L363.6 327L364.5 330L365.3 333L366.2 336L367.1 339L368.1 342L369 345L370 348L371 351L372 354L373 357L374 360L375.1 363L376.2 366L377.3 369L378.4 372L379.6 375L380.7 378L381.9 381L383.2 384L384.4 387L385.7 390L387 393L388.3 396L389.6 399L391 402L392.4 405L393.8 408L395.3 411L396.8 414L398.3 417L399.9 420L401.4 423L403 426L404.7 429L406.4 432L408.1 435L409.8 438L411.6 441L413.4 444L415.3 447L417.1 450L419.1 453L421 456L423 459L425.1 462L427.1 465L429.3 468L431.4 471L433.6 474L435.9 477L436.3 477.5L447.7 477.5L448.1 477L450.4 474L452.6 471L454.7 468L456.9 465L458.9 462L461 459L463 456L464.9 453L466.9 450L468.7 447L470.6 444L472.4 441L474.2 438L475.9 435L477.6 432L479.3 429L481 426L482.6 423L484.1 420L485.7 417L487.2 414L488.7 411L490.2 408L491.6 405L493 402L494.4 399L495.7 396L497 393L498.3 390L499.6 387L500.8 384L502.1 381L503.3 378L504.4 375L505.6 372L506.7 369L507.8 366L508.9 363L510 360L511 357L512 354L513 351L514 348L515 345L515.9 342L516.9 339L517.8 336L518.7 333L519.5 330L520.4 327L521.2 324L522 321L522.9 318L523.6 315L524.4 312L525.2 309L525.9 306L526.7 303L527.4 300L528.1 297L528.8 294L529.4 291L530.1 288" stroke="#000" stroke-width="0.9" fill="none"/>
<path d="M356.1 298.7L340.1 289.4M326.7 281.7L342.6 285.2L337.7 293.7z" stroke="#000" stroke-width="0.9" fill="none" stroke-linejoin="round"/>
<path d="M391.7 298.7L375.7 289.4M362.3 281.7L378.2 285.2L373.3 293.7z" stroke="#000" stroke-width="0.9" fill="none" stroke-linejoin="round"/>
<path d="M391.7 320.7L375.7 311.4M362.3 303.7L378.2 307.2L373.3 315.7z" stroke="#000" stroke-width="0.9" fill="none" stroke-linejoin="round"/>
<path d="M448.2 329.2L448.2 310.7M448.2 295.2L453.1 310.7L443.3 310.7z" stroke="#000" stroke-width="0.9" fill="none" stroke-linejoin="round"/>
<path d="M539.6 305L556.4 312.8M570.4 319.4L554.3 317.3L558.4 308.4z" stroke="#000" stroke-width="0.9" fill="none" stroke-linejoin="round"/>
<path d="M392.4 341.4L375.6 333.6M361.6 327L377.7 329.1L373.6 338z" stroke="#000" stroke-width="0.9" fill="none" stroke-linejoin="round"/>
<path d="M539.6 327L556.4 334.8M570.4 341.4L554.3 339.3L558.4 330.4z" stroke="#000" stroke-width="0.9" fill="none" stroke-linejoin="round"/>
<path d="M356.1 364.7L340.1 355.4M326.7 347.7L342.6 351.2L337.7 359.7z" stroke="#000" stroke-width="0.9" fill="none" stroke-linejoin="round"/>
<path d="M358.4 378.8L339.9 378.1M324.4 377.6L340.1 373.3L339.7 383z" stroke="#000" stroke-width="0.9" fill="none" stroke-linejoin="round"/>
<path d="M394 378.2L375.5 378.2M360 378.2L375.5 373.3L375.5 383.1z" stroke="#000" stroke-width="0.9" fill="none" stroke-linejoin="round"/>
<path d="M429.6 378.2L411.1 378.2M395.6 378.2L411.1 373.3L411.1 383.1z" stroke="#000" stroke-width="0.9" fill="none" stroke-linejoin="round"/>
<path d="M358.4 400.2L339.9 400.2M324.4 400.2L339.9 395.3L339.9 405.1z" stroke="#000" stroke-width="0.9" fill="none" stroke-linejoin="round"/>
<path d="M394 400.2L375.5 400.2M360 400.2L375.5 395.3L375.5 405.1z" stroke="#000" stroke-width="0.9" fill="none" stroke-linejoin="round"/>
<path d="M429.3 403.2L411.1 399.9M395.9 397.2L412 395.1L410.3 404.8z" stroke="#000" stroke-width="0.9" fill="none" stroke-linejoin="round"/>
<path d="M462.9 408.7L446.9 399.4M433.5 391.7L449.4 395.2L444.5 403.7z" stroke="#000" stroke-width="0.9" fill="none" stroke-linejoin="round"/>
<path d="M358.4 422.2L339.9 422.2M324.4 422.2L339.9 417.3L339.9 427.1z" stroke="#000" stroke-width="0.9" fill="none" stroke-linejoin="round"/>
<path d="M394 422.2L375.5 422.2M360 422.2L375.5 417.3L375.5 427.1z" stroke="#000" stroke-width="0.9" fill="none" stroke-linejoin="round"/>
<path d="M429 426.6L411.2 421.8M396.2 417.8L412.4 417.1L409.9 426.5z" stroke="#000" stroke-width="0.9" fill="none" stroke-linejoin="round"/>
<path d="M461.2 433.1L447.1 421.2M435.2 411.3L450.2 417.5L443.9 425z" stroke="#000" stroke-width="0.9" fill="none" stroke-linejoin="round"/>
<path d="M428.6 450L411.2 443.7M396.6 438.4L412.9 439.1L409.5 448.3z" stroke="#000" stroke-width="0.9" fill="none" stroke-linejoin="round"/>
<path d="M458 458.1L447.3 443M438.4 430.3L451.4 440.2L443.3 445.8z" stroke="#000" stroke-width="0.9" fill="none" stroke-linejoin="round"/>
<path d="M358.4 466.2L339.9 466.2M324.4 466.2L339.9 461.3L339.9 471.1z" stroke="#000" stroke-width="0.9" fill="none" stroke-linejoin="round"/>
<path d="M393.9 467.7L375.5 466.1M360.1 464.7L375.9 461.2L375.1 471z" stroke="#000" stroke-width="0.9" fill="none" stroke-linejoin="round"/>
<path d="M424.6 478.2L411.5 465.1M400.6 454.2L415 461.7L408.1 468.6z" stroke="#000" stroke-width="0.9" fill="none" stroke-linejoin="round"/>
<path d="M456.7 480.9L447.5 464.9M439.7 451.5L451.7 462.5L443.2 467.4z" stroke="#000" stroke-width="0.9" fill="none" stroke-linejoin="round"/>
<path d="M483.8 483.2L483.8 464.7M483.8 449.2L488.7 464.7L478.9 464.7z" stroke="#000" stroke-width="0.9" fill="none" stroke-linejoin="round"/>
<path transform="translate(326 288)" d="M3.0 82.0C3.5 81.5 3.9 80.6 6.2 78.8C8.5 77.0 12.8 73.4 16.6 71.3C20.4 69.2 24.9 67.3 29.0 66.3C33.1 65.2 37.4 64.7 41.5 65.0C45.6 65.3 50.1 66.5 53.9 68.4C57.7 70.4 60.8 73.6 64.3 76.7C67.8 79.8 70.8 83.9 74.6 87.0C78.4 90.1 82.5 93.0 87.0 95.4C91.5 97.8 97.1 99.7 101.6 101.6C106.1 103.5 110.5 104.9 114.0 107.0C117.5 109.1 120.6 111.1 122.3 114.0C124.0 116.9 124.8 121.0 124.4 124.4C124.1 127.9 122.6 131.6 120.2 134.7C117.8 137.8 114.0 140.2 109.9 143.0C105.8 145.8 100.6 148.9 95.4 151.3C90.2 153.7 84.3 155.9 78.8 157.5C73.3 159.1 67.7 160.3 62.2 160.9C56.7 161.5 51.1 161.6 45.6 160.9C40.1 160.2 34.2 158.6 29.0 156.7C23.8 154.8 18.5 152.3 14.5 149.3C10.5 146.3 7.1 142.4 5.0 138.9C2.9 135.4 2.5 130.2 2.0 128.5" stroke="#000" stroke-width="3.8" fill="none" stroke-linejoin="round" stroke-linecap="round"/>
<path d="M326 395.1H562" stroke="#000" stroke-width="4.6" stroke-dasharray="23.5 15.2" stroke-dashoffset="17.5"/>
<path d="M326 442.8H562" stroke="#000" stroke-width="4.6" stroke-dasharray="23.5 15.2" stroke-dashoffset="34.2"/>
</g>
<rect x="325.5" y="409.8" width="4.3" height="23" fill="#000"/>
<path d="M558.2 288V485.9" stroke="#000" stroke-width="1.3"/>
<rect x="555.2" y="413" width="3.6" height="24" fill="#000"/>
<path d="M325.5 288V486.9" stroke="#000" stroke-width="1"/>
<text x="318" y="294.9" text-anchor="end" font-size="19">4</text>
<text x="318" y="384.7" text-anchor="end" font-size="19">8</text>
<text x="324.3" y="399.1" text-anchor="end" font-size="19" font-weight="bold">9</text>
<text x="326" y="448.7" text-anchor="end" font-size="19" font-weight="bold">13</text>
<text x="317.5" y="476.3" text-anchor="end" font-size="19">16</text>
<text x="329.4" y="511.7" text-anchor="middle" font-size="19">1984</text>
<text x="382.7" y="511.7" text-anchor="middle" font-size="19">1990</text>
<text x="436" y="511.7" text-anchor="middle" font-size="19">1996</text>
<text x="489.3" y="511.7" text-anchor="middle" font-size="19">2002</text>
<text x="542.6" y="511.7" text-anchor="middle" font-size="19">2008</text>
<text x="438.5" y="275.2" text-anchor="middle" font-size="19" textLength="45.9">reg 4</text>
<g shape-rendering="crispEdges">
<path fill="#ffd700" d="M55 540H64.2V547.6H55zM179.9 576.4H189.1V583.9H179.9zM233.5 576.4H260.5V583.9H233.5zM269.2 576.4H278.4V583.9H269.2zM171 583.6H180.2V591.2H171zM171 590.9H180.2V598.5H171zM171 598.2H180.2V605.7H171zM171 605.4H180.2V613H171zM171 612.7H180.2V620.3H171zM171 620H180.2V627.5H171zM171 627.2H180.2V634.8H171zM171 634.5H180.2V642.1H171zM171 641.8H180.2V649.4H171zM171 649.1H180.2V656.6H171zM179.9 663.6H189.1V671.2H179.9zM179.9 670.9H189.1V678.4H179.9zM278.1 678.1H287.3V685.7H278.1zM188.8 692.7H207V700.2H188.8zM251.3 692.7H278.4V700.2H251.3zM206.7 699.9H251.6V707.5H206.7z"/>
<path fill="#e7ff18" d="M63.9 540H73.1V547.6H63.9zM55 554.5H64.2V562.1H55zM179.9 561.8H189.1V569.4H179.9zM171 569.1H180.2V576.7H171zM206.7 569.1H215.9V576.7H206.7zM260.2 569.1H269.5V576.7H260.2zM278.1 569.1H287.3V576.7H278.1zM162.1 641.8H171.3V649.4H162.1zM162.1 685.4H180.2V693H162.1zM162.1 692.7H180.2V700.2H162.1zM179.9 707.2H189.1V714.8H179.9zM278.1 707.2H287.3V714.8H278.1zM179.9 714.5H189.1V722.1H179.9zM260.2 714.5H287.3V722.1H260.2zM179.9 721.8H189.1V729.3H179.9zM260.2 721.8H278.4V729.3H260.2zM179.9 729H278.4V736.6H179.9z"/>
<path fill="#a7ff58" d="M72.8 540H99.9V547.6H72.8zM278.1 540H287.3V547.6H278.1zM278.1 547.3H287.3V554.8H278.1zM269.2 554.5H278.4V562.1H269.2zM63.9 561.8H73.1V569.4H63.9zM197.8 561.8H207V569.4H197.8zM260.2 561.8H269.5V569.4H260.2zM162.1 620H171.3V627.5H162.1zM153.2 627.2H162.4V634.8H153.2zM153.2 634.5H162.4V642.1H153.2zM144.2 649.1H153.5V656.6H144.2zM144.2 656.3H153.5V663.9H144.2zM144.2 663.6H153.5V671.2H144.2zM144.2 670.9H153.5V678.4H144.2zM144.2 678.1H153.5V685.7H144.2zM144.2 685.4H153.5V693H144.2zM144.2 692.7H153.5V700.2H144.2zM153.2 707.2H162.4V714.8H153.2zM153.2 714.5H162.4V722.1H153.2zM153.2 721.8H162.4V729.3H153.2zM144.2 729H162.4V736.6H144.2z"/>
<path fill="#87ff78" d="M99.6 540H108.8V547.6H99.6zM269.2 540H278.4V547.6H269.2zM99.6 547.3H108.8V554.8H99.6zM179.9 547.3H189.1V554.8H179.9zM72.8 554.5H108.8V562.1H72.8zM188.8 554.5H198.1V562.1H188.8zM260.2 554.5H269.5V562.1H260.2zM72.8 561.8H108.8V569.4H72.8zM206.7 561.8H215.9V569.4H206.7zM233.5 561.8H260.5V569.4H233.5zM55 569.1H73.1V576.7H55zM99.6 569.1H108.8V576.7H99.6zM99.6 576.4H108.8V583.9H99.6zM99.6 583.6H108.8V591.2H99.6zM162.1 612.7H171.3V620.3H162.1zM144.2 641.8H153.5V649.4H144.2zM126.4 649.1H144.5V656.6H126.4zM135.3 656.3H144.5V663.9H135.3zM135.3 663.6H144.5V671.2H135.3zM135.3 670.9H144.5V678.4H135.3zM135.3 678.1H144.5V685.7H135.3zM135.3 685.4H144.5V693H135.3zM135.3 692.7H144.5V700.2H135.3zM135.3 699.9H144.5V707.5H135.3zM135.3 707.2H153.5V714.8H135.3zM135.3 714.5H153.5V722.1H135.3zM135.3 721.8H144.5V729.3H135.3zM126.4 729H144.5V736.6H126.4z"/>
<path fill="#68ff97" d="M108.5 540H117.8V547.6H108.5zM179.9 540H189.1V547.6H179.9zM108.5 547.3H117.8V554.8H108.5zM171 547.3H180.2V554.8H171zM260.2 547.3H269.5V554.8H260.2zM108.5 554.5H117.8V562.1H108.5zM197.8 554.5H207V562.1H197.8zM251.3 554.5H260.5V562.1H251.3zM108.5 561.8H117.8V569.4H108.5zM215.6 561.8H233.8V569.4H215.6zM72.8 569.1H82.1V576.7H72.8zM108.5 569.1H117.8V576.7H108.5zM63.9 576.4H73.1V583.9H63.9zM81.8 576.4H99.9V583.9H81.8zM108.5 576.4H117.8V583.9H108.5zM81.8 583.6H99.9V591.2H81.8zM108.5 583.6H117.8V591.2H108.5zM108.5 590.9H117.8V598.5H108.5zM99.6 598.2H117.8V605.7H99.6zM99.6 605.4H117.8V613H99.6zM162.1 605.4H171.3V613H162.1zM108.5 612.7H117.8V620.3H108.5zM108.5 620H117.8V627.5H108.5zM153.2 620H162.4V627.5H153.2zM108.5 627.2H126.7V634.8H108.5zM144.2 627.2H153.5V634.8H144.2zM117.5 634.5H126.7V642.1H117.5zM117.5 641.8H144.5V649.4H117.5zM117.5 649.1H126.7V656.6H117.5zM126.4 663.6H135.6V671.2H126.4zM126.4 670.9H135.6V678.4H126.4zM126.4 678.1H135.6V685.7H126.4zM126.4 685.4H135.6V693H126.4zM126.4 692.7H135.6V700.2H126.4zM126.4 699.9H135.6V707.5H126.4zM126.4 707.2H135.6V714.8H126.4zM117.5 714.5H135.6V722.1H117.5zM117.5 721.8H126.7V729.3H117.5zM108.5 729H126.7V736.6H108.5z"/>
<path fill="#28ffd7" d="M117.5 540H126.7V547.6H117.5zM188.8 540H198.1V547.6H188.8zM251.3 540H260.5V547.6H251.3zM117.5 547.3H126.7V554.8H117.5zM197.8 547.3H207V554.8H197.8zM242.4 547.3H251.6V554.8H242.4zM117.5 554.5H126.7V562.1H117.5zM206.7 554.5H215.9V562.1H206.7zM117.5 561.8H126.7V569.4H117.5zM117.5 569.1H126.7V576.7H117.5zM55 583.6H64.2V591.2H55zM72.8 590.9H82.1V598.5H72.8zM162.1 598.2H171.3V605.7H162.1zM81.8 605.4H91V613H81.8zM81.8 612.7H91V620.3H81.8zM81.8 620H99.9V627.5H81.8zM126.4 620H153.5V627.5H126.4zM81.8 627.2H99.9V634.8H81.8zM81.8 634.5H99.9V642.1H81.8zM81.8 641.8H108.8V649.4H81.8zM81.8 649.1H108.8V656.6H81.8zM81.8 656.3H108.8V663.9H81.8zM81.8 663.6H108.8V671.2H81.8zM81.8 670.9H108.8V678.4H81.8zM81.8 678.1H108.8V685.7H81.8zM81.8 685.4H108.8V693H81.8zM81.8 692.7H108.8V700.2H81.8zM81.8 699.9H108.8V707.5H81.8zM81.8 707.2H99.9V714.8H81.8zM81.8 714.5H99.9V722.1H81.8zM81.8 721.8H91V729.3H81.8zM72.8 729H91V736.6H72.8z"/>
<path fill="#00c7ff" d="M126.4 540H135.6V547.6H126.4zM233.5 540H242.7V547.6H233.5zM126.4 547.3H135.6V554.8H126.4zM162.1 583.6H171.3V591.2H162.1zM135.3 598.2H144.5V605.7H135.3zM153.2 598.2H162.4V605.7H153.2zM63.9 605.4H73.1V613H63.9zM144.2 605.4H153.5V613H144.2zM63.9 612.7H73.1V620.3H63.9zM63.9 620H73.1V627.5H63.9zM63.9 627.2H73.1V634.8H63.9zM63.9 634.5H73.1V642.1H63.9zM55 649.1H64.2V656.6H55zM55 656.3H64.2V663.9H55zM55 663.6H64.2V671.2H55zM55 670.9H64.2V678.4H55zM55 678.1H64.2V685.7H55zM55 685.4H64.2V693H55zM55 692.7H64.2V700.2H55zM55 699.9H64.2V707.5H55z"/>
<path fill="#0068ff" d="M135.3 540H144.5V547.6H135.3zM224.5 540H233.8V547.6H224.5zM135.3 547.3H144.5V554.8H135.3zM135.3 554.5H144.5V562.1H135.3zM135.3 561.8H144.5V569.4H135.3zM55 605.4H64.2V613H55zM55 612.7H64.2V620.3H55z"/>
<path fill="#0008ff" d="M144.2 540H162.4V547.6H144.2zM144.2 547.3H162.4V554.8H144.2zM144.2 554.5H162.4V562.1H144.2zM144.2 561.8H162.4V569.4H144.2zM144.2 569.1H153.5V576.7H144.2z"/>
<path fill="#0087ff" d="M162.1 540H171.3V547.6H162.1zM206.7 540H215.9V547.6H206.7zM162.1 547.3H171.3V554.8H162.1zM162.1 554.5H171.3V562.1H162.1zM162.1 561.8H171.3V569.4H162.1zM135.3 576.4H144.5V583.9H135.3zM153.2 590.9H162.4V598.5H153.2zM144.2 598.2H153.5V605.7H144.2zM55 627.2H64.2V634.8H55z"/>
<path fill="#48ffb7" d="M171 540H180.2V547.6H171zM260.2 540H269.5V547.6H260.2zM251.3 547.3H260.5V554.8H251.3zM233.5 554.5H242.7V562.1H233.5zM63.9 583.6H82.1V591.2H63.9zM117.5 583.6H126.7V591.2H117.5zM81.8 590.9H91V598.5H81.8zM117.5 590.9H126.7V598.5H117.5zM90.7 598.2H99.9V605.7H90.7zM117.5 598.2H126.7V605.7H117.5zM90.7 605.4H99.9V613H90.7zM117.5 605.4H126.7V613H117.5zM117.5 612.7H126.7V620.3H117.5zM99.6 620H108.8V627.5H99.6zM99.6 627.2H108.8V634.8H99.6zM126.4 627.2H144.5V634.8H126.4zM108.5 641.8H117.8V649.4H108.5zM108.5 649.1H117.8V656.6H108.5zM108.5 656.3H117.8V663.9H108.5zM108.5 663.6H126.7V671.2H108.5zM108.5 670.9H126.7V678.4H108.5zM108.5 678.1H126.7V685.7H108.5zM108.5 685.4H126.7V693H108.5zM108.5 692.7H126.7V700.2H108.5zM108.5 699.9H126.7V707.5H108.5zM108.5 707.2H117.8V714.8H108.5zM99.6 714.5H117.8V722.1H99.6zM99.6 721.8H108.8V729.3H99.6zM90.7 729H108.8V736.6H90.7z"/>
<path fill="#00e7ff" d="M197.8 540H207V547.6H197.8zM126.4 561.8H135.6V569.4H126.4zM126.4 569.1H135.6V576.7H126.4zM55 590.9H64.2V598.5H55zM63.9 598.2H73.1V605.7H63.9zM135.3 605.4H144.5V613H135.3zM63.9 649.1H73.1V656.6H63.9zM63.9 656.3H73.1V663.9H63.9zM63.9 663.6H73.1V671.2H63.9zM63.9 670.9H73.1V678.4H63.9zM63.9 678.1H73.1V685.7H63.9zM63.9 685.4H73.1V693H63.9zM63.9 692.7H73.1V700.2H63.9zM63.9 699.9H73.1V707.5H63.9zM55 714.5H64.2V722.1H55zM55 721.8H64.2V729.3H55zM55 729H64.2V736.6H55z"/>
<path fill="#0048ff" d="M215.6 540H224.8V547.6H215.6zM153.2 583.6H162.4V591.2H153.2z"/>
<path fill="#08fff7" d="M242.4 540H251.6V547.6H242.4zM233.5 547.3H242.7V554.8H233.5zM215.6 554.5H233.8V562.1H215.6zM126.4 583.6H135.6V591.2H126.4zM126.4 590.9H135.6V598.5H126.4zM126.4 598.2H135.6V605.7H126.4zM72.8 605.4H82.1V613H72.8zM126.4 605.4H135.6V613H126.4zM153.2 605.4H162.4V613H153.2zM72.8 612.7H82.1V620.3H72.8zM135.3 612.7H144.5V620.3H135.3zM72.8 620H82.1V627.5H72.8zM72.8 627.2H82.1V634.8H72.8zM72.8 634.5H82.1V642.1H72.8zM72.8 641.8H82.1V649.4H72.8zM72.8 649.1H82.1V656.6H72.8zM72.8 656.3H82.1V663.9H72.8zM72.8 663.6H82.1V671.2H72.8zM72.8 670.9H82.1V678.4H72.8zM72.8 678.1H82.1V685.7H72.8zM72.8 685.4H82.1V693H72.8zM72.8 692.7H82.1V700.2H72.8zM72.8 699.9H82.1V707.5H72.8zM72.8 707.2H82.1V714.8H72.8zM63.9 714.5H82.1V722.1H63.9zM63.9 721.8H73.1V729.3H63.9zM63.9 729H73.1V736.6H63.9z"/>
<path fill="#fff700" d="M55 547.3H64.2V554.8H55zM179.9 569.1H207V576.7H179.9zM171 576.4H180.2V583.9H171zM162.1 649.1H171.3V656.6H162.1zM162.1 656.3H171.3V663.9H162.1zM162.1 663.6H180.2V671.2H162.1zM162.1 670.9H180.2V678.4H162.1zM179.9 685.4H189.1V693H179.9zM179.9 692.7H189.1V700.2H179.9zM278.1 692.7H287.3V700.2H278.1zM260.2 699.9H278.4V707.5H260.2zM188.8 707.2H207V714.8H188.8zM251.3 707.2H260.5V714.8H251.3zM188.8 714.5H260.5V722.1H188.8z"/>
<path fill="#c7ff38" d="M63.9 547.3H73.1V554.8H63.9zM55 561.8H64.2V569.4H55zM171 561.8H180.2V569.4H171zM188.8 561.8H198.1V569.4H188.8zM269.2 561.8H287.3V569.4H269.2zM224.5 569.1H233.8V576.7H224.5zM162.1 627.2H171.3V634.8H162.1zM153.2 649.1H162.4V656.6H153.2zM153.2 656.3H162.4V663.9H153.2zM153.2 663.6H162.4V671.2H153.2zM153.2 670.9H162.4V678.4H153.2zM153.2 678.1H162.4V685.7H153.2zM153.2 685.4H162.4V693H153.2zM153.2 692.7H162.4V700.2H153.2zM162.1 707.2H180.2V714.8H162.1zM162.1 714.5H180.2V722.1H162.1zM162.1 721.8H180.2V729.3H162.1zM162.1 729H180.2V736.6H162.1zM278.1 729H287.3V736.6H278.1z"/>
<path fill="#97ff68" d="M72.8 547.3H99.9V554.8H72.8zM269.2 547.3H278.4V554.8H269.2zM171 554.5H180.2V562.1H171zM144.2 699.9H153.5V707.5H144.2zM144.2 721.8H153.5V729.3H144.2z"/>
<path fill="#58ffa7" d="M188.8 547.3H198.1V554.8H188.8zM242.4 554.5H251.6V562.1H242.4zM55 576.4H64.2V583.9H55zM72.8 576.4H82.1V583.9H72.8zM90.7 590.9H99.9V598.5H90.7zM99.6 612.7H108.8V620.3H99.6zM117.5 620H126.7V627.5H117.5zM108.5 634.5H117.8V642.1H108.5zM126.4 634.5H144.5V642.1H126.4zM117.5 656.3H126.7V663.9H117.5zM117.5 707.2H126.7V714.8H117.5zM108.5 721.8H117.8V729.3H108.5z"/>
<path fill="#00d7ff" d="M206.7 547.3H215.9V554.8H206.7zM126.4 554.5H135.6V562.1H126.4zM63.9 641.8H73.1V649.4H63.9zM55 707.2H64.2V714.8H55z"/>
<path fill="#00a7ff" d="M215.6 547.3H224.8V554.8H215.6zM162.1 576.4H171.3V583.9H162.1zM135.3 583.6H144.5V591.2H135.3zM55 598.2H64.2V605.7H55zM55 641.8H64.2V649.4H55z"/>
<path fill="#00b7ff" d="M224.5 547.3H233.8V554.8H224.5zM135.3 590.9H144.5V598.5H135.3z"/>
<path fill="#b7ff48" d="M63.9 554.5H73.1V562.1H63.9zM179.9 554.5H189.1V562.1H179.9zM278.1 554.5H287.3V562.1H278.1zM153.2 641.8H162.4V649.4H153.2zM153.2 699.9H162.4V707.5H153.2z"/>
<path fill="#78ff87" d="M81.8 569.1H99.9V576.7H81.8zM99.6 590.9H108.8V598.5H99.6zM144.2 634.5H153.5V642.1H144.2zM126.4 656.3H135.6V663.9H126.4zM126.4 721.8H135.6V729.3H126.4z"/>
<path fill="#0078ff" d="M135.3 569.1H144.5V576.7H135.3zM55 620H64.2V627.5H55z"/>
<path fill="#0018ff" d="M153.2 569.1H162.4V576.7H153.2zM144.2 576.4H153.5V583.9H144.2z"/>
<path fill="#0097ff" d="M162.1 569.1H171.3V576.7H162.1zM55 634.5H64.2V642.1H55z"/>
<path fill="#d7ff28" d="M215.6 569.1H224.8V576.7H215.6zM233.5 569.1H260.5V576.7H233.5zM162.1 634.5H171.3V642.1H162.1zM162.1 699.9H180.2V707.5H162.1zM278.1 721.8H287.3V729.3H278.1z"/>
<path fill="#f7ff08" d="M269.2 569.1H278.4V576.7H269.2zM162.1 678.1H180.2V685.7H162.1zM179.9 699.9H189.1V707.5H179.9zM278.1 699.9H287.3V707.5H278.1zM260.2 707.2H278.4V714.8H260.2zM188.8 721.8H260.5V729.3H188.8z"/>
<path fill="#38ffc7" d="M117.5 576.4H126.7V583.9H117.5zM81.8 598.2H91V605.7H81.8zM90.7 612.7H99.9V620.3H90.7zM153.2 612.7H162.4V620.3H153.2zM99.6 634.5H108.8V642.1H99.6zM99.6 707.2H108.8V714.8H99.6zM90.7 721.8H99.9V729.3H90.7z"/>
<path fill="#00f7ff" d="M126.4 576.4H135.6V583.9H126.4zM162.1 590.9H171.3V598.5H162.1zM144.2 612.7H153.5V620.3H144.2zM63.9 707.2H73.1V714.8H63.9z"/>
<path fill="#0028ff" d="M153.2 576.4H162.4V583.9H153.2zM144.2 583.6H153.5V591.2H144.2z"/>
<path fill="#ffa700" d="M188.8 576.4H198.1V583.9H188.8zM206.7 576.4H215.9V583.9H206.7zM179.9 598.2H189.1V605.7H179.9zM179.9 634.5H189.1V642.1H179.9zM278.1 663.6H287.3V671.2H278.1z"/>
<path fill="#ff9700" d="M197.8 576.4H207V583.9H197.8zM269.2 583.6H278.4V591.2H269.2zM278.1 590.9H287.3V598.5H278.1zM179.9 605.4H189.1V613H179.9zM179.9 612.7H189.1V620.3H179.9zM179.9 620H189.1V627.5H179.9zM179.9 627.2H189.1V634.8H179.9zM278.1 656.3H287.3V663.9H278.1zM188.8 670.9H198.1V678.4H188.8zM269.2 670.9H278.4V678.4H269.2zM260.2 678.1H269.5V685.7H260.2zM206.7 685.4H251.6V693H206.7z"/>
<path fill="#ffb700" d="M215.6 576.4H224.8V583.9H215.6zM179.9 583.6H189.1V591.2H179.9zM278.1 583.6H287.3V591.2H278.1zM179.9 590.9H189.1V598.5H179.9zM179.9 641.8H189.1V649.4H179.9zM179.9 649.1H189.1V656.6H179.9zM278.1 670.9H287.3V678.4H278.1zM188.8 678.1H198.1V685.7H188.8zM269.2 678.1H278.4V685.7H269.2zM197.8 685.4H207V693H197.8zM251.3 685.4H269.5V693H251.3zM206.7 692.7H251.6V700.2H206.7z"/>
<path fill="#ffc700" d="M224.5 576.4H233.8V583.9H224.5zM260.2 576.4H269.5V583.9H260.2zM179.9 656.3H189.1V663.9H179.9zM188.8 685.4H198.1V693H188.8zM269.2 685.4H278.4V693H269.2z"/>
<path fill="#ffe700" d="M278.1 576.4H287.3V583.9H278.1zM171 656.3H180.2V663.9H171zM179.9 678.1H189.1V685.7H179.9zM278.1 685.4H287.3V693H278.1zM188.8 699.9H207V707.5H188.8zM251.3 699.9H260.5V707.5H251.3zM206.7 707.2H251.6V714.8H206.7z"/>
<path fill="#ff5800" d="M188.8 583.6H198.1V591.2H188.8zM224.5 583.6H233.8V591.2H224.5zM188.8 590.9H198.1V598.5H188.8zM233.5 590.9H269.5V598.5H233.5zM269.2 598.2H278.4V605.7H269.2zM278.1 605.4H287.3V613H278.1zM278.1 612.7H287.3V620.3H278.1zM278.1 620H287.3V627.5H278.1zM278.1 627.2H287.3V634.8H278.1zM188.8 641.8H198.1V649.4H188.8zM269.2 641.8H278.4V649.4H269.2zM188.8 649.1H198.1V656.6H188.8zM269.2 649.1H278.4V656.6H269.2zM260.2 656.3H269.5V663.9H260.2zM197.8 670.9H260.5V678.4H197.8z"/>
<path fill="#ff3800" d="M197.8 583.6H224.8V591.2H197.8zM224.5 590.9H233.8V598.5H224.5zM260.2 598.2H269.5V605.7H260.2zM188.8 605.4H198.1V613H188.8zM269.2 605.4H278.4V613H269.2zM188.8 612.7H198.1V620.3H188.8zM269.2 612.7H278.4V620.3H269.2zM188.8 620H198.1V627.5H188.8zM269.2 620H278.4V627.5H269.2zM188.8 627.2H198.1V634.8H188.8zM269.2 627.2H278.4V634.8H269.2zM260.2 641.8H269.5V649.4H260.2zM260.2 649.1H269.5V656.6H260.2zM197.8 656.3H207V663.9H197.8zM224.5 656.3H260.5V663.9H224.5zM206.7 663.6H224.8V671.2H206.7z"/>
<path fill="#ff7800" d="M233.5 583.6H269.5V591.2H233.5zM269.2 590.9H278.4V598.5H269.2zM278.1 598.2H287.3V605.7H278.1zM278.1 641.8H287.3V649.4H278.1zM278.1 649.1H287.3V656.6H278.1zM188.8 656.3H198.1V663.9H188.8zM269.2 656.3H278.4V663.9H269.2zM260.2 670.9H269.5V678.4H260.2zM206.7 678.1H251.6V685.7H206.7z"/>
<path fill="#18ffe7" d="M63.9 590.9H73.1V598.5H63.9zM72.8 598.2H82.1V605.7H72.8zM126.4 612.7H135.6V620.3H126.4zM72.8 721.8H82.1V729.3H72.8z"/>
<path fill="#0058ff" d="M144.2 590.9H153.5V598.5H144.2z"/>
<path fill="#ff2800" d="M197.8 590.9H207V598.5H197.8zM233.5 598.2H260.5V605.7H233.5zM260.2 634.5H269.5V642.1H260.2z"/>
<path fill="#ff1800" d="M206.7 590.9H224.8V598.5H206.7zM197.8 598.2H207V605.7H197.8zM260.2 605.4H269.5V613H260.2zM260.2 612.7H269.5V620.3H260.2zM260.2 620H269.5V627.5H260.2zM260.2 627.2H269.5V634.8H260.2zM197.8 641.8H207V649.4H197.8zM224.5 641.8H260.5V649.4H224.5zM197.8 649.1H207V656.6H197.8zM224.5 649.1H260.5V656.6H224.5zM206.7 656.3H224.8V663.9H206.7z"/>
<path fill="#ff4800" d="M188.8 598.2H198.1V605.7H188.8zM188.8 634.5H198.1V642.1H188.8zM269.2 634.5H278.4V642.1H269.2zM197.8 663.6H207V671.2H197.8zM224.5 663.6H260.5V671.2H224.5z"/>
<path fill="#f70000" d="M206.7 598.2H224.8V605.7H206.7zM197.8 605.4H207V613H197.8zM233.5 605.4H260.5V613H233.5zM197.8 612.7H207V620.3H197.8zM233.5 612.7H260.5V620.3H233.5zM197.8 620H215.9V627.5H197.8zM224.5 620H260.5V627.5H224.5zM197.8 627.2H215.9V634.8H197.8zM224.5 627.2H260.5V634.8H224.5zM206.7 634.5H215.9V642.1H206.7zM206.7 641.8H224.8V649.4H206.7zM206.7 649.1H224.8V656.6H206.7z"/>
<path fill="#ff0800" d="M224.5 598.2H233.8V605.7H224.5zM197.8 634.5H207V642.1H197.8zM224.5 634.5H260.5V642.1H224.5z"/>
<path fill="#d70000" d="M206.7 605.4H233.8V613H206.7zM215.6 612.7H224.8V620.3H215.6zM215.6 620H224.8V627.5H215.6zM215.6 627.2H224.8V634.8H215.6z"/>
<path fill="#e70000" d="M206.7 612.7H215.9V620.3H206.7zM224.5 612.7H233.8V620.3H224.5zM215.6 634.5H224.8V642.1H215.6z"/>
<path fill="#ff6800" d="M278.1 634.5H287.3V642.1H278.1zM260.2 663.6H269.5V671.2H260.2z"/>
<path fill="#ff8700" d="M188.8 663.6H198.1V671.2H188.8zM269.2 663.6H278.4V671.2H269.2zM197.8 678.1H207V685.7H197.8zM251.3 678.1H260.5V685.7H251.3z"/>
</g>
<g clip-path="url(#c5)">
<path d="M54 537.8L70.2 537.1L67.7 546.5z" fill="#000"/>
<path d="M100.2 558.2L100.9 541.9L110.1 545.3z" fill="#000"/>
<path d="M54.4 558.4L70.7 559.1L67.3 568.3z" fill="#000"/>
<path d="M160.3 562.7L176.1 559.2L175.3 569z" fill="#000"/>
<path d="M160.4 583.8L176.4 581.1L175 590.8z" fill="#000"/>
<path d="M198.1 577.7L214 581.2L209.1 589.7z" fill="#000"/>
<path d="M232 581.8L248.2 581.1L245.7 590.5z" fill="#000"/>
<path d="M267.1 584.7L282.9 581.2L282.1 591z" fill="#000"/>
<path d="M160.5 605.2L176.6 603.1L174.9 612.8z" fill="#000"/>
<path d="M197.4 601L213.5 603.1L209.4 612z" fill="#000"/>
<path d="M232.4 602.4L248.7 603.1L245.3 612.3z" fill="#000"/>
<path d="M267.3 605.2L283.4 603.1L281.7 612.8z" fill="#000"/>
<path d="M160.6 626.7L176.8 625.1L174.7 634.7z" fill="#000"/>
<path d="M197.4 623L213.5 625.1L209.4 634z" fill="#000"/>
<path d="M232.4 624.4L248.7 625.1L245.3 634.3z" fill="#000"/>
<path d="M267.6 625.8L283.8 625.1L281.3 634.5z" fill="#000"/>
<path d="M160.3 650.7L176.1 647.2L175.3 657z" fill="#000"/>
<path d="M196.8 646.4L213.1 647.1L209.7 656.3z" fill="#000"/>
<path d="M232.4 646.4L248.7 647.1L245.3 656.3z" fill="#000"/>
<path d="M268 646.4L284.3 647.1L280.9 656.3z" fill="#000"/>
<path d="M126.2 681.4L138.2 670.4L142.3 679.3z" fill="#000"/>
<path d="M160.2 674.2L175.7 669.3L175.7 679.1z" fill="#000"/>
<path d="M195.9 672.7L211.7 669.2L210.9 679z" fill="#000"/>
<path d="M232 669.8L248.2 669.1L245.7 678.5z" fill="#000"/>
<path d="M268.6 667L284.7 669.1L280.6 678z" fill="#000"/>
<path d="M127.7 706L137.6 693L143.2 701.1z" fill="#000"/>
<path d="M160.3 697.7L175.3 691.4L176.1 701.2z" fill="#000"/>
<path d="M195.9 694.7L211.7 691.2L210.9 701z" fill="#000"/>
<path d="M232.4 690.4L248.7 691.1L245.3 700.3z" fill="#000"/>
<path d="M127.7 728L137.6 715L143.2 723.1z" fill="#000"/>
<path d="M160.3 719.7L175.3 713.4L176.1 723.2z" fill="#000"/>
<path d="M195.9 716.7L211.7 713.2L210.9 723z" fill="#000"/>
<path d="M55 540L82.9 540L83.6 543L84.2 546L84.9 549L85.6 552L86.3 555L87.1 558L87.8 561L88.6 564L89.4 567L90.1 570L91 573L91.8 576L92.6 579L93.5 582L94.3 585L95.2 588L96.1 591L97.1 594L98 597L99 600L100 603L101 606L102 609L103 612L104.1 615L105.2 618L106.3 621L107.4 624L108.6 627L109.7 630L110.9 633L112.2 636L113.4 639L114.7 642L116 645L117.3 648L118.6 651L120 654L121.4 657L122.8 660L124.3 663L125.8 666L127.3 669L128.9 672L130.4 675L132 678L133.7 681L135.4 684L137.1 687L138.8 690L140.6 693L142.4 696L144.3 699L146.1 702L148.1 705L150 708L152 711L154.1 714L156.1 717L158.3 720L160.4 723L162.6 726L164.9 729L165.3 729.5L176.7 729.5L177.1 729L179.4 726L181.6 723L183.7 720L185.9 717L187.9 714L190 711L192 708L193.9 705L195.9 702L197.7 699L199.6 696L201.4 693L203.2 690L204.9 687L206.6 684L208.3 681L210 678L211.6 675L213.1 672L214.7 669L216.2 666L217.7 663L219.2 660L220.6 657L222 654L223.4 651L224.7 648L226 645L227.3 642L228.6 639L229.8 636L231.1 633L232.3 630L233.4 627L234.6 624L235.7 621L236.8 618L237.9 615L239 612L240 609L241 606L242 603L243 600L244 597L244.9 594L245.9 591L246.8 588L247.7 585L248.5 582L249.4 579L250.2 576L251 573L251.9 570L252.6 567L253.4 564L254.2 561L254.9 558L255.7 555L256.4 552L257.1 549L257.8 546L258.4 543L259.1 540L287 540L287 736.3L55 736.3z" fill="#fff" fill-opacity="0.5"/>
<path d="M82.9 540L83.6 543L84.2 546L84.9 549L85.6 552L86.3 555L87.1 558L87.8 561L88.6 564L89.4 567L90.1 570L91 573L91.8 576L92.6 579L93.5 582L94.3 585L95.2 588L96.1 591L97.1 594L98 597L99 600L100 603L101 606L102 609L103 612L104.1 615L105.2 618L106.3 621L107.4 624L108.6 627L109.7 630L110.9 633L112.2 636L113.4 639L114.7 642L116 645L117.3 648L118.6 651L120 654L121.4 657L122.8 660L124.3 663L125.8 666L127.3 669L128.9 672L130.4 675L132 678L133.7 681L135.4 684L137.1 687L138.8 690L140.6 693L142.4 696L144.3 699L146.1 702L148.1 705L150 708L152 711L154.1 714L156.1 717L158.3 720L160.4 723L162.6 726L164.9 729L165.3 729.5L176.7 729.5L177.1 729L179.4 726L181.6 723L183.7 720L185.9 717L187.9 714L190 711L192 708L193.9 705L195.9 702L197.7 699L199.6 696L201.4 693L203.2 690L204.9 687L206.6 684L208.3 681L210 678L211.6 675L213.1 672L214.7 669L216.2 666L217.7 663L219.2 660L220.6 657L222 654L223.4 651L224.7 648L226 645L227.3 642L228.6 639L229.8 636L231.1 633L232.3 630L233.4 627L234.6 624L235.7 621L236.8 618L237.9 615L239 612L240 609L241 606L242 603L243 600L244 597L244.9 594L245.9 591L246.8 588L247.7 585L248.5 582L249.4 579L250.2 576L251 573L251.9 570L252.6 567L253.4 564L254.2 561L254.9 558L255.7 555L256.4 552L257.1 549L257.8 546L258.4 543L259.1 540" stroke="#000" stroke-width="0.9" fill="none"/>
<path d="M86.8 546.6L69 541.8M54 537.8L70.2 537.1L67.7 546.5z" stroke="#000" stroke-width="0.9" fill="none" stroke-linejoin="round"/>
<path d="M111.8 526.2L105.5 543.6M100.2 558.2L100.9 541.9L110.1 545.3z" stroke="#000" stroke-width="0.9" fill="none" stroke-linejoin="round"/>
<path d="M86.4 570L69 563.7M54.4 558.4L70.7 559.1L67.3 568.3z" stroke="#000" stroke-width="0.9" fill="none" stroke-linejoin="round"/>
<path d="M194.1 565.7L175.7 564.1M160.3 562.7L176.1 559.2L175.3 569z" stroke="#000" stroke-width="0.9" fill="none" stroke-linejoin="round"/>
<path d="M194 588.6L175.7 586M160.4 583.8L176.4 581.1L175 590.8z" stroke="#000" stroke-width="0.9" fill="none" stroke-linejoin="round"/>
<path d="M227.5 594.7L211.5 585.5M198.1 577.7L214 581.2L209.1 589.7z" stroke="#000" stroke-width="0.9" fill="none" stroke-linejoin="round"/>
<path d="M264.8 590.6L247 585.8M232 581.8L248.2 581.1L245.7 590.5z" stroke="#000" stroke-width="0.9" fill="none" stroke-linejoin="round"/>
<path d="M300.9 587.7L282.5 586.1M267.1 584.7L282.9 581.2L282.1 591z" stroke="#000" stroke-width="0.9" fill="none" stroke-linejoin="round"/>
<path d="M193.9 611.2L175.7 607.9M160.5 605.2L176.6 603.1L174.9 612.8z" stroke="#000" stroke-width="0.9" fill="none" stroke-linejoin="round"/>
<path d="M228.2 615.4L211.4 607.6M197.4 601L213.5 603.1L209.4 612z" stroke="#000" stroke-width="0.9" fill="none" stroke-linejoin="round"/>
<path d="M264.4 614L247 607.7M232.4 602.4L248.7 603.1L245.3 612.3z" stroke="#000" stroke-width="0.9" fill="none" stroke-linejoin="round"/>
<path d="M300.7 611.2L282.5 607.9M267.3 605.2L283.4 603.1L281.7 612.8z" stroke="#000" stroke-width="0.9" fill="none" stroke-linejoin="round"/>
<path d="M193.8 633.7L175.7 629.9M160.6 626.7L176.8 625.1L174.7 634.7z" stroke="#000" stroke-width="0.9" fill="none" stroke-linejoin="round"/>
<path d="M228.2 637.4L211.4 629.6M197.4 623L213.5 625.1L209.4 634z" stroke="#000" stroke-width="0.9" fill="none" stroke-linejoin="round"/>
<path d="M264.4 636L247 629.7M232.4 624.4L248.7 625.1L245.3 634.3z" stroke="#000" stroke-width="0.9" fill="none" stroke-linejoin="round"/>
<path d="M300.4 634.6L282.6 629.8M267.6 625.8L283.8 625.1L281.3 634.5z" stroke="#000" stroke-width="0.9" fill="none" stroke-linejoin="round"/>
<path d="M194.1 653.7L175.7 652.1M160.3 650.7L176.1 647.2L175.3 657z" stroke="#000" stroke-width="0.9" fill="none" stroke-linejoin="round"/>
<path d="M228.8 658L211.4 651.7M196.8 646.4L213.1 647.1L209.7 656.3z" stroke="#000" stroke-width="0.9" fill="none" stroke-linejoin="round"/>
<path d="M264.4 658L247 651.7M232.4 646.4L248.7 647.1L245.3 656.3z" stroke="#000" stroke-width="0.9" fill="none" stroke-linejoin="round"/>
<path d="M300 658L282.6 651.7M268 646.4L284.3 647.1L280.9 656.3z" stroke="#000" stroke-width="0.9" fill="none" stroke-linejoin="round"/>
<path d="M157 667L140.2 674.8M126.2 681.4L138.2 670.4L142.3 679.3z" stroke="#000" stroke-width="0.9" fill="none" stroke-linejoin="round"/>
<path d="M194.2 674.2L175.7 674.2M160.2 674.2L175.7 669.3L175.7 679.1z" stroke="#000" stroke-width="0.9" fill="none" stroke-linejoin="round"/>
<path d="M229.7 675.7L211.3 674.1M195.9 672.7L211.7 669.2L210.9 679z" stroke="#000" stroke-width="0.9" fill="none" stroke-linejoin="round"/>
<path d="M264.8 678.6L247 673.8M232 669.8L248.2 669.1L245.7 678.5z" stroke="#000" stroke-width="0.9" fill="none" stroke-linejoin="round"/>
<path d="M299.4 681.4L282.6 673.6M268.6 667L284.7 669.1L280.6 678z" stroke="#000" stroke-width="0.9" fill="none" stroke-linejoin="round"/>
<path d="M155.5 686.4L140.4 697.1M127.7 706L137.6 693L143.2 701.1z" stroke="#000" stroke-width="0.9" fill="none" stroke-linejoin="round"/>
<path d="M194.1 694.7L175.7 696.3M160.3 697.7L175.3 691.4L176.1 701.2z" stroke="#000" stroke-width="0.9" fill="none" stroke-linejoin="round"/>
<path d="M229.7 697.7L211.3 696.1M195.9 694.7L211.7 691.2L210.9 701z" stroke="#000" stroke-width="0.9" fill="none" stroke-linejoin="round"/>
<path d="M264.4 702L247 695.7M232.4 690.4L248.7 691.1L245.3 700.3z" stroke="#000" stroke-width="0.9" fill="none" stroke-linejoin="round"/>
<path d="M155.5 708.4L140.4 719.1M127.7 728L137.6 715L143.2 723.1z" stroke="#000" stroke-width="0.9" fill="none" stroke-linejoin="round"/>
<path d="M194.1 716.7L175.7 718.3M160.3 719.7L175.3 713.4L176.1 723.2z" stroke="#000" stroke-width="0.9" fill="none" stroke-linejoin="round"/>
<path d="M229.7 719.7L211.3 718.1M195.9 716.7L211.7 713.2L210.9 723z" stroke="#000" stroke-width="0.9" fill="none" stroke-linejoin="round"/>
<path transform="translate(55 540)" d="M234.0 41.5C229.6 41.5 215.9 41.6 207.3 41.5C198.7 41.4 190.7 41.0 182.4 40.6C174.1 40.2 164.1 39.6 157.5 39.4C150.9 39.2 147.0 38.4 143.0 39.4C139.0 40.4 135.8 42.5 133.5 45.6C131.2 48.7 130.1 52.5 129.4 58.0C128.7 63.5 129.0 71.9 129.4 78.8C129.8 85.7 130.6 92.9 131.8 99.5C133.0 106.1 134.6 112.7 136.8 118.2C139.0 123.7 141.6 128.6 145.0 132.7C148.4 136.8 152.7 140.2 157.5 143.0C162.3 145.8 168.5 148.6 174.0 149.3C179.5 150.0 185.5 148.9 190.7 147.2C195.9 145.5 201.0 142.7 205.2 138.9C209.3 135.1 212.6 129.6 215.6 124.4C218.6 119.2 221.1 113.3 223.0 107.8C224.9 102.3 226.2 96.0 227.2 91.2C228.2 86.4 228.6 80.9 228.9 78.8" stroke="#000" stroke-width="3.8" fill="none" stroke-linejoin="round" stroke-linecap="round"/>
<path transform="translate(55 540)" d="M231.0 128.0C231.2 131.7 231.8 146.3 232.0 150.0" stroke="#000" stroke-width="3.8" fill="none" stroke-linejoin="round" stroke-linecap="round"/>
<path d="M55 647.1H291" stroke="#000" stroke-width="4.6" stroke-dasharray="23.5 15.2" stroke-dashoffset="17.5"/>
<path d="M55 694.8H291" stroke="#000" stroke-width="4.6" stroke-dasharray="23.5 15.2" stroke-dashoffset="34.2"/>
</g>
<rect x="54.5" y="661.8" width="4.3" height="23" fill="#000"/>
<path d="M287.2 540V736.3" stroke="#000" stroke-width="1.3"/>
<rect x="284.2" y="665" width="3.6" height="24" fill="#000"/>
<path d="M54.5 540V737.3" stroke="#000" stroke-width="1"/>
<text x="47" y="546.9" text-anchor="end" font-size="19">4</text>
<text x="47" y="636.7" text-anchor="end" font-size="19">8</text>
<text x="53.3" y="651.1" text-anchor="end" font-size="19" font-weight="bold">9</text>
<text x="55" y="700.7" text-anchor="end" font-size="19" font-weight="bold">13</text>
<text x="46.5" y="728.3" text-anchor="end" font-size="19">16</text>
<text x="58.4" y="762.1" text-anchor="middle" font-size="19">1984</text>
<text x="111.7" y="762.1" text-anchor="middle" font-size="19">1990</text>
<text x="165" y="762.1" text-anchor="middle" font-size="19">1996</text>
<text x="218.3" y="762.1" text-anchor="middle" font-size="19">2002</text>
<text x="271.6" y="762.1" text-anchor="middle" font-size="19">2008</text>
<text x="167.5" y="527.2" text-anchor="middle" font-size="19" textLength="45.9">reg 5</text>
<g shape-rendering="crispEdges">
<path fill="#ffd700" d="M326 540H344.1V547.6H326zM450.9 554.5H460.1V562.1H450.9zM495.5 561.8H504.8V569.4H495.5zM513.4 569.1H522.6V576.7H513.4zM459.8 598.2H469.1V605.7H459.8zM459.8 605.4H478V613H459.8zM468.8 612.7H478V620.3H468.8zM468.8 620H486.9V627.5H468.8zM468.8 627.2H486.9V634.8H468.8zM468.8 634.5H486.9V642.1H468.8zM343.8 649.1H388.8V656.6H343.8zM397.4 649.1H406.6V656.6H397.4zM450.9 649.1H469.1V656.6H450.9zM406.3 656.3H415.5V663.9H406.3zM450.9 656.3H469.1V663.9H450.9zM415.2 663.6H424.5V671.2H415.2zM450.9 663.6H486.9V671.2H450.9zM334.9 670.9H344.1V678.4H334.9zM424.2 670.9H433.4V678.4H424.2zM450.9 670.9H486.9V678.4H450.9zM486.6 678.1H495.8V685.7H486.6zM343.8 685.4H353.1V693H343.8zM397.4 685.4H415.5V693H397.4zM495.5 685.4H504.8V693H495.5zM352.8 692.7H397.7V700.2H352.8zM504.5 692.7H558.3V700.2H504.5z"/>
<path fill="#fff700" d="M343.8 540H362V547.6H343.8zM495.5 540H504.8V547.6H495.5zM326 547.3H344.1V554.8H326zM495.5 547.3H504.8V554.8H495.5zM450.9 561.8H460.1V569.4H450.9zM513.4 561.8H522.6V569.4H513.4zM450.9 569.1H460.1V576.7H450.9zM450.9 576.4H460.1V583.9H450.9zM450.9 583.6H460.1V591.2H450.9zM459.8 620H469.1V627.5H459.8zM459.8 627.2H469.1V634.8H459.8zM459.8 634.5H469.1V642.1H459.8zM450.9 641.8H460.1V649.4H450.9zM334.9 649.1H344.1V656.6H334.9zM406.3 649.1H424.5V656.6H406.3zM442 649.1H451.2V656.6H442zM334.9 656.3H344.1V663.9H334.9zM442 656.3H451.2V663.9H442zM424.2 663.6H433.4V671.2H424.2zM442 663.6H451.2V671.2H442zM326 670.9H335.2V678.4H326zM433.1 670.9H451.2V678.4H433.1zM334.9 678.1H344.1V685.7H334.9zM468.8 678.1H478V685.7H468.8zM477.7 685.4H486.9V693H477.7zM343.8 692.7H353.1V700.2H343.8zM397.4 692.7H415.5V700.2H397.4zM477.7 692.7H504.8V700.2H477.7z"/>
<path fill="#c7ff38" d="M361.7 540H370.9V547.6H361.7zM522.3 540H531.5V547.6H522.3zM513.4 547.3H522.6V554.8H513.4zM504.5 554.5H513.7V562.1H504.5zM326 561.8H335.2V569.4H326zM352.8 561.8H362V569.4H352.8zM343.8 569.1H353.1V576.7H343.8zM334.9 576.4H344.1V583.9H334.9zM334.9 583.6H344.1V591.2H334.9zM450.9 605.4H460.1V613H450.9zM450.9 612.7H460.1V620.3H450.9zM450.9 620H460.1V627.5H450.9zM326 627.2H344.1V634.8H326zM450.9 627.2H460.1V634.8H450.9zM326 634.5H335.2V642.1H326zM343.8 634.5H353.1V642.1H343.8zM397.4 641.8H406.6V649.4H397.4zM442 641.8H451.2V649.4H442zM433.1 649.1H442.3V656.6H433.1zM433.1 678.1H451.2V685.7H433.1zM459.8 685.4H469.1V693H459.8zM326 692.7H335.2V700.2H326zM415.2 692.7H424.5V700.2H415.2zM343.8 699.9H353.1V707.5H343.8zM477.7 699.9H504.8V707.5H477.7z"/>
<path fill="#48ffb7" d="M370.6 540H379.8V547.6H370.6zM370.6 547.3H379.8V554.8H370.6zM370.6 554.5H379.8V562.1H370.6zM370.6 561.8H379.8V569.4H370.6zM442 561.8H451.2V569.4H442zM442 569.1H451.2V576.7H442zM361.7 583.6H370.9V591.2H361.7zM442 598.2H451.2V605.7H442zM352.8 605.4H362V613H352.8zM442 605.4H451.2V613H442zM442 612.7H451.2V620.3H442zM361.7 620H370.9V627.5H361.7zM370.6 627.2H388.8V634.8H370.6zM433.1 627.2H442.3V634.8H433.1zM433.1 692.7H451.2V700.2H433.1zM424.2 699.9H433.4V707.5H424.2zM450.9 699.9H460.1V707.5H450.9zM326 707.2H335.2V714.8H326zM343.8 714.5H397.7V722.1H343.8zM477.7 714.5H495.8V722.1H477.7z"/>
<path fill="#00c7ff" d="M379.5 540H388.8V547.6H379.5zM379.5 547.3H388.8V554.8H379.5zM433.1 554.5H442.3V562.1H433.1zM433.1 561.8H442.3V569.4H433.1zM379.5 569.1H388.8V576.7H379.5zM433.1 569.1H442.3V576.7H433.1zM379.5 612.7H388.8V620.3H379.5zM388.5 620H397.7V627.5H388.5zM424.2 714.5H433.4V722.1H424.2zM334.9 721.8H344.1V729.3H334.9zM397.4 721.8H406.6V729.3H397.4zM459.8 721.8H469.1V729.3H459.8zM504.5 729H540.5V736.6H504.5z"/>
<path fill="#0068ff" d="M388.5 540H397.7V547.6H388.5zM388.5 547.3H397.7V554.8H388.5zM424.2 547.3H433.4V554.8H424.2zM388.5 554.5H397.7V562.1H388.5zM388.5 561.8H397.7V569.4H388.5zM424.2 583.6H433.4V591.2H424.2zM424.2 590.9H433.4V598.5H424.2zM415.2 612.7H424.5V620.3H415.2zM334.9 729H353.1V736.6H334.9zM397.4 729H424.5V736.6H397.4zM450.9 729H460.1V736.6H450.9z"/>
<path fill="#0028ff" d="M397.4 540H406.6V547.6H397.4zM415.2 540H424.5V547.6H415.2zM388.5 576.4H397.7V583.9H388.5zM388.5 605.4H397.7V613H388.5zM415.2 605.4H424.5V613H415.2z"/>
<path fill="#0008ff" d="M406.3 540H415.5V547.6H406.3zM415.2 547.3H424.5V554.8H415.2zM397.4 554.5H406.6V562.1H397.4zM397.4 561.8H406.6V569.4H397.4zM388.5 583.6H397.7V591.2H388.5zM388.5 590.9H397.7V598.5H388.5zM415.2 598.2H424.5V605.7H415.2z"/>
<path fill="#0087ff" d="M424.2 540H433.4V547.6H424.2zM379.5 583.6H388.8V591.2H379.5zM379.5 590.9H388.8V598.5H379.5zM379.5 598.2H388.8V605.7H379.5zM379.5 605.4H388.8V613H379.5zM424.2 605.4H433.4V613H424.2zM424.2 721.8H433.4V729.3H424.2zM352.8 729H397.7V736.6H352.8zM459.8 729H478V736.6H459.8z"/>
<path fill="#00e7ff" d="M433.1 540H442.3V547.6H433.1zM379.5 561.8H388.8V569.4H379.5zM433.1 583.6H442.3V591.2H433.1zM433.1 590.9H442.3V598.5H433.1zM370.6 598.2H379.8V605.7H370.6zM433.1 598.2H442.3V605.7H433.1zM370.6 605.4H379.8V613H370.6zM433.1 605.4H442.3V613H433.1zM424.2 620H433.4V627.5H424.2zM415.2 714.5H424.5V722.1H415.2zM450.9 714.5H460.1V722.1H450.9zM352.8 721.8H397.7V729.3H352.8zM540.2 729H558.3V736.6H540.2z"/>
<path fill="#a7ff58" d="M442 540H451.2V547.6H442zM504.5 540H522.6V547.6H504.5zM361.7 554.5H370.9V562.1H361.7zM361.7 561.8H370.9V569.4H361.7zM352.8 569.1H362V576.7H352.8zM326 576.4H335.2V583.9H326zM326 583.6H335.2V591.2H326zM343.8 583.6H353.1V591.2H343.8zM326 590.9H335.2V598.5H326zM326 598.2H344.1V605.7H326zM326 605.4H344.1V613H326zM326 612.7H344.1V620.3H326zM343.8 627.2H353.1V634.8H343.8zM361.7 634.5H370.9V642.1H361.7zM406.3 641.8H433.4V649.4H406.3zM459.8 692.7H469.1V700.2H459.8zM334.9 699.9H344.1V707.5H334.9zM406.3 699.9H415.5V707.5H406.3zM468.8 699.9H478V707.5H468.8zM504.5 707.2H522.6V714.8H504.5z"/>
<path fill="#ff7800" d="M450.9 540H460.1V547.6H450.9zM531.2 554.5H540.5V562.1H531.2zM459.8 569.1H469.1V576.7H459.8zM477.7 576.4H486.9V583.9H477.7zM522.3 576.4H531.5V583.9H522.3zM468.8 583.6H522.6V591.2H468.8zM495.5 590.9H522.6V598.5H495.5zM504.5 598.2H522.6V605.7H504.5zM504.5 605.4H522.6V613H504.5zM504.5 612.7H522.6V620.3H504.5zM495.5 620H522.6V627.5H495.5zM495.5 627.2H522.6V634.8H495.5zM504.5 634.5H522.6V642.1H504.5zM504.5 641.8H522.6V649.4H504.5zM504.5 649.1H522.6V656.6H504.5zM513.4 656.3H522.6V663.9H513.4zM513.4 663.6H540.5V671.2H513.4zM388.5 670.9H406.6V678.4H388.5zM513.4 670.9H558.3V678.4H513.4z"/>
<path fill="#ff1800" d="M459.8 540H478V547.6H459.8zM540.2 561.8H558.3V569.4H540.2zM540.2 569.1H558.3V576.7H540.2zM531.2 583.6H540.5V591.2H531.2zM540.2 598.2H558.3V605.7H540.2zM540.2 605.4H558.3V613H540.2z"/>
<path fill="#ff5800" d="M477.7 540H486.9V547.6H477.7zM540.2 540H549.4V547.6H540.2zM477.7 547.3H486.9V554.8H477.7zM477.7 554.5H486.9V562.1H477.7zM459.8 561.8H469.1V569.4H459.8zM477.7 561.8H486.9V569.4H477.7zM531.2 561.8H540.5V569.4H531.2zM468.8 569.1H478V576.7H468.8zM522.3 583.6H531.5V591.2H522.3zM522.3 590.9H531.5V598.5H522.3zM522.3 598.2H531.5V605.7H522.3zM495.5 605.4H504.8V613H495.5zM522.3 605.4H531.5V613H522.3zM522.3 612.7H531.5V620.3H522.3zM522.3 620H531.5V627.5H522.3zM522.3 627.2H531.5V634.8H522.3zM522.3 634.5H531.5V642.1H522.3zM522.3 641.8H540.5V649.4H522.3zM522.3 649.1H540.5V656.6H522.3zM540.2 656.3H558.3V663.9H540.2zM352.8 670.9H388.8V678.4H352.8z"/>
<path fill="#ff9700" d="M486.6 540H495.8V547.6H486.6zM531.2 540H540.5V547.6H531.2zM486.6 547.3H495.8V554.8H486.6zM486.6 554.5H495.8V562.1H486.6zM486.6 561.8H495.8V569.4H486.6zM486.6 569.1H495.8V576.7H486.6zM522.3 569.1H531.5V576.7H522.3zM459.8 576.4H469.1V583.9H459.8zM495.5 576.4H504.8V583.9H495.5zM468.8 590.9H486.9V598.5H468.8zM486.6 598.2H495.8V605.7H486.6zM486.6 605.4H495.8V613H486.6zM495.5 641.8H504.8V649.4H495.5zM486.6 649.1H504.8V656.6H486.6zM495.5 656.3H504.8V663.9H495.5zM388.5 663.6H406.6V671.2H388.5zM495.5 663.6H513.7V671.2H495.5zM343.8 670.9H353.1V678.4H343.8zM406.3 670.9H415.5V678.4H406.3zM495.5 670.9H513.7V678.4H495.5zM388.5 678.1H397.7V685.7H388.5zM513.4 678.1H558.3V685.7H513.4z"/>
<path fill="#ff3800" d="M549.1 540H558.3V547.6H549.1zM459.8 547.3H469.1V554.8H459.8zM549.1 547.3H558.3V554.8H549.1zM468.8 554.5H478V562.1H468.8zM540.2 554.5H549.4V562.1H540.2zM468.8 561.8H478V569.4H468.8zM531.2 576.4H540.5V583.9H531.2zM531.2 598.2H540.5V605.7H531.2zM531.2 605.4H540.5V613H531.2zM531.2 612.7H540.5V620.3H531.2zM531.2 620H558.3V627.5H531.2zM531.2 627.2H558.3V634.8H531.2zM540.2 634.5H558.3V642.1H540.2zM540.2 641.8H558.3V649.4H540.2zM540.2 649.1H558.3V656.6H540.2z"/>
<path fill="#f7ff08" d="M343.8 547.3H353.1V554.8H343.8zM334.9 554.5H344.1V562.1H334.9zM343.8 641.8H353.1V649.4H343.8zM424.2 656.3H433.4V663.9H424.2zM326 663.6H335.2V671.2H326zM459.8 678.1H469.1V685.7H459.8zM334.9 685.4H344.1V693H334.9zM468.8 685.4H478V693H468.8z"/>
<path fill="#e7ff18" d="M352.8 547.3H362V554.8H352.8zM522.3 547.3H531.5V554.8H522.3zM326 554.5H335.2V562.1H326zM343.8 554.5H353.1V562.1H343.8zM513.4 554.5H522.6V562.1H513.4zM334.9 561.8H353.1V569.4H334.9zM504.5 561.8H513.7V569.4H504.5zM450.9 590.9H460.1V598.5H450.9zM450.9 634.5H460.1V642.1H450.9zM334.9 641.8H344.1V649.4H334.9zM352.8 641.8H370.9V649.4H352.8zM388.5 641.8H397.7V649.4H388.5zM326 649.1H335.2V656.6H326zM424.2 649.1H433.4V656.6H424.2zM326 656.3H335.2V663.9H326zM433.1 663.6H442.3V671.2H433.1zM326 678.1H335.2V685.7H326zM424.2 678.1H433.4V685.7H424.2zM450.9 678.1H460.1V685.7H450.9zM415.2 685.4H424.5V693H415.2zM334.9 692.7H344.1V700.2H334.9zM468.8 692.7H478V700.2H468.8zM504.5 699.9H558.3V707.5H504.5z"/>
<path fill="#b7ff48" d="M361.7 547.3H370.9V554.8H361.7zM504.5 547.3H513.7V554.8H504.5zM326 569.1H335.2V576.7H326zM343.8 576.4H353.1V583.9H343.8zM334.9 590.9H344.1V598.5H334.9zM326 620H344.1V627.5H326zM352.8 634.5H362V642.1H352.8zM424.2 685.4H433.4V693H424.2zM450.9 685.4H460.1V693H450.9zM397.4 699.9H406.6V707.5H397.4zM522.3 707.2H558.3V714.8H522.3z"/>
<path fill="#0018ff" d="M397.4 547.3H406.6V554.8H397.4zM388.5 598.2H397.7V605.7H388.5z"/>
<path fill="#0000e7" d="M406.3 547.3H415.5V554.8H406.3zM415.2 561.8H424.5V569.4H415.2zM397.4 569.1H406.6V576.7H397.4zM415.2 569.1H424.5V576.7H415.2zM415.2 576.4H424.5V583.9H415.2zM415.2 583.6H424.5V591.2H415.2zM397.4 605.4H415.5V613H397.4z"/>
<path fill="#00d7ff" d="M433.1 547.3H442.3V554.8H433.1zM379.5 554.5H388.8V562.1H379.5zM433.1 576.4H442.3V583.9H433.1zM433.1 707.2H451.2V714.8H433.1zM343.8 721.8H353.1V729.3H343.8zM468.8 721.8H478V729.3H468.8z"/>
<path fill="#87ff78" d="M442 547.3H451.2V554.8H442zM361.7 569.1H370.9V576.7H361.7zM352.8 583.6H362V591.2H352.8zM343.8 598.2H353.1V605.7H343.8zM343.8 605.4H353.1V613H343.8zM343.8 612.7H353.1V620.3H343.8zM352.8 627.2H362V634.8H352.8zM370.6 634.5H397.7V642.1H370.6zM433.1 685.4H451.2V693H433.1zM424.2 692.7H433.4V700.2H424.2zM450.9 692.7H460.1V700.2H450.9zM326 699.9H335.2V707.5H326zM343.8 707.2H397.7V714.8H343.8zM477.7 707.2H495.8V714.8H477.7zM522.3 714.5H558.3V722.1H522.3z"/>
<path fill="#ffa700" d="M450.9 547.3H460.1V554.8H450.9zM513.4 576.4H522.6V583.9H513.4zM477.7 598.2H486.9V605.7H477.7zM486.6 612.7H495.8V620.3H486.6zM486.6 641.8H495.8V649.4H486.6zM388.5 656.3H397.7V663.9H388.5zM486.6 656.3H495.8V663.9H486.6zM397.4 678.1H406.6V685.7H397.4z"/>
<path fill="#ff2800" d="M468.8 547.3H478V554.8H468.8zM549.1 554.5H558.3V562.1H549.1zM531.2 590.9H540.5V598.5H531.2zM540.2 612.7H558.3V620.3H540.2z"/>
<path fill="#ff8700" d="M531.2 547.3H540.5V554.8H531.2zM486.6 576.4H495.8V583.9H486.6zM486.6 590.9H495.8V598.5H486.6zM495.5 634.5H504.8V642.1H495.5zM504.5 656.3H513.7V663.9H504.5zM352.8 663.6H388.8V671.2H352.8zM352.8 678.1H388.8V685.7H352.8z"/>
<path fill="#ff4800" d="M540.2 547.3H549.4V554.8H540.2zM459.8 554.5H469.1V562.1H459.8zM531.2 569.1H540.5V576.7H531.2zM531.2 634.5H540.5V642.1H531.2z"/>
<path fill="#d7ff28" d="M352.8 554.5H362V562.1H352.8zM334.9 569.1H344.1V576.7H334.9zM450.9 598.2H460.1V605.7H450.9zM334.9 634.5H344.1V642.1H334.9zM326 641.8H335.2V649.4H326zM370.6 641.8H388.8V649.4H370.6zM433.1 656.3H442.3V663.9H433.1zM326 685.4H335.2V693H326zM352.8 699.9H397.7V707.5H352.8z"/>
<path fill="#0000d7" d="M406.3 554.5H415.5V562.1H406.3z"/>
<path fill="#0000f7" d="M415.2 554.5H424.5V562.1H415.2zM415.2 590.9H424.5V598.5H415.2z"/>
<path fill="#0058ff" d="M424.2 554.5H433.4V562.1H424.2zM424.2 576.4H433.4V583.9H424.2z"/>
<path fill="#68ff97" d="M442 554.5H451.2V562.1H442zM361.7 576.4H370.9V583.9H361.7zM442 583.6H451.2V591.2H442zM352.8 590.9H362V598.5H352.8zM352.8 620H362V627.5H352.8zM361.7 627.2H370.9V634.8H361.7zM442 627.2H451.2V634.8H442zM397.4 634.5H406.6V642.1H397.4zM424.2 634.5H442.3V642.1H424.2zM459.8 699.9H469.1V707.5H459.8zM334.9 707.2H344.1V714.8H334.9zM397.4 707.2H406.6V714.8H397.4zM468.8 707.2H478V714.8H468.8zM495.5 714.5H522.6V722.1H495.5z"/>
<path fill="#ffe700" d="M495.5 554.5H504.8V562.1H495.5zM522.3 554.5H531.5V562.1H522.3zM504.5 569.1H513.7V576.7H504.5zM459.8 612.7H469.1V620.3H459.8zM459.8 641.8H469.1V649.4H459.8zM415.2 656.3H424.5V663.9H415.2zM334.9 663.6H344.1V671.2H334.9zM415.2 678.1H424.5V685.7H415.2zM477.7 678.1H486.9V685.7H477.7zM486.6 685.4H495.8V693H486.6z"/>
<path fill="#0000c7" d="M406.3 561.8H415.5V569.4H406.3zM397.4 576.4H406.6V583.9H397.4zM397.4 598.2H415.5V605.7H397.4z"/>
<path fill="#0048ff" d="M424.2 561.8H433.4V569.4H424.2zM388.5 569.1H397.7V576.7H388.5zM424.2 569.1H433.4V576.7H424.2zM397.4 612.7H415.5V620.3H397.4zM326 729H335.2V736.6H326zM424.2 729H451.2V736.6H424.2z"/>
<path fill="#ffb700" d="M522.3 561.8H531.5V569.4H522.3zM495.5 569.1H504.8V576.7H495.5zM504.5 576.4H513.7V583.9H504.5zM459.8 583.6H469.1V591.2H459.8zM468.8 598.2H478V605.7H468.8zM477.7 605.4H486.9V613H477.7zM486.6 620H495.8V627.5H486.6zM486.6 627.2H495.8V634.8H486.6zM486.6 634.5H495.8V642.1H486.6zM388.5 649.1H397.7V656.6H388.5zM468.8 649.1H486.9V656.6H468.8zM352.8 656.3H388.8V663.9H352.8zM397.4 656.3H406.6V663.9H397.4zM343.8 663.6H353.1V671.2H343.8zM406.3 663.6H415.5V671.2H406.3zM486.6 663.6H495.8V671.2H486.6zM415.2 670.9H424.5V678.4H415.2zM486.6 670.9H495.8V678.4H486.6zM343.8 678.1H353.1V685.7H343.8zM406.3 678.1H415.5V685.7H406.3zM495.5 678.1H513.7V685.7H495.5zM352.8 685.4H397.7V693H352.8zM513.4 685.4H558.3V693H513.4z"/>
<path fill="#28ffd7" d="M370.6 569.1H379.8V576.7H370.6zM361.7 590.9H370.9V598.5H361.7zM361.7 612.7H370.9V620.3H361.7zM370.6 620H379.8V627.5H370.6zM433.1 620H442.3V627.5H433.1zM388.5 627.2H397.7V634.8H388.5zM424.2 627.2H433.4V634.8H424.2zM415.2 707.2H424.5V714.8H415.2zM334.9 714.5H344.1V722.1H334.9zM397.4 714.5H406.6V722.1H397.4zM468.8 714.5H478V722.1H468.8zM522.3 721.8H540.5V729.3H522.3z"/>
<path fill="#0000b7" d="M406.3 569.1H415.5V576.7H406.3zM397.4 590.9H415.5V598.5H397.4z"/>
<path fill="#ff6800" d="M477.7 569.1H486.9V576.7H477.7zM468.8 576.4H478V583.9H468.8zM495.5 598.2H504.8V605.7H495.5zM495.5 612.7H504.8V620.3H495.5zM522.3 656.3H540.5V663.9H522.3zM540.2 663.6H558.3V671.2H540.2z"/>
<path fill="#97ff68" d="M352.8 576.4H362V583.9H352.8zM343.8 590.9H353.1V598.5H343.8zM343.8 620H353.1V627.5H343.8zM442 634.5H451.2V642.1H442zM433.1 641.8H442.3V649.4H433.1zM495.5 707.2H504.8V714.8H495.5z"/>
<path fill="#18ffe7" d="M370.6 576.4H379.8V583.9H370.6zM361.7 598.2H370.9V605.7H361.7zM450.9 707.2H460.1V714.8H450.9zM504.5 721.8H522.6V729.3H504.5z"/>
<path fill="#00a7ff" d="M379.5 576.4H388.8V583.9H379.5zM397.4 620H415.5V627.5H397.4zM433.1 714.5H451.2V722.1H433.1zM326 721.8H335.2V729.3H326zM415.2 721.8H424.5V729.3H415.2zM450.9 721.8H460.1V729.3H450.9zM477.7 729H504.8V736.6H477.7z"/>
<path fill="#0000a7" d="M406.3 576.4H415.5V583.9H406.3zM397.4 583.6H415.5V591.2H397.4z"/>
<path fill="#58ffa7" d="M442 576.4H451.2V583.9H442zM442 590.9H451.2V598.5H442zM352.8 598.2H362V605.7H352.8zM352.8 612.7H362V620.3H352.8zM442 620H451.2V627.5H442zM406.3 634.5H424.5V642.1H406.3zM406.3 707.2H415.5V714.8H406.3z"/>
<path fill="#ff0800" d="M540.2 576.4H558.3V583.9H540.2zM540.2 590.9H558.3V598.5H540.2z"/>
<path fill="#08fff7" d="M370.6 583.6H379.8V591.2H370.6zM361.7 605.4H370.9V613H361.7zM370.6 612.7H379.8V620.3H370.6zM433.1 612.7H442.3V620.3H433.1zM379.5 620H388.8V627.5H379.5zM397.4 627.2H424.5V634.8H397.4zM433.1 699.9H451.2V707.5H433.1zM424.2 707.2H433.4V714.8H424.2zM326 714.5H335.2V722.1H326zM406.3 714.5H415.5V722.1H406.3zM459.8 714.5H469.1V722.1H459.8zM495.5 721.8H504.8V729.3H495.5z"/>
<path fill="#f70000" d="M540.2 583.6H558.3V591.2H540.2z"/>
<path fill="#00f7ff" d="M370.6 590.9H379.8V598.5H370.6zM477.7 721.8H495.8V729.3H477.7z"/>
<path fill="#ffc700" d="M459.8 590.9H469.1V598.5H459.8zM477.7 612.7H486.9V620.3H477.7zM468.8 641.8H486.9V649.4H468.8zM343.8 656.3H353.1V663.9H343.8zM468.8 656.3H486.9V663.9H468.8zM504.5 685.4H513.7V693H504.5z"/>
<path fill="#0078ff" d="M424.2 598.2H433.4V605.7H424.2zM388.5 612.7H397.7V620.3H388.5zM433.1 721.8H451.2V729.3H433.1z"/>
<path fill="#00b7ff" d="M424.2 612.7H433.4V620.3H424.2zM415.2 620H424.5V627.5H415.2zM406.3 721.8H415.5V729.3H406.3z"/>
<path fill="#78ff87" d="M415.2 699.9H424.5V707.5H415.2z"/>
<path fill="#38ffc7" d="M459.8 707.2H469.1V714.8H459.8zM540.2 721.8H558.3V729.3H540.2z"/>
</g>
<g clip-path="url(#c6)">
<path d="M331.6 556.1L336.5 540.6L344.6 546.2z" fill="#000"/>
<path d="M385.5 556.9L373.5 545.9L382 541z" fill="#000"/>
<path d="M452.6 558.6L443.9 544.9L453.3 542.4z" fill="#000"/>
<path d="M500.5 539.2L486.1 546.8L484.4 537.1z" fill="#000"/>
<path d="M534.1 533.7L523.1 545.7L518.2 537.2z" fill="#000"/>
<path d="M571.7 539.2L557.3 546.8L555.6 537.1z" fill="#000"/>
<path d="M335.6 580.2L336.3 563.9L345.5 567.3z" fill="#000"/>
<path d="M455.4 579.6L444.4 567.6L453.3 563.5z" fill="#000"/>
<path d="M500.5 561.2L486.1 568.8L484.4 559.1z" fill="#000"/>
<path d="M534.8 557L522.8 568L518.7 559.1z" fill="#000"/>
<path d="M571.9 562.7L556.9 569L556.1 559.2z" fill="#000"/>
<path d="M340.8 603.2L336.5 587.5L346.2 587.9z" fill="#000"/>
<path d="M497.7 596L482.2 591.1L487.8 583z" fill="#000"/>
<path d="M536.3 584.7L521.3 591L520.5 581.2z" fill="#000"/>
<path d="M571.9 584.7L556.9 591L556.1 581.2z" fill="#000"/>
<path d="M349.9 622.9L337.9 611.9L346.4 607z" fill="#000"/>
<path d="M497.7 618L482.2 613.1L487.8 605z" fill="#000"/>
<path d="M536.4 608.2L520.9 613.1L520.9 603.3z" fill="#000"/>
<path d="M572 608.2L556.5 613.1L556.5 603.3z" fill="#000"/>
<path d="M356.1 638.7L340.2 635.2L345.1 626.7z" fill="#000"/>
<path d="M447.6 647.2L443.3 631.5L453 631.9z" fill="#000"/>
<path d="M497.7 640L482.2 635.1L487.8 627z" fill="#000"/>
<path d="M536.4 630.2L520.9 635.1L520.9 625.3z" fill="#000"/>
<path d="M572 630.2L556.5 635.1L556.5 625.3z" fill="#000"/>
<path d="M355.3 662L339.8 657.1L345.4 649z" fill="#000"/>
<path d="M382 668.5L372.8 655.1L382.1 652.2z" fill="#000"/>
<path d="M412.6 669.2L407.7 653.7L417.5 653.7z" fill="#000"/>
<path d="M452.6 668.6L443.9 654.9L453.3 652.4z" fill="#000"/>
<path d="M497.7 662L482.2 657.1L487.8 649z" fill="#000"/>
<path d="M536.1 655.2L520 657.3L521.7 647.6z" fill="#000"/>
<path d="M572 652.2L556.5 657.1L556.5 647.3z" fill="#000"/>
<path d="M352.3 687.2L338.6 678.5L346.1 672.2z" fill="#000"/>
<path d="M382.8 690.2L372.9 677.3L382.1 673.9z" fill="#000"/>
<path d="M417 690.6L408.3 676.9L417.7 674.4z" fill="#000"/>
<path d="M460.2 686.2L445.8 678.7L452.7 671.8z" fill="#000"/>
<path d="M499.8 680L483.5 679.3L486.9 670.1z" fill="#000"/>
<path d="M572 674.2L556.5 679.1L556.5 669.3z" fill="#000"/>
<path d="M351.2 710.1L338.2 700.2L346.3 694.6z" fill="#000"/>
<path d="M381.4 712.6L372.7 698.9L382.1 696.4z" fill="#000"/>
<path d="M415.6 712.9L408 698.5L417.7 696.8z" fill="#000"/>
<path d="M464.2 702L447.9 701.3L451.3 692.1z" fill="#000"/>
<path d="M535.4 712.4L522.5 722.3L519.1 713.1z" fill="#000"/>
<path d="M571.4 713.8L557.7 722.5L555.2 713.1z" fill="#000"/>
<path d="M326 540L353.9 540L354.6 543L355.2 546L355.9 549L356.6 552L357.3 555L358.1 558L358.8 561L359.6 564L360.4 567L361.1 570L362 573L362.8 576L363.6 579L364.5 582L365.3 585L366.2 588L367.1 591L368.1 594L369 597L370 600L371 603L372 606L373 609L374 612L375.1 615L376.2 618L377.3 621L378.4 624L379.6 627L380.7 630L381.9 633L383.2 636L384.4 639L385.7 642L387 645L388.3 648L389.6 651L391 654L392.4 657L393.8 660L395.3 663L396.8 666L398.3 669L399.9 672L401.4 675L403 678L404.7 681L406.4 684L408.1 687L409.8 690L411.6 693L413.4 696L415.3 699L417.1 702L419.1 705L421 708L423 711L425.1 714L427.1 717L429.3 720L431.4 723L433.6 726L435.9 729L436.3 729.5L447.7 729.5L448.1 729L450.4 726L452.6 723L454.7 720L456.9 717L458.9 714L461 711L463 708L464.9 705L466.9 702L468.7 699L470.6 696L472.4 693L474.2 690L475.9 687L477.6 684L479.3 681L481 678L482.6 675L484.1 672L485.7 669L487.2 666L488.7 663L490.2 660L491.6 657L493 654L494.4 651L495.7 648L497 645L498.3 642L499.6 639L500.8 636L502.1 633L503.3 630L504.4 627L505.6 624L506.7 621L507.8 618L508.9 615L510 612L511 609L512 606L513 603L514 600L515 597L515.9 594L516.9 591L517.8 588L518.7 585L519.5 582L520.4 579L521.2 576L522 573L522.9 570L523.6 567L524.4 564L525.2 561L525.9 558L526.7 555L527.4 552L528.1 549L528.8 546L529.4 543L530.1 540L558 540L558 736.3L326 736.3z" fill="#fff" fill-opacity="0.5"/>
<path d="M353.9 540L354.6 543L355.2 546L355.9 549L356.6 552L357.3 555L358.1 558L358.8 561L359.6 564L360.4 567L361.1 570L362 573L362.8 576L363.6 579L364.5 582L365.3 585L366.2 588L367.1 591L368.1 594L369 597L370 600L371 603L372 606L373 609L374 612L375.1 615L376.2 618L377.3 621L378.4 624L379.6 627L380.7 630L381.9 633L383.2 636L384.4 639L385.7 642L387 645L388.3 648L389.6 651L391 654L392.4 657L393.8 660L395.3 663L396.8 666L398.3 669L399.9 672L401.4 675L403 678L404.7 681L406.4 684L408.1 687L409.8 690L411.6 693L413.4 696L415.3 699L417.1 702L419.1 705L421 708L423 711L425.1 714L427.1 717L429.3 720L431.4 723L433.6 726L435.9 729L436.3 729.5L447.7 729.5L448.1 729L450.4 726L452.6 723L454.7 720L456.9 717L458.9 714L461 711L463 708L464.9 705L466.9 702L468.7 699L470.6 696L472.4 693L474.2 690L475.9 687L477.6 684L479.3 681L481 678L482.6 675L484.1 672L485.7 669L487.2 666L488.7 663L490.2 660L491.6 657L493 654L494.4 651L495.7 648L497 645L498.3 642L499.6 639L500.8 636L502.1 633L503.3 630L504.4 627L505.6 624L506.7 621L507.8 618L508.9 615L510 612L511 609L512 606L513 603L514 600L515 597L515.9 594L516.9 591L517.8 588L518.7 585L519.5 582L520.4 579L521.2 576L522 573L522.9 570L523.6 567L524.4 564L525.2 561L525.9 558L526.7 555L527.4 552L528.1 549L528.8 546L529.4 543L530.1 540" stroke="#000" stroke-width="0.9" fill="none"/>
<path d="M351.2 528.3L340.5 543.4M331.6 556.1L336.5 540.6L344.6 546.2z" stroke="#000" stroke-width="0.9" fill="none" stroke-linejoin="round"/>
<path d="M368.5 527.5L377.8 543.5M385.5 556.9L373.5 545.9L382 541z" stroke="#000" stroke-width="0.9" fill="none" stroke-linejoin="round"/>
<path d="M443.8 525.8L448.6 543.6M452.6 558.6L443.9 544.9L453.3 542.4z" stroke="#000" stroke-width="0.9" fill="none" stroke-linejoin="round"/>
<path d="M467.1 545.2L485.3 541.9M500.5 539.2L486.1 546.8L484.4 537.1z" stroke="#000" stroke-width="0.9" fill="none" stroke-linejoin="round"/>
<path d="M504.7 550.7L520.7 541.5M534.1 533.7L523.1 545.7L518.2 537.2z" stroke="#000" stroke-width="0.9" fill="none" stroke-linejoin="round"/>
<path d="M538.3 545.2L556.5 541.9M571.7 539.2L557.3 546.8L555.6 537.1z" stroke="#000" stroke-width="0.9" fill="none" stroke-linejoin="round"/>
<path d="M347.2 548.2L340.9 565.6M335.6 580.2L336.3 563.9L345.5 567.3z" stroke="#000" stroke-width="0.9" fill="none" stroke-linejoin="round"/>
<path d="M441 548.8L448.8 565.6M455.4 579.6L444.4 567.6L453.3 563.5z" stroke="#000" stroke-width="0.9" fill="none" stroke-linejoin="round"/>
<path d="M467.1 567.2L485.3 563.9M500.5 561.2L486.1 568.8L484.4 559.1z" stroke="#000" stroke-width="0.9" fill="none" stroke-linejoin="round"/>
<path d="M504 571.4L520.8 563.6M534.8 557L522.8 568L518.7 559.1z" stroke="#000" stroke-width="0.9" fill="none" stroke-linejoin="round"/>
<path d="M538.1 565.7L556.5 564.1M571.9 562.7L556.9 569L556.1 559.2z" stroke="#000" stroke-width="0.9" fill="none" stroke-linejoin="round"/>
<path d="M342 569.2L341.3 587.7M340.8 603.2L336.5 587.5L346.2 587.9z" stroke="#000" stroke-width="0.9" fill="none" stroke-linejoin="round"/>
<path d="M469.9 576.4L485 587.1M497.7 596L482.2 591.1L487.8 583z" stroke="#000" stroke-width="0.9" fill="none" stroke-linejoin="round"/>
<path d="M502.5 587.7L520.9 586.1M536.3 584.7L521.3 591L520.5 581.2z" stroke="#000" stroke-width="0.9" fill="none" stroke-linejoin="round"/>
<path d="M538.1 587.7L556.5 586.1M571.9 584.7L556.9 591L556.1 581.2z" stroke="#000" stroke-width="0.9" fill="none" stroke-linejoin="round"/>
<path d="M332.9 593.5L342.1 609.5M349.9 622.9L337.9 611.9L346.4 607z" stroke="#000" stroke-width="0.9" fill="none" stroke-linejoin="round"/>
<path d="M469.9 598.4L485 609.1M497.7 618L482.2 613.1L487.8 605z" stroke="#000" stroke-width="0.9" fill="none" stroke-linejoin="round"/>
<path d="M502.4 608.2L520.9 608.2M536.4 608.2L520.9 613.1L520.9 603.3z" stroke="#000" stroke-width="0.9" fill="none" stroke-linejoin="round"/>
<path d="M538 608.2L556.5 608.2M572 608.2L556.5 613.1L556.5 603.3z" stroke="#000" stroke-width="0.9" fill="none" stroke-linejoin="round"/>
<path d="M326.7 621.7L342.7 631M356.1 638.7L340.2 635.2L345.1 626.7z" stroke="#000" stroke-width="0.9" fill="none" stroke-linejoin="round"/>
<path d="M448.8 613.2L448.1 631.7M447.6 647.2L443.3 631.5L453 631.9z" stroke="#000" stroke-width="0.9" fill="none" stroke-linejoin="round"/>
<path d="M469.9 620.4L485 631.1M497.7 640L482.2 635.1L487.8 627z" stroke="#000" stroke-width="0.9" fill="none" stroke-linejoin="round"/>
<path d="M502.4 630.2L520.9 630.2M536.4 630.2L520.9 635.1L520.9 625.3z" stroke="#000" stroke-width="0.9" fill="none" stroke-linejoin="round"/>
<path d="M538 630.2L556.5 630.2M572 630.2L556.5 635.1L556.5 625.3z" stroke="#000" stroke-width="0.9" fill="none" stroke-linejoin="round"/>
<path d="M327.5 642.4L342.6 653.1M355.3 662L339.8 657.1L345.4 649z" stroke="#000" stroke-width="0.9" fill="none" stroke-linejoin="round"/>
<path d="M372 635.9L377.4 653.6M382 668.5L372.8 655.1L382.1 652.2z" stroke="#000" stroke-width="0.9" fill="none" stroke-linejoin="round"/>
<path d="M412.6 635.2L412.6 653.7M412.6 669.2L407.7 653.7L417.5 653.7z" stroke="#000" stroke-width="0.9" fill="none" stroke-linejoin="round"/>
<path d="M443.8 635.8L448.6 653.6M452.6 668.6L443.9 654.9L453.3 652.4z" stroke="#000" stroke-width="0.9" fill="none" stroke-linejoin="round"/>
<path d="M469.9 642.4L485 653.1M497.7 662L482.2 657.1L487.8 649z" stroke="#000" stroke-width="0.9" fill="none" stroke-linejoin="round"/>
<path d="M502.7 649.2L520.9 652.5M536.1 655.2L520 657.3L521.7 647.6z" stroke="#000" stroke-width="0.9" fill="none" stroke-linejoin="round"/>
<path d="M538 652.2L556.5 652.2M572 652.2L556.5 657.1L556.5 647.3z" stroke="#000" stroke-width="0.9" fill="none" stroke-linejoin="round"/>
<path d="M330.5 661.2L342.4 675.3M352.3 687.2L338.6 678.5L346.1 672.2z" stroke="#000" stroke-width="0.9" fill="none" stroke-linejoin="round"/>
<path d="M371.2 658.2L377.5 675.6M382.8 690.2L372.9 677.3L382.1 673.9z" stroke="#000" stroke-width="0.9" fill="none" stroke-linejoin="round"/>
<path d="M408.2 657.8L413 675.6M417 690.6L408.3 676.9L417.7 674.4z" stroke="#000" stroke-width="0.9" fill="none" stroke-linejoin="round"/>
<path d="M436.2 662.2L449.3 675.3M460.2 686.2L445.8 678.7L452.7 671.8z" stroke="#000" stroke-width="0.9" fill="none" stroke-linejoin="round"/>
<path d="M467.8 668.4L485.2 674.7M499.8 680L483.5 679.3L486.9 670.1z" stroke="#000" stroke-width="0.9" fill="none" stroke-linejoin="round"/>
<path d="M538 674.2L556.5 674.2M572 674.2L556.5 679.1L556.5 669.3z" stroke="#000" stroke-width="0.9" fill="none" stroke-linejoin="round"/>
<path d="M331.6 682.3L342.3 697.4M351.2 710.1L338.2 700.2L346.3 694.6z" stroke="#000" stroke-width="0.9" fill="none" stroke-linejoin="round"/>
<path d="M372.6 679.8L377.4 697.6M381.4 712.6L372.7 698.9L382.1 696.4z" stroke="#000" stroke-width="0.9" fill="none" stroke-linejoin="round"/>
<path d="M409.6 679.5L412.9 697.7M415.6 712.9L408 698.5L417.7 696.8z" stroke="#000" stroke-width="0.9" fill="none" stroke-linejoin="round"/>
<path d="M432.2 690.4L449.6 696.7M464.2 702L447.9 701.3L451.3 692.1z" stroke="#000" stroke-width="0.9" fill="none" stroke-linejoin="round"/>
<path d="M503.4 724L520.8 717.7M535.4 712.4L522.5 722.3L519.1 713.1z" stroke="#000" stroke-width="0.9" fill="none" stroke-linejoin="round"/>
<path d="M538.6 722.6L556.4 717.8M571.4 713.8L557.7 722.5L555.2 713.1z" stroke="#000" stroke-width="0.9" fill="none" stroke-linejoin="round"/>
<path transform="translate(326 540)" d="M76.9 130.0C77.1 131.7 76.6 133.7 75.6 135.4C74.6 137.1 73.0 138.8 71.0 140.2C69.1 141.6 66.5 142.9 63.9 143.8C61.2 144.7 58.1 145.4 55.2 145.6C52.3 145.9 49.1 145.8 46.3 145.4C43.6 144.9 40.8 144.1 38.6 143.1C36.5 142.0 34.5 140.6 33.3 139.1C32.0 137.6 31.2 135.7 31.1 134.0C30.9 132.3 31.4 130.3 32.4 128.6C33.4 126.9 35.0 125.2 37.0 123.8C38.9 122.4 41.5 121.1 44.1 120.2C46.8 119.3 49.9 118.6 52.8 118.4C55.7 118.1 58.9 118.2 61.7 118.6C64.4 119.1 67.2 119.9 69.4 120.9C71.5 122.0 73.5 123.4 74.7 124.9C76.0 126.4 76.8 128.3 76.9 130.0z" stroke="#000" stroke-width="3.8" fill="none" stroke-linejoin="round" stroke-linecap="round"/>
<path transform="translate(326 540)" d="M155.2 24.8C155.7 26.0 156.1 27.3 156.3 28.5C156.5 29.8 156.4 31.1 156.2 32.2C156.0 33.3 155.5 34.3 154.9 35.2C154.3 36.0 153.5 36.7 152.6 37.1C151.8 37.5 150.7 37.7 149.7 37.6C148.7 37.5 147.6 37.2 146.6 36.6C145.6 36.1 144.6 35.3 143.7 34.4C142.9 33.5 142.1 32.3 141.6 31.2C141.1 30.0 140.7 28.7 140.5 27.5C140.3 26.2 140.4 24.9 140.6 23.8C140.8 22.7 141.3 21.7 141.9 20.8C142.5 20.0 143.3 19.3 144.2 18.9C145.0 18.5 146.1 18.3 147.1 18.4C148.1 18.5 149.2 18.8 150.2 19.4C151.2 19.9 152.2 20.7 153.1 21.6C153.9 22.5 154.7 23.7 155.2 24.8z" stroke="#000" stroke-width="3.8" fill="none" stroke-linejoin="round" stroke-linecap="round"/>
<path transform="translate(326 540)" d="M232.0 1.0L215.6 16.6L199.0 31.0L182.4 43.5L172.0 51.8" stroke="#000" stroke-width="3.8" fill="none" stroke-linejoin="round" stroke-linecap="round"/>
<path transform="translate(326 540)" d="M157.5 39.4L165.8 47.7L172.0 51.8" stroke="#000" stroke-width="3.8" fill="none" stroke-linejoin="round" stroke-linecap="round"/>
<path transform="translate(326 540)" d="M172.0 51.8C172.0 55.6 172.0 67.3 172.0 74.6C172.0 81.9 171.7 89.2 172.0 95.4C172.3 101.6 172.6 106.5 174.0 112.0C175.4 117.5 177.5 123.7 180.3 128.5C183.1 133.3 186.5 137.9 190.7 141.0C194.8 144.1 200.4 146.5 205.2 147.2C210.0 147.9 215.9 146.4 219.7 145.0C223.5 143.6 226.6 140.0 228.0 139.0" stroke="#000" stroke-width="3.8" fill="none" stroke-linejoin="round" stroke-linecap="round"/>
<path d="M326 647.1H562" stroke="#000" stroke-width="4.6" stroke-dasharray="23.5 15.2" stroke-dashoffset="17.5"/>
<path d="M326 694.8H562" stroke="#000" stroke-width="4.6" stroke-dasharray="23.5 15.2" stroke-dashoffset="34.2"/>
</g>
<rect x="325.5" y="661.8" width="4.3" height="23" fill="#000"/>
<path d="M558.2 540V736.3" stroke="#000" stroke-width="1.3"/>
<rect x="555.2" y="665" width="3.6" height="24" fill="#000"/>
<path d="M325.5 540V737.3" stroke="#000" stroke-width="1"/>
<text x="318" y="546.9" text-anchor="end" font-size="19">4</text>
<text x="318" y="636.7" text-anchor="end" font-size="19">8</text>
<text x="324.3" y="651.1" text-anchor="end" font-size="19" font-weight="bold">9</text>
<text x="326" y="700.7" text-anchor="end" font-size="19" font-weight="bold">13</text>
<text x="317.5" y="728.3" text-anchor="end" font-size="19">16</text>
<text x="329.4" y="762.1" text-anchor="middle" font-size="19">1984</text>
<text x="382.7" y="762.1" text-anchor="middle" font-size="19">1990</text>
<text x="436" y="762.1" text-anchor="middle" font-size="19">1996</text>
<text x="489.3" y="762.1" text-anchor="middle" font-size="19">2002</text>
<text x="542.6" y="762.1" text-anchor="middle" font-size="19">2008</text>
<text x="438.5" y="527.2" text-anchor="middle" font-size="19" textLength="45.9">reg 6</text>
<text transform="translate(20.8 138) rotate(-90)" text-anchor="middle" font-size="20" textLength="131.6">Period (years)</text>
<text transform="translate(21.2 385.5) rotate(-90)" text-anchor="middle" font-size="20" textLength="131.6">Period (years)</text>
<text transform="translate(16.2 643) rotate(-90)" text-anchor="middle" font-size="20" textLength="131.6">Period (years)</text>
<text x="167.1" y="789" text-anchor="middle" font-size="19" textLength="51.8">Years</text>
<text x="438.1" y="789" text-anchor="middle" font-size="19" textLength="51.8">Years</text>
</svg>
</body></html>
